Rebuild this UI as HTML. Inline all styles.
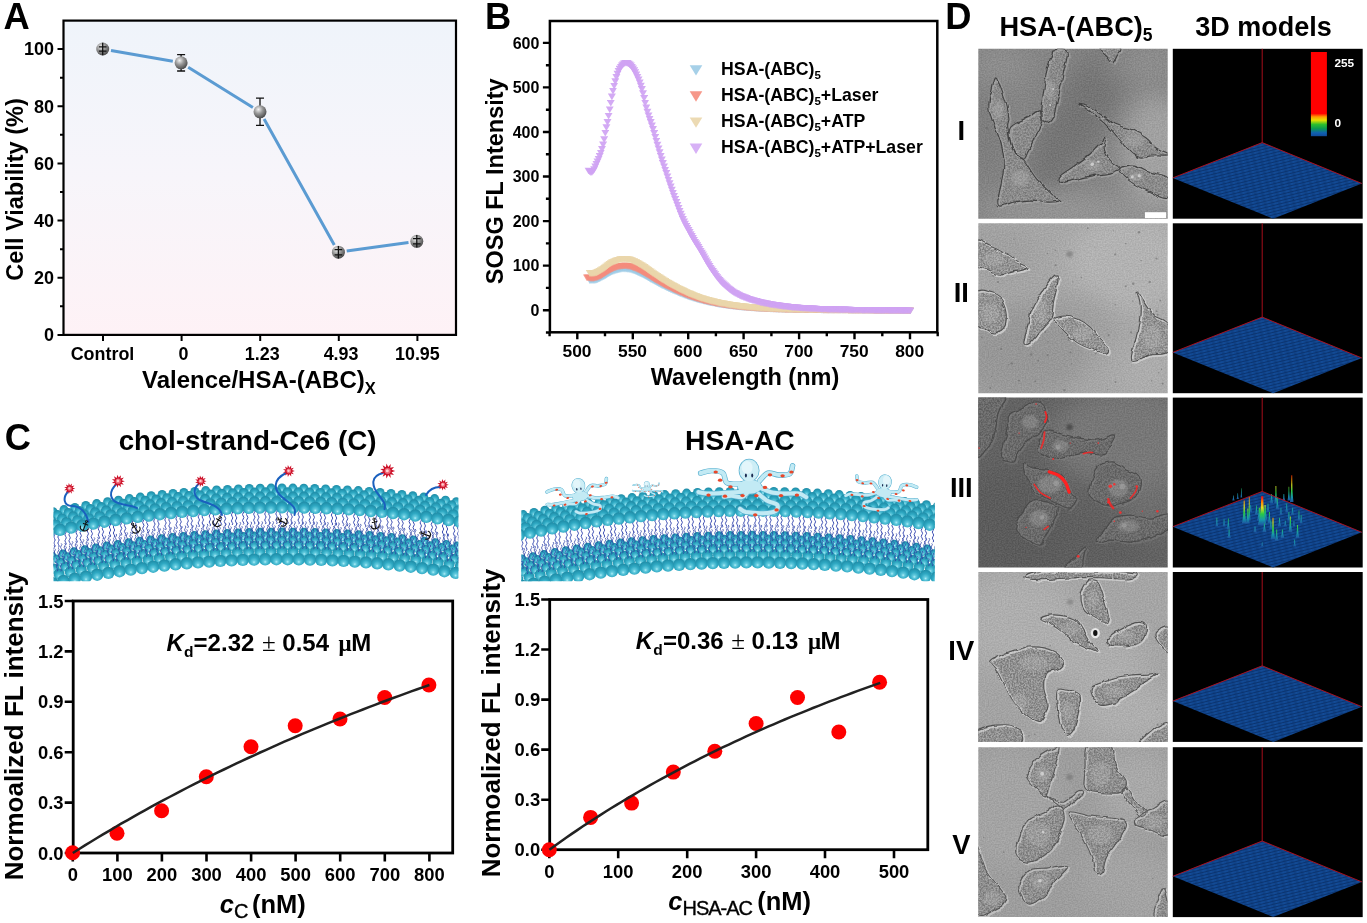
<!DOCTYPE html>
<html lang="en"><head><meta charset="utf-8"><title>Figure</title>
<style>
html,body{margin:0;padding:0;background:#fff;}
body{width:1367px;height:923px;overflow:hidden;}
svg{display:block}
text{font-family:"Liberation Sans",Arial,Helvetica,sans-serif;font-weight:bold;fill:#000}
.it{font-style:italic}
.rg{font-weight:normal}
</style></head><body>
<svg width="1367" height="923" viewBox="0 0 1367 923">
<!-- p_defs -->
<defs>
<linearGradient id="gA" x1="0" y1="0" x2="0" y2="1">
<stop offset="0" stop-color="#eff4fa"/><stop offset="0.5" stop-color="#f7f5fa"/><stop offset="1" stop-color="#fef2f6"/>
</linearGradient>
<radialGradient id="gSph" cx="0.38" cy="0.32" r="0.7">
<stop offset="0" stop-color="#f2f2f2"/><stop offset="0.45" stop-color="#9a9a9a"/><stop offset="1" stop-color="#4a4a4a"/>
</radialGradient>
</defs>
<rect x="0" y="0" width="1367" height="923" fill="#ffffff"/>
<!-- p_a -->
<rect x="63.5" y="20.6" width="392.5" height="314.29999999999995" fill="url(#gA)"/>
<path d="M111.0 50.5L172.8 61.3M188.2 67.2L252.9 107.4M264.1 119.1L334.3 244.9M346.7 251.0L408.5 242.5" fill="none" stroke="#5b9bd2" stroke-width="3"/>
<path d="M181.1 54.599999999999994V71.0M177.1 54.599999999999994h8M177.1 71.0h8" stroke="#111" stroke-width="1.3" fill="none"/>
<path d="M260.0 98.2V125.39999999999999M256.0 98.2h8M256.0 125.39999999999999h8" stroke="#111" stroke-width="1.3" fill="none"/>
<circle cx="102.7" cy="49.0" r="6.5" fill="url(#gSph)"/>
<circle cx="181.1" cy="62.8" r="6.5" fill="url(#gSph)"/>
<circle cx="260.0" cy="111.8" r="6.5" fill="url(#gSph)"/>
<circle cx="338.4" cy="252.2" r="6.5" fill="url(#gSph)"/>
<circle cx="416.8" cy="241.3" r="6.5" fill="url(#gSph)"/>
<path d="M102.7 42.7V55.3M98.9 46.8h7.6M98.9 51.2h7.6" stroke="#111" stroke-width="1.3" fill="none"/>
<path d="M338.4 245.89999999999998V258.5M334.59999999999997 249.6h7.6M334.59999999999997 254.79999999999998h7.6" stroke="#111" stroke-width="1.3" fill="none"/>
<path d="M416.8 235.0V247.60000000000002M413.0 238.70000000000002h7.6M413.0 243.9h7.6" stroke="#111" stroke-width="1.3" fill="none"/>
<rect x="63.5" y="20.6" width="392.5" height="314.29999999999995" fill="none" stroke="#000" stroke-width="2.2"/>
<path d="M63.5 334.9h-6M63.5 277.7h-6M63.5 220.6h-6M63.5 163.4h-6M63.5 106.3h-6M63.5 49.1h-6M63.5 306.3h-3.5M63.5 249.2h-3.5M63.5 192.0h-3.5M63.5 134.8h-3.5M63.5 77.7h-3.5M103 334.9v6M181.6 334.9v6M260.2 334.9v6M338.8 334.9v6M417.4 334.9v6" stroke="#000" stroke-width="2" fill="none"/>
<text x="54" y="341.2" font-size="18" text-anchor="end">0</text>
<text x="54" y="284.0" font-size="18" text-anchor="end">20</text>
<text x="54" y="226.9" font-size="18" text-anchor="end">40</text>
<text x="54" y="169.7" font-size="18" text-anchor="end">60</text>
<text x="54" y="112.6" font-size="18" text-anchor="end">80</text>
<text x="54" y="55.4" font-size="18" text-anchor="end">100</text>
<text x="102.5" y="360.3" font-size="17.9" text-anchor="middle">Control</text>
<text x="183.6" y="360.3" font-size="17.9" text-anchor="middle">0</text>
<text x="262.2" y="360.3" font-size="17.9" text-anchor="middle">1.23</text>
<text x="341.1" y="360.3" font-size="17.9" text-anchor="middle">4.93</text>
<text x="417.4" y="360.3" font-size="17.9" text-anchor="middle">10.95</text>
<text x="142" y="387.6" font-size="24">Valence/HSA-(ABC)<tspan font-size="16.5" dy="6.6">X</tspan></text>
<text transform="translate(22.5,189.5) rotate(-90)" font-size="23.5" text-anchor="middle">Cell Viability (%)</text>
<text x="3.6" y="29" font-size="36.3">A</text>
<!-- p_b -->
<defs>
<marker id="mB1" viewBox="-6 -5 12 10" markerWidth="8.4" markerHeight="7" markerUnits="userSpaceOnUse" refX="0" refY="0" orient="0"><path d="M-5.7 -4.6H5.7L0 5Z" fill="#9ccbe6" fill-opacity="0.8"/></marker>
<marker id="mB2" viewBox="-6 -5 12 10" markerWidth="8.4" markerHeight="7" markerUnits="userSpaceOnUse" refX="0" refY="0" orient="0"><path d="M-5.7 -4.6H5.7L0 5Z" fill="#f58c7c" fill-opacity="0.85"/></marker>
<marker id="mB3" viewBox="-6 -5 12 10" markerWidth="8.4" markerHeight="7" markerUnits="userSpaceOnUse" refX="0" refY="0" orient="0"><path d="M-5.7 -4.6H5.7L0 5Z" fill="#ead6ab" fill-opacity="0.9"/></marker>
<marker id="mB4" viewBox="-6 -5 12 10" markerWidth="8.4" markerHeight="7" markerUnits="userSpaceOnUse" refX="0" refY="0" orient="0"><path d="M-5.7 -4.6H5.7L0 5Z" fill="#cfa3f3" fill-opacity="0.92"/></marker>
</defs>
<polyline points="589.8,280.4 590.9,280.5 592.0,280.5 593.1,280.5 594.2,280.4 595.3,280.2 596.4,280.0 597.5,279.6 598.6,279.1 599.7,278.7 600.8,278.1 602.0,277.5 603.1,276.9 604.2,276.3 605.3,275.7 606.4,275.0 607.5,274.3 608.6,273.6 609.7,273.0 610.8,272.4 611.9,271.9 613.0,271.4 614.2,271.0 615.3,270.6 616.4,270.3 617.5,270.0 618.6,269.7 619.7,269.4 620.8,269.3 621.9,269.1 623.0,269.1 624.1,269.0 625.2,269.0 626.4,269.1 627.5,269.2 628.6,269.3 629.7,269.5 630.8,269.7 631.9,270.1 633.0,270.5 634.1,270.9 635.2,271.3 636.3,271.7 637.4,272.2 638.5,272.7 639.7,273.2 640.8,273.8 641.9,274.3 643.0,274.9 644.1,275.5 645.2,276.0 646.3,276.6 647.4,277.3 648.5,277.9 649.6,278.5 650.7,279.2 651.9,279.8 653.0,280.4 654.1,281.1 655.2,281.7 656.3,282.2 657.4,282.8 658.5,283.4 659.6,284.0 660.7,284.6 661.8,285.2 662.9,285.8 664.1,286.3 665.2,286.9 666.3,287.4 667.4,287.9 668.5,288.4 669.6,288.9 670.7,289.4 671.8,289.9 672.9,290.4 674.0,290.9 675.1,291.4 676.3,291.8 677.4,292.3 678.5,292.8 679.6,293.2 680.7,293.7 681.8,294.1 682.9,294.5 684.0,295.0 685.1,295.4 686.2,295.8 687.3,296.2 688.5,296.6 689.6,297.0 690.7,297.3 691.8,297.7 692.9,298.1 694.0,298.4 695.1,298.8 696.2,299.1 697.3,299.4 698.4,299.7 699.5,300.0 700.7,300.3 701.8,300.6 702.9,300.9 704.0,301.2 705.1,301.5 706.2,301.7 707.3,302.0 708.4,302.2 709.5,302.5 710.6,302.7 711.7,302.9 712.9,303.1 714.0,303.3 715.1,303.6 716.2,303.8 717.3,304.0 718.4,304.2 719.5,304.4 720.6,304.5 721.7,304.7 722.8,304.9 723.9,305.1 725.1,305.2 726.2,305.4 727.3,305.5 728.4,305.7 729.5,305.8 730.6,306.0 731.7,306.1 732.8,306.2 733.9,306.4 735.0,306.5 736.1,306.6 737.3,306.7 738.4,306.9 739.5,307.0 740.6,307.1 741.7,307.2 742.8,307.3 743.9,307.4 745.0,307.5 746.1,307.5 747.2,307.6 748.3,307.7 749.4,307.8 750.6,307.9 751.7,308.0 752.8,308.0 753.9,308.1 755.0,308.2 756.1,308.3 757.2,308.3 758.3,308.4 759.4,308.5 760.5,308.5 761.6,308.6 762.8,308.6 763.9,308.7 765.0,308.7 766.1,308.8 767.2,308.8 768.3,308.9 769.4,308.9 770.5,309.0 771.6,309.0 772.7,309.0 773.8,309.1 775.0,309.1 776.1,309.2 777.2,309.2 778.3,309.2 779.4,309.3 780.5,309.3 781.6,309.3 782.7,309.4 783.8,309.4 784.9,309.4 786.0,309.4 787.2,309.5 788.3,309.5 789.4,309.5 790.5,309.6 791.6,309.6 792.7,309.6 793.8,309.6 794.9,309.6 796.0,309.7 797.1,309.7 798.2,309.7 799.4,309.7 800.5,309.7 801.6,309.7 802.7,309.8 803.8,309.8 804.9,309.8 806.0,309.8 807.1,309.8 808.2,309.8 809.3,309.8 810.4,309.8 811.6,309.9 812.7,309.9 813.8,309.9 814.9,309.9 816.0,309.9 817.1,309.9 818.2,309.9 819.3,309.9 820.4,309.9 821.5,310.0 822.6,310.0 823.8,310.0 824.9,310.0 826.0,310.0 827.1,310.0 828.2,310.0 829.3,310.0 830.4,310.0 831.5,310.0 832.6,310.0 833.7,310.0 834.8,310.1 836.0,310.1 837.1,310.1 838.2,310.1 839.3,310.1 840.4,310.1 841.5,310.1 842.6,310.1 843.7,310.1 844.8,310.1 845.9,310.1 847.0,310.1 848.2,310.2 849.3,310.2 850.4,310.2 851.5,310.2 852.6,310.2 853.7,310.2 854.8,310.2 855.9,310.2 857.0,310.2 858.1,310.2 859.2,310.2 860.3,310.2 861.5,310.3 862.6,310.3 863.7,310.3 864.8,310.3 865.9,310.3 867.0,310.3 868.1,310.3 869.2,310.3 870.3,310.3 871.4,310.3 872.5,310.3 873.7,310.3 874.8,310.4 875.9,310.4 877.0,310.4 878.1,310.4 879.2,310.4 880.3,310.4 881.4,310.4 882.5,310.4 883.6,310.4 884.7,310.4 885.9,310.4 887.0,310.4 888.1,310.5 889.2,310.5 890.3,310.5 891.4,310.5 892.5,310.5 893.6,310.5 894.7,310.5 895.8,310.5 896.9,310.5 898.1,310.5 899.2,310.5 900.3,310.5 901.4,310.5 902.5,310.6 903.6,310.6 904.7,310.6 905.8,310.6 906.9,310.6 908.0,310.6 909.1,310.6 910.3,310.6" fill="none" stroke="none" marker-start="url(#mB1)" marker-mid="url(#mB1)" marker-end="url(#mB1)"/>
<polyline points="587.0,277.8 588.1,277.8 589.2,278.0 590.3,278.2 591.4,278.3 592.5,278.3 593.6,278.2 594.7,278.1 595.9,277.8 597.0,277.5 598.1,277.0 599.2,276.5 600.3,276.0 601.4,275.4 602.5,274.8 603.6,274.1 604.7,273.4 605.8,272.7 606.9,272.0 608.1,271.2 609.2,270.5 610.3,269.9 611.4,269.3 612.5,268.8 613.6,268.3 614.7,267.8 615.8,267.4 616.9,267.1 618.0,266.8 619.1,266.5 620.3,266.2 621.4,266.1 622.5,266.0 623.6,265.9 624.7,265.9 625.8,265.9 626.9,266.0 628.0,266.2 629.1,266.3 630.2,266.5 631.3,266.9 632.5,267.2 633.6,267.7 634.7,268.1 635.8,268.5 636.9,269.0 638.0,269.6 639.1,270.1 640.2,270.7 641.3,271.3 642.4,271.9 643.5,272.5 644.6,273.1 645.8,273.8 646.9,274.4 648.0,275.1 649.1,275.8 650.2,276.5 651.3,277.2 652.4,277.9 653.5,278.5 654.6,279.2 655.7,279.8 656.8,280.5 658.0,281.1 659.1,281.7 660.2,282.4 661.3,283.0 662.4,283.6 663.5,284.2 664.6,284.8 665.7,285.4 666.8,285.9 667.9,286.5 669.0,287.1 670.2,287.6 671.3,288.1 672.4,288.7 673.5,289.2 674.6,289.7 675.7,290.2 676.8,290.7 677.9,291.2 679.0,291.7 680.1,292.2 681.2,292.6 682.4,293.1 683.5,293.6 684.6,294.0 685.7,294.5 686.8,294.9 687.9,295.4 689.0,295.8 690.1,296.2 691.2,296.6 692.3,297.0 693.4,297.3 694.6,297.7 695.7,298.1 696.8,298.4 697.9,298.8 699.0,299.1 700.1,299.4 701.2,299.8 702.3,300.1 703.4,300.4 704.5,300.7 705.6,300.9 706.8,301.2 707.9,301.5 709.0,301.8 710.1,302.0 711.2,302.2 712.3,302.5 713.4,302.7 714.5,302.9 715.6,303.2 716.7,303.4 717.8,303.6 719.0,303.8 720.1,304.0 721.2,304.2 722.3,304.4 723.4,304.6 724.5,304.8 725.6,304.9 726.7,305.1 727.8,305.3 728.9,305.4 730.0,305.6 731.2,305.7 732.3,305.9 733.4,306.0 734.5,306.1 735.6,306.3 736.7,306.4 737.8,306.5 738.9,306.7 740.0,306.8 741.1,306.9 742.2,307.0 743.4,307.1 744.5,307.2 745.6,307.3 746.7,307.4 747.8,307.5 748.9,307.6 750.0,307.7 751.1,307.8 752.2,307.8 753.3,307.9 754.4,308.0 755.5,308.1 756.7,308.2 757.8,308.2 758.9,308.3 760.0,308.4 761.1,308.4 762.2,308.5 763.3,308.5 764.4,308.6 765.5,308.6 766.6,308.7 767.7,308.7 768.9,308.8 770.0,308.8 771.1,308.9 772.2,308.9 773.3,309.0 774.4,309.0 775.5,309.1 776.6,309.1 777.7,309.1 778.8,309.2 779.9,309.2 781.1,309.2 782.2,309.3 783.3,309.3 784.4,309.3 785.5,309.4 786.6,309.4 787.7,309.4 788.8,309.5 789.9,309.5 791.0,309.5 792.1,309.5 793.3,309.6 794.4,309.6 795.5,309.6 796.6,309.6 797.7,309.7 798.8,309.7 799.9,309.7 801.0,309.7 802.1,309.7 803.2,309.7 804.3,309.7 805.5,309.8 806.6,309.8 807.7,309.8 808.8,309.8 809.9,309.8 811.0,309.8 812.1,309.8 813.2,309.9 814.3,309.9 815.4,309.9 816.5,309.9 817.7,309.9 818.8,309.9 819.9,309.9 821.0,309.9 822.1,309.9 823.2,310.0 824.3,310.0 825.4,310.0 826.5,310.0 827.6,310.0 828.7,310.0 829.9,310.0 831.0,310.0 832.1,310.0 833.2,310.0 834.3,310.0 835.4,310.1 836.5,310.1 837.6,310.1 838.7,310.1 839.8,310.1 840.9,310.1 842.1,310.1 843.2,310.1 844.3,310.1 845.4,310.1 846.5,310.1 847.6,310.1 848.7,310.2 849.8,310.2 850.9,310.2 852.0,310.2 853.1,310.2 854.2,310.2 855.4,310.2 856.5,310.2 857.6,310.2 858.7,310.2 859.8,310.2 860.9,310.3 862.0,310.3 863.1,310.3 864.2,310.3 865.3,310.3 866.4,310.3 867.6,310.3 868.7,310.3 869.8,310.3 870.9,310.3 872.0,310.3 873.1,310.4 874.2,310.4 875.3,310.4 876.4,310.4 877.5,310.4 878.6,310.4 879.8,310.4 880.9,310.4 882.0,310.4 883.1,310.4 884.2,310.4 885.3,310.4 886.4,310.5 887.5,310.5 888.6,310.5 889.7,310.5 890.8,310.5 892.0,310.5 893.1,310.5 894.2,310.5 895.3,310.5 896.4,310.5 897.5,310.5 898.6,310.5 899.7,310.6 900.8,310.6 901.9,310.6 903.0,310.6 904.2,310.6 905.3,310.6 906.4,310.6 907.5,310.6 908.6,310.6 909.7,310.6" fill="none" stroke="none" marker-start="url(#mB2)" marker-mid="url(#mB2)" marker-end="url(#mB2)"/>
<polyline points="589.8,273.3 590.9,273.4 592.0,273.5 593.1,273.4 594.2,273.3 595.3,273.1 596.4,272.8 597.5,272.3 598.6,271.7 599.7,271.1 600.8,270.5 602.0,269.8 603.1,269.0 604.2,268.2 605.3,267.5 606.4,266.6 607.5,265.8 608.6,264.9 609.7,264.1 610.8,263.5 611.9,262.8 613.0,262.2 614.2,261.7 615.3,261.2 616.4,260.8 617.5,260.4 618.6,260.0 619.7,259.7 620.8,259.5 621.9,259.4 623.0,259.3 624.1,259.2 625.2,259.2 626.4,259.3 627.5,259.4 628.6,259.6 629.7,259.8 630.8,260.1 631.9,260.5 633.0,261.0 634.1,261.5 635.2,262.0 636.3,262.5 637.4,263.1 638.5,263.8 639.7,264.4 640.8,265.1 641.9,265.8 643.0,266.5 644.1,267.2 645.2,267.9 646.3,268.7 647.4,269.4 648.5,270.2 649.6,271.0 650.7,271.8 651.9,272.6 653.0,273.4 654.1,274.1 655.2,274.9 656.3,275.6 657.4,276.3 658.5,277.1 659.6,277.8 660.7,278.5 661.8,279.2 662.9,279.9 664.1,280.6 665.2,281.3 666.3,282.0 667.4,282.6 668.5,283.3 669.6,283.9 670.7,284.5 671.8,285.1 672.9,285.7 674.0,286.3 675.1,286.9 676.3,287.5 677.4,288.0 678.5,288.6 679.6,289.2 680.7,289.7 681.8,290.3 682.9,290.8 684.0,291.3 685.1,291.9 686.2,292.4 687.3,292.9 688.5,293.4 689.6,293.8 690.7,294.3 691.8,294.7 692.9,295.2 694.0,295.6 695.1,296.1 696.2,296.5 697.3,296.9 698.4,297.3 699.5,297.6 700.7,298.0 701.8,298.4 702.9,298.7 704.0,299.1 705.1,299.4 706.2,299.7 707.3,300.0 708.4,300.3 709.5,300.6 710.6,300.9 711.7,301.2 712.9,301.4 714.0,301.7 715.1,302.0 716.2,302.2 717.3,302.5 718.4,302.7 719.5,303.0 720.6,303.2 721.7,303.4 722.8,303.6 723.9,303.8 725.1,304.0 726.2,304.2 727.3,304.4 728.4,304.6 729.5,304.8 730.6,305.0 731.7,305.1 732.8,305.3 733.9,305.5 735.0,305.6 736.1,305.8 737.3,305.9 738.4,306.1 739.5,306.2 740.6,306.3 741.7,306.5 742.8,306.6 743.9,306.7 745.0,306.8 746.1,306.9 747.2,307.0 748.3,307.1 749.4,307.2 750.6,307.3 751.7,307.4 752.8,307.5 753.9,307.6 755.0,307.7 756.1,307.8 757.2,307.9 758.3,308.0 759.4,308.0 760.5,308.1 761.6,308.2 762.8,308.3 763.9,308.3 765.0,308.4 766.1,308.4 767.2,308.5 768.3,308.6 769.4,308.6 770.5,308.7 771.6,308.7 772.7,308.8 773.8,308.8 775.0,308.9 776.1,308.9 777.2,308.9 778.3,309.0 779.4,309.0 780.5,309.1 781.6,309.1 782.7,309.2 783.8,309.2 784.9,309.2 786.0,309.3 787.2,309.3 788.3,309.3 789.4,309.4 790.5,309.4 791.6,309.4 792.7,309.5 793.8,309.5 794.9,309.5 796.0,309.5 797.1,309.6 798.2,309.6 799.4,309.6 800.5,309.6 801.6,309.6 802.7,309.7 803.8,309.7 804.9,309.7 806.0,309.7 807.1,309.7 808.2,309.7 809.3,309.8 810.4,309.8 811.6,309.8 812.7,309.8 813.8,309.8 814.9,309.8 816.0,309.8 817.1,309.8 818.2,309.9 819.3,309.9 820.4,309.9 821.5,309.9 822.6,309.9 823.8,309.9 824.9,309.9 826.0,309.9 827.1,310.0 828.2,310.0 829.3,310.0 830.4,310.0 831.5,310.0 832.6,310.0 833.7,310.0 834.8,310.0 836.0,310.0 837.1,310.0 838.2,310.1 839.3,310.1 840.4,310.1 841.5,310.1 842.6,310.1 843.7,310.1 844.8,310.1 845.9,310.1 847.0,310.1 848.2,310.1 849.3,310.2 850.4,310.2 851.5,310.2 852.6,310.2 853.7,310.2 854.8,310.2 855.9,310.2 857.0,310.2 858.1,310.2 859.2,310.2 860.3,310.3 861.5,310.3 862.6,310.3 863.7,310.3 864.8,310.3 865.9,310.3 867.0,310.3 868.1,310.3 869.2,310.3 870.3,310.4 871.4,310.4 872.5,310.4 873.7,310.4 874.8,310.4 875.9,310.4 877.0,310.4 878.1,310.4 879.2,310.4 880.3,310.4 881.4,310.5 882.5,310.5 883.6,310.5 884.7,310.5 885.9,310.5 887.0,310.5 888.1,310.5 889.2,310.5 890.3,310.5 891.4,310.5 892.5,310.5 893.6,310.6 894.7,310.6 895.8,310.6 896.9,310.6 898.1,310.6 899.2,310.6 900.3,310.6 901.4,310.6 902.5,310.6 903.6,310.6 904.7,310.7 905.8,310.7 906.9,310.7 908.0,310.7 909.1,310.7 910.3,310.7" fill="none" stroke="none" marker-start="url(#mB3)" marker-mid="url(#mB3)" marker-end="url(#mB3)"/>
<polyline points="588.6,170.9 589.8,171.8 590.9,172.5 592.0,172.2 593.1,171.0 594.2,169.4 595.3,166.8 596.4,164.1 597.5,161.6 598.6,159.1 599.7,156.3 600.8,153.0 602.0,149.2 603.1,144.8 604.2,139.4 605.3,133.0 606.4,127.4 607.5,122.2 608.6,116.1 609.7,109.6 610.8,103.1 611.9,96.8 613.0,91.0 614.2,86.0 615.3,81.4 616.4,77.3 617.5,73.9 618.6,71.2 619.7,68.9 620.8,67.0 621.9,65.6 623.0,64.6 624.1,63.7 625.2,63.1 626.4,63.0 627.5,63.3 628.6,63.9 629.7,64.8 630.8,65.8 631.9,67.1 633.0,68.7 634.1,70.5 635.2,72.5 636.3,74.7 637.4,77.1 638.5,79.8 639.7,82.7 640.8,85.9 641.9,89.3 643.0,93.5 644.1,98.2 645.2,103.0 646.3,107.7 647.4,111.9 648.5,115.6 649.6,119.0 650.7,122.3 651.9,125.7 653.0,129.3 654.1,133.2 655.2,137.1 656.3,141.0 657.4,144.9 658.5,148.7 659.6,152.4 660.7,156.1 661.8,159.7 662.9,163.2 664.1,166.6 665.2,170.0 666.3,173.3 667.4,176.7 668.5,180.0 669.6,183.4 670.7,186.7 671.8,189.9 672.9,193.1 674.0,196.2 675.1,199.2 676.3,202.2 677.4,205.2 678.5,208.2 679.6,211.1 680.7,213.9 681.8,216.6 682.9,219.2 684.0,221.6 685.1,223.9 686.2,226.1 687.3,228.2 688.5,230.3 689.6,232.3 690.7,234.4 691.8,236.3 692.9,238.3 694.0,240.1 695.1,242.0 696.2,243.7 697.3,245.5 698.4,247.3 699.5,249.1 700.7,251.0 701.8,252.9 702.9,254.8 704.0,256.7 705.1,258.7 706.2,260.6 707.3,262.5 708.4,264.4 709.5,266.2 710.6,268.0 711.7,269.7 712.9,271.3 714.0,272.9 715.1,274.5 716.2,276.0 717.3,277.5 718.4,278.9 719.5,280.2 720.6,281.4 721.7,282.6 722.8,283.7 723.9,284.7 725.1,285.8 726.2,286.8 727.3,287.7 728.4,288.6 729.5,289.5 730.6,290.3 731.7,291.1 732.8,291.9 733.9,292.6 735.0,293.2 736.1,293.8 737.3,294.4 738.4,294.9 739.5,295.5 740.6,296.0 741.7,296.5 742.8,296.9 743.9,297.4 745.0,297.8 746.1,298.2 747.2,298.6 748.3,299.0 749.4,299.4 750.6,299.7 751.7,300.1 752.8,300.4 753.9,300.7 755.0,301.0 756.1,301.3 757.2,301.6 758.3,301.9 759.4,302.1 760.5,302.4 761.6,302.7 762.8,302.9 763.9,303.2 765.0,303.4 766.1,303.6 767.2,303.8 768.3,304.0 769.4,304.3 770.5,304.4 771.6,304.6 772.7,304.8 773.8,305.0 775.0,305.2 776.1,305.3 777.2,305.5 778.3,305.6 779.4,305.8 780.5,305.9 781.6,306.1 782.7,306.2 783.8,306.4 784.9,306.5 786.0,306.7 787.2,306.8 788.3,306.9 789.4,307.0 790.5,307.1 791.6,307.3 792.7,307.4 793.8,307.5 794.9,307.6 796.0,307.7 797.1,307.8 798.2,307.9 799.4,307.9 800.5,308.0 801.6,308.1 802.7,308.2 803.8,308.2 804.9,308.3 806.0,308.4 807.1,308.4 808.2,308.5 809.3,308.6 810.4,308.6 811.6,308.7 812.7,308.7 813.8,308.8 814.9,308.9 816.0,308.9 817.1,309.0 818.2,309.0 819.3,309.1 820.4,309.1 821.5,309.2 822.6,309.2 823.8,309.3 824.9,309.3 826.0,309.3 827.1,309.4 828.2,309.4 829.3,309.4 830.4,309.5 831.5,309.5 832.6,309.5 833.7,309.6 834.8,309.6 836.0,309.6 837.1,309.7 838.2,309.7 839.3,309.7 840.4,309.7 841.5,309.8 842.6,309.8 843.7,309.8 844.8,309.8 845.9,309.9 847.0,309.9 848.2,309.9 849.3,309.9 850.4,309.9 851.5,310.0 852.6,310.0 853.7,310.0 854.8,310.0 855.9,310.0 857.0,310.1 858.1,310.1 859.2,310.1 860.3,310.1 861.5,310.1 862.6,310.2 863.7,310.2 864.8,310.2 865.9,310.2 867.0,310.2 868.1,310.2 869.2,310.3 870.3,310.3 871.4,310.3 872.5,310.3 873.7,310.3 874.8,310.4 875.9,310.4 877.0,310.4 878.1,310.4 879.2,310.4 880.3,310.4 881.4,310.5 882.5,310.5 883.6,310.5 884.7,310.5 885.9,310.5 887.0,310.5 888.1,310.5 889.2,310.6 890.3,310.6 891.4,310.6 892.5,310.6 893.6,310.6 894.7,310.6 895.8,310.7 896.9,310.7 898.1,310.7 899.2,310.7 900.3,310.7 901.4,310.7 902.5,310.7 903.6,310.8 904.7,310.8 905.8,310.8 906.9,310.8 908.0,310.8 909.1,310.8 910.3,310.9" fill="none" stroke="none" marker-start="url(#mB4)" marker-mid="url(#mB4)" marker-end="url(#mB4)"/>
<rect x="549.9" y="21.0" width="387.4" height="311.3" fill="none" stroke="#000" stroke-width="2.5"/>
<path d="M549.9 310.2h-7M549.9 265.6h-7M549.9 221.1h-7M549.9 176.5h-7M549.9 132.0h-7M549.9 87.4h-7M549.9 42.9h-7M549.9 332.5h-4M549.9 287.9h-4M549.9 243.4h-4M549.9 198.8h-4M549.9 154.3h-4M549.9 109.7h-4M549.9 65.2h-4M577.3 332.3v7M632.8 332.3v7M688.2 332.3v7M743.6 332.3v7M799.1 332.3v7M854.5 332.3v7M910.0 332.3v7M549.6 332.3v4M605.0 332.3v4M660.5 332.3v4M715.9 332.3v4M771.4 332.3v4M826.8 332.3v4M882.3 332.3v4M937.7 332.3v4" stroke="#000" stroke-width="2.4" fill="none"/>
<text x="539.4" y="316.0" font-size="16" text-anchor="end">0</text>
<text x="539.4" y="271.4" font-size="16" text-anchor="end">100</text>
<text x="539.4" y="226.9" font-size="16" text-anchor="end">200</text>
<text x="539.4" y="182.3" font-size="16" text-anchor="end">300</text>
<text x="539.4" y="137.8" font-size="16" text-anchor="end">400</text>
<text x="539.4" y="93.2" font-size="16" text-anchor="end">500</text>
<text x="539.4" y="48.7" font-size="16" text-anchor="end">600</text>
<text x="577.0" y="356.8" font-size="17.4" text-anchor="middle">500</text>
<text x="632.5" y="356.8" font-size="17.4" text-anchor="middle">550</text>
<text x="687.9" y="356.8" font-size="17.4" text-anchor="middle">600</text>
<text x="743.4" y="356.8" font-size="17.4" text-anchor="middle">650</text>
<text x="798.8" y="356.8" font-size="17.4" text-anchor="middle">700</text>
<text x="854.2" y="356.8" font-size="17.4" text-anchor="middle">750</text>
<text x="909.7" y="356.8" font-size="17.4" text-anchor="middle">800</text>
<text x="745" y="384.8" font-size="23.5" text-anchor="middle">Wavelength (nm)</text>
<text transform="translate(503.3,181.3) rotate(-90)" font-size="23.5" text-anchor="middle">SOSG FL Intensity</text>
<text x="485.1" y="29" font-size="36.3">B</text>
<path d="M689.7 65.2h12.6l-6.3 10.4z" fill="#9ccbe6" fill-opacity="0.9"/>
<text x="721.1" y="74.7" font-size="17.7">HSA-(ABC)<tspan font-size="11.5" dy="4">5</tspan><tspan dy="-4"></tspan></text>
<path d="M689.7 91.3h12.6l-6.3 10.4z" fill="#f58c7c" fill-opacity="0.9"/>
<text x="721.1" y="100.8" font-size="17.7">HSA-(ABC)<tspan font-size="11.5" dy="4">5</tspan><tspan dy="-4">+Laser</tspan></text>
<path d="M689.7 117.4h12.6l-6.3 10.4z" fill="#ead6ab" fill-opacity="0.9"/>
<text x="721.1" y="126.9" font-size="17.7">HSA-(ABC)<tspan font-size="11.5" dy="4">5</tspan><tspan dy="-4">+ATP</tspan></text>
<path d="M689.7 143.5h12.6l-6.3 10.4z" fill="#d3a9f5" fill-opacity="0.9"/>
<text x="721.1" y="153.0" font-size="17.7">HSA-(ABC)<tspan font-size="11.5" dy="4">5</tspan><tspan dy="-4">+ATP+Laser</tspan></text>
<!-- p_c -->
<rect x="73.2" y="601.0" width="379.5" height="252.0" fill="none" stroke="#000" stroke-width="2.8"/>
<path d="M73.2 853.0h-8.5M73.2 802.6h-8.5M73.2 752.2h-8.5M73.2 701.8h-8.5M73.2 651.4h-8.5M73.2 601.0h-8.5M72.8 853.0v8.5M117.4 853.0v8.5M161.9 853.0v8.5M206.5 853.0v8.5M251.1 853.0v8.5M295.6 853.0v8.5M340.2 853.0v8.5M384.8 853.0v8.5M429.4 853.0v8.5" stroke="#000" stroke-width="2.6" fill="none"/>
<circle cx="72.6" cy="852.7" r="7.5" fill="#fe0000"/>
<circle cx="117" cy="833.2" r="7.5" fill="#fe0000"/>
<circle cx="161.6" cy="810.8" r="7.5" fill="#fe0000"/>
<circle cx="206.3" cy="776.7" r="7.5" fill="#fe0000"/>
<circle cx="251" cy="746.7" r="7.5" fill="#fe0000"/>
<circle cx="295.2" cy="725.8" r="7.5" fill="#fe0000"/>
<circle cx="340" cy="719" r="7.5" fill="#fe0000"/>
<circle cx="384.7" cy="697.5" r="7.5" fill="#fe0000"/>
<circle cx="428.9" cy="685" r="7.5" fill="#fe0000"/>
<path d="M72.8 853.0 L78.8 849.2 L84.9 845.4 L90.9 841.7 L97.0 838.0 L103.0 834.4 L109.1 830.8 L115.1 827.2 L121.1 823.7 L127.2 820.3 L133.2 816.8 L139.3 813.4 L145.3 810.1 L151.4 806.7 L157.4 803.4 L163.5 800.2 L169.5 797.0 L175.5 793.8 L181.6 790.6 L187.6 787.5 L193.7 784.4 L199.7 781.4 L205.8 778.4 L211.8 775.4 L217.8 772.4 L223.9 769.5 L229.9 766.6 L236.0 763.7 L242.0 760.9 L248.1 758.0 L254.1 755.3 L260.1 752.5 L266.2 749.8 L272.2 747.1 L278.3 744.4 L284.3 741.7 L290.4 739.1 L296.4 736.5 L302.4 733.9 L308.5 731.4 L314.5 728.9 L320.6 726.3 L326.6 723.9 L332.7 721.4 L338.7 719.0 L344.8 716.6 L350.8 714.2 L356.8 711.8 L362.9 709.5 L368.9 707.1 L375.0 704.8 L381.0 702.5 L387.1 700.3 L393.1 698.0 L399.1 695.8 L405.2 693.6 L411.2 691.4 L417.3 689.3 L423.3 687.1 L429.4 685.0" stroke="#222" stroke-width="2.5" fill="none"/>
<text x="63.5" y="859.6" font-size="18.4" text-anchor="end">0.0</text>
<text x="63.5" y="809.2" font-size="18.4" text-anchor="end">0.3</text>
<text x="63.5" y="758.8" font-size="18.4" text-anchor="end">0.6</text>
<text x="63.5" y="708.4" font-size="18.4" text-anchor="end">0.9</text>
<text x="63.5" y="658.0" font-size="18.4" text-anchor="end">1.2</text>
<text x="63.5" y="607.6" font-size="18.4" text-anchor="end">1.5</text>
<text x="72.8" y="880.6" font-size="18.4" text-anchor="middle">0</text>
<text x="117.4" y="880.6" font-size="18.4" text-anchor="middle">100</text>
<text x="161.9" y="880.6" font-size="18.4" text-anchor="middle">200</text>
<text x="206.5" y="880.6" font-size="18.4" text-anchor="middle">300</text>
<text x="251.1" y="880.6" font-size="18.4" text-anchor="middle">400</text>
<text x="295.6" y="880.6" font-size="18.4" text-anchor="middle">500</text>
<text x="340.2" y="880.6" font-size="18.4" text-anchor="middle">600</text>
<text x="384.8" y="880.6" font-size="18.4" text-anchor="middle">700</text>
<text x="429.4" y="880.6" font-size="18.4" text-anchor="middle">800</text>
<text y="650.7" font-size="24"><tspan x="166.4" class="it">K</tspan><tspan x="183.9" y="656.5" font-size="15.5">d</tspan><tspan x="193.6" y="650.7">=2.32</tspan><tspan x="261.9" font-family="Liberation Serif,serif" class="rg" font-size="25">±</tspan><tspan x="282.3">0.54</tspan><tspan x="338.6" font-family="Liberation Serif,serif" font-size="23">μ</tspan><tspan x="351.2">M</tspan></text>
<text transform="translate(23.4,726) rotate(-90)" font-size="26" text-anchor="middle">Normoalized FL intensity</text>
<text x="219.8" y="912.7" font-size="25.5"><tspan class="it">c</tspan><tspan class="rg" font-size="20" dy="5.7" stroke="#000" stroke-width="0.35">C</tspan><tspan x="252" dy="-5.7">(nM)</tspan></text>
<text x="247.6" y="449.6" font-size="27.8" text-anchor="middle">chol-strand-Ce6 (C)</text>
<text x="4.8" y="449.7" font-size="36.3">C</text>
<rect x="549.7" y="599.5" width="378.0999999999999" height="250.20000000000005" fill="none" stroke="#000" stroke-width="2.8"/>
<path d="M549.7 849.7h-8.5M549.7 799.7h-8.5M549.7 749.6h-8.5M549.7 699.6h-8.5M549.7 649.5h-8.5M549.7 599.5h-8.5M549.3 849.7v8.5M618.2 849.7v8.5M687.2 849.7v8.5M756.1 849.7v8.5M825.0 849.7v8.5M894.0 849.7v8.5" stroke="#000" stroke-width="2.6" fill="none"/>
<circle cx="549.3" cy="849.7" r="7.5" fill="#fe0000"/>
<circle cx="590.6" cy="817.4" r="7.5" fill="#fe0000"/>
<circle cx="631.6" cy="803.1" r="7.5" fill="#fe0000"/>
<circle cx="673.3" cy="772.1" r="7.5" fill="#fe0000"/>
<circle cx="714.8" cy="751.3" r="7.5" fill="#fe0000"/>
<circle cx="756.1" cy="723.5" r="7.5" fill="#fe0000"/>
<circle cx="797.5" cy="697.5" r="7.5" fill="#fe0000"/>
<circle cx="838.8" cy="732" r="7.5" fill="#fe0000"/>
<circle cx="879.6" cy="682.2" r="7.5" fill="#fe0000"/>
<path d="M549.3 849.7 L554.9 845.7 L560.5 841.7 L566.1 837.8 L571.7 833.9 L577.3 830.1 L582.9 826.3 L588.6 822.6 L594.2 819.0 L599.8 815.4 L605.4 811.8 L611.0 808.3 L616.6 804.9 L622.2 801.5 L627.8 798.1 L633.4 794.8 L639.0 791.5 L644.6 788.3 L650.2 785.1 L655.8 782.0 L661.5 778.9 L667.1 775.8 L672.7 772.8 L678.3 769.8 L683.9 766.9 L689.5 763.9 L695.1 761.1 L700.7 758.2 L706.3 755.4 L711.9 752.7 L717.5 749.9 L723.1 747.2 L728.8 744.6 L734.4 741.9 L740.0 739.3 L745.6 736.7 L751.2 734.2 L756.8 731.7 L762.4 729.2 L768.0 726.7 L773.6 724.3 L779.2 721.9 L784.8 719.5 L790.4 717.2 L796.0 714.8 L801.7 712.6 L807.3 710.3 L812.9 708.0 L818.5 705.8 L824.1 703.6 L829.7 701.4 L835.3 699.3 L840.9 697.2 L846.5 695.1 L852.1 693.0 L857.7 690.9 L863.3 688.9 L868.9 686.9 L874.6 684.9 L880.2 682.9" stroke="#222" stroke-width="2.5" fill="none"/>
<text x="540.2" y="856.3" font-size="18.4" text-anchor="end">0.0</text>
<text x="540.2" y="806.3" font-size="18.4" text-anchor="end">0.3</text>
<text x="540.2" y="756.2" font-size="18.4" text-anchor="end">0.6</text>
<text x="540.2" y="706.2" font-size="18.4" text-anchor="end">0.9</text>
<text x="540.2" y="656.1" font-size="18.4" text-anchor="end">1.2</text>
<text x="540.2" y="606.1" font-size="18.4" text-anchor="end">1.5</text>
<text x="549.3" y="878.4" font-size="18.4" text-anchor="middle">0</text>
<text x="618.2" y="878.4" font-size="18.4" text-anchor="middle">100</text>
<text x="687.2" y="878.4" font-size="18.4" text-anchor="middle">200</text>
<text x="756.1" y="878.4" font-size="18.4" text-anchor="middle">300</text>
<text x="825.0" y="878.4" font-size="18.4" text-anchor="middle">400</text>
<text x="894.0" y="878.4" font-size="18.4" text-anchor="middle">500</text>
<text y="648.9" font-size="24"><tspan x="635.7" class="it">K</tspan><tspan x="653.2" y="654.7" font-size="15.5">d</tspan><tspan x="662.9" y="648.9">=0.36</tspan><tspan x="731.2" font-family="Liberation Serif,serif" class="rg" font-size="25">±</tspan><tspan x="751.6">0.13</tspan><tspan x="807.9" font-family="Liberation Serif,serif" font-size="23">μ</tspan><tspan x="820.5">M</tspan></text>
<text transform="translate(499.6,723) rotate(-90)" font-size="26" text-anchor="middle">Normoalized FL intensity</text>
<text x="668.3" y="909.6" font-size="25.5"><tspan class="it">c</tspan><tspan class="rg" font-size="20" dy="5.7" letter-spacing="-1" stroke="#000" stroke-width="0.35">HSA-AC</tspan><tspan x="757.3" dy="-5.7">(nM)</tspan></text>
<text x="739.9" y="449.6" font-size="28.2" text-anchor="middle">HSA-AC</text>
<!-- p_mem -->
<defs>
<radialGradient id="gTeal" cx="0.5" cy="0.62" r="0.62" fx="0.5" fy="0.72">
<stop offset="0" stop-color="#b0eef7"/><stop offset="0.2" stop-color="#62cade"/><stop offset="0.55" stop-color="#2fa9c3"/><stop offset="1" stop-color="#1d8aa5"/>
</radialGradient>
<path id="tl1" d="M-2 0q1.4 1.5 0 3t0 3t0 3t0 3t0 2.6M2 0q1.4 1.5 0 3t0 3t0 3t0 3t0 3" fill="none" stroke="#3b4db2" stroke-width="1"/>
<path id="tl2" d="M-1.8 0q1.4 -1.4 0 -2.8t0 -2.8t0 -2.4M1.8 0q1.4 -1.4 0 -2.8t0 -2.8t0 -2.8" fill="none" stroke="#2f45a8" stroke-width="0.95"/>
</defs>
<clipPath id="clL"><rect x="53.5" y="453.8" width="404.9" height="127.49999999999994"/></clipPath>
<g clip-path="url(#clL)">
<g fill="url(#gTeal)"><circle cx="52.1" cy="555.6" r="4.0"/><circle cx="63.0" cy="553.4" r="4.0"/><circle cx="74.0" cy="551.3" r="4.0"/><circle cx="84.9" cy="549.3" r="4.0"/><circle cx="95.9" cy="547.4" r="4.0"/><circle cx="106.8" cy="545.6" r="4.0"/><circle cx="117.8" cy="543.9" r="4.0"/><circle cx="128.7" cy="542.3" r="4.0"/><circle cx="139.7" cy="540.8" r="4.0"/><circle cx="150.6" cy="539.4" r="4.0"/><circle cx="161.6" cy="538.2" r="4.0"/><circle cx="172.5" cy="537.1" r="4.0"/><circle cx="183.4" cy="536.0" r="4.0"/><circle cx="194.4" cy="535.1" r="4.0"/><circle cx="205.4" cy="534.3" r="4.0"/><circle cx="216.3" cy="533.6" r="4.0"/><circle cx="227.2" cy="533.0" r="4.0"/><circle cx="238.2" cy="532.5" r="4.0"/><circle cx="249.2" cy="532.1" r="4.0"/><circle cx="260.1" cy="531.8" r="4.0"/><circle cx="271.1" cy="531.7" r="4.0"/><circle cx="282.0" cy="531.6" r="4.0"/><circle cx="292.9" cy="531.7" r="4.0"/><circle cx="303.9" cy="531.8" r="4.0"/><circle cx="314.9" cy="532.1" r="4.0"/><circle cx="325.8" cy="532.5" r="4.0"/><circle cx="336.8" cy="533.0" r="4.0"/><circle cx="347.7" cy="533.6" r="4.0"/><circle cx="358.6" cy="534.3" r="4.0"/><circle cx="369.6" cy="535.1" r="4.0"/><circle cx="380.6" cy="536.0" r="4.0"/><circle cx="391.5" cy="537.1" r="4.0"/><circle cx="402.4" cy="538.2" r="4.0"/><circle cx="413.4" cy="539.4" r="4.0"/><circle cx="424.4" cy="540.8" r="4.0"/><circle cx="435.3" cy="542.3" r="4.0"/><circle cx="446.2" cy="543.9" r="4.0"/><circle cx="457.2" cy="545.6" r="4.0"/></g>
<g opacity="0.85"><use href="#tl2" x="52.1" y="553.6"/><use href="#tl2" x="63.0" y="551.4"/><use href="#tl2" x="74.0" y="549.3"/><use href="#tl2" x="84.9" y="547.3"/><use href="#tl2" x="95.9" y="545.4"/><use href="#tl2" x="106.8" y="543.6"/><use href="#tl2" x="117.8" y="541.9"/><use href="#tl2" x="128.7" y="540.3"/><use href="#tl2" x="139.7" y="538.8"/><use href="#tl2" x="150.6" y="537.4"/><use href="#tl2" x="161.6" y="536.2"/><use href="#tl2" x="172.5" y="535.1"/><use href="#tl2" x="183.4" y="534.0"/><use href="#tl2" x="194.4" y="533.1"/><use href="#tl2" x="205.4" y="532.3"/><use href="#tl2" x="216.3" y="531.6"/><use href="#tl2" x="227.2" y="531.0"/><use href="#tl2" x="238.2" y="530.5"/><use href="#tl2" x="249.2" y="530.1"/><use href="#tl2" x="260.1" y="529.8"/><use href="#tl2" x="271.1" y="529.7"/><use href="#tl2" x="282.0" y="529.6"/><use href="#tl2" x="292.9" y="529.7"/><use href="#tl2" x="303.9" y="529.8"/><use href="#tl2" x="314.9" y="530.1"/><use href="#tl2" x="325.8" y="530.5"/><use href="#tl2" x="336.8" y="531.0"/><use href="#tl2" x="347.7" y="531.6"/><use href="#tl2" x="358.6" y="532.3"/><use href="#tl2" x="369.6" y="533.1"/><use href="#tl2" x="380.6" y="534.0"/><use href="#tl2" x="391.5" y="535.1"/><use href="#tl2" x="402.4" y="536.2"/><use href="#tl2" x="413.4" y="537.4"/><use href="#tl2" x="424.4" y="538.8"/><use href="#tl2" x="435.3" y="540.3"/><use href="#tl2" x="446.2" y="541.9"/><use href="#tl2" x="457.2" y="543.6"/></g>
<g fill="url(#gTeal)"><circle cx="45.5" cy="561.0" r="4.3"/><circle cx="56.5" cy="558.7" r="4.3"/><circle cx="67.5" cy="556.5" r="4.3"/><circle cx="78.5" cy="554.4" r="4.3"/><circle cx="89.5" cy="552.4" r="4.3"/><circle cx="100.5" cy="550.6" r="4.3"/><circle cx="111.5" cy="548.8" r="4.3"/><circle cx="122.5" cy="547.2" r="4.3"/><circle cx="133.5" cy="545.6" r="4.3"/><circle cx="144.5" cy="544.2" r="4.3"/><circle cx="155.5" cy="542.9" r="4.3"/><circle cx="166.5" cy="541.7" r="4.3"/><circle cx="177.5" cy="540.6" r="4.3"/><circle cx="188.5" cy="539.6" r="4.3"/><circle cx="199.5" cy="538.7" r="4.3"/><circle cx="210.5" cy="537.9" r="4.3"/><circle cx="221.5" cy="537.3" r="4.3"/><circle cx="232.5" cy="536.7" r="4.3"/><circle cx="243.5" cy="536.3" r="4.3"/><circle cx="254.5" cy="535.9" r="4.3"/><circle cx="265.5" cy="535.7" r="4.3"/><circle cx="276.5" cy="535.6" r="4.3"/><circle cx="287.5" cy="535.6" r="4.3"/><circle cx="298.5" cy="535.7" r="4.3"/><circle cx="309.5" cy="535.9" r="4.3"/><circle cx="320.5" cy="536.3" r="4.3"/><circle cx="331.5" cy="536.7" r="4.3"/><circle cx="342.5" cy="537.3" r="4.3"/><circle cx="353.5" cy="537.9" r="4.3"/><circle cx="364.5" cy="538.7" r="4.3"/><circle cx="375.5" cy="539.6" r="4.3"/><circle cx="386.5" cy="540.6" r="4.3"/><circle cx="397.5" cy="541.7" r="4.3"/><circle cx="408.5" cy="542.9" r="4.3"/><circle cx="419.5" cy="544.2" r="4.3"/><circle cx="430.5" cy="545.6" r="4.3"/><circle cx="441.5" cy="547.2" r="4.3"/><circle cx="452.5" cy="548.8" r="4.3"/><circle cx="463.5" cy="550.6" r="4.3"/></g>
<g opacity="0.85"><use href="#tl2" x="45.5" y="558.9"/><use href="#tl2" x="56.5" y="556.6"/><use href="#tl2" x="67.5" y="554.4"/><use href="#tl2" x="78.5" y="552.3"/><use href="#tl2" x="89.5" y="550.3"/><use href="#tl2" x="100.5" y="548.4"/><use href="#tl2" x="111.5" y="546.7"/><use href="#tl2" x="122.5" y="545.0"/><use href="#tl2" x="133.5" y="543.5"/><use href="#tl2" x="144.5" y="542.0"/><use href="#tl2" x="155.5" y="540.7"/><use href="#tl2" x="166.5" y="539.5"/><use href="#tl2" x="177.5" y="538.4"/><use href="#tl2" x="188.5" y="537.4"/><use href="#tl2" x="199.5" y="536.5"/><use href="#tl2" x="210.5" y="535.8"/><use href="#tl2" x="221.5" y="535.1"/><use href="#tl2" x="232.5" y="534.6"/><use href="#tl2" x="243.5" y="534.1"/><use href="#tl2" x="254.5" y="533.8"/><use href="#tl2" x="265.5" y="533.6"/><use href="#tl2" x="276.5" y="533.5"/><use href="#tl2" x="287.5" y="533.5"/><use href="#tl2" x="298.5" y="533.6"/><use href="#tl2" x="309.5" y="533.8"/><use href="#tl2" x="320.5" y="534.1"/><use href="#tl2" x="331.5" y="534.6"/><use href="#tl2" x="342.5" y="535.1"/><use href="#tl2" x="353.5" y="535.8"/><use href="#tl2" x="364.5" y="536.5"/><use href="#tl2" x="375.5" y="537.4"/><use href="#tl2" x="386.5" y="538.4"/><use href="#tl2" x="397.5" y="539.5"/><use href="#tl2" x="408.5" y="540.7"/><use href="#tl2" x="419.5" y="542.0"/><use href="#tl2" x="430.5" y="543.5"/><use href="#tl2" x="441.5" y="545.0"/><use href="#tl2" x="452.5" y="546.7"/><use href="#tl2" x="463.5" y="548.4"/></g>
<g fill="url(#gTeal)"><circle cx="49.9" cy="564.5" r="4.6"/><circle cx="61.0" cy="562.2" r="4.6"/><circle cx="72.0" cy="560.0" r="4.6"/><circle cx="83.1" cy="558.0" r="4.6"/><circle cx="94.1" cy="556.0" r="4.6"/><circle cx="105.2" cy="554.2" r="4.6"/><circle cx="116.2" cy="552.5" r="4.6"/><circle cx="127.3" cy="550.9" r="4.6"/><circle cx="138.3" cy="549.4" r="4.6"/><circle cx="149.4" cy="548.0" r="4.6"/><circle cx="160.4" cy="546.7" r="4.6"/><circle cx="171.5" cy="545.6" r="4.6"/><circle cx="182.6" cy="544.5" r="4.6"/><circle cx="193.6" cy="543.6" r="4.6"/><circle cx="204.6" cy="542.7" r="4.6"/><circle cx="215.7" cy="542.0" r="4.6"/><circle cx="226.8" cy="541.4" r="4.6"/><circle cx="237.8" cy="540.9" r="4.6"/><circle cx="248.8" cy="540.5" r="4.6"/><circle cx="259.9" cy="540.2" r="4.6"/><circle cx="270.9" cy="540.1" r="4.6"/><circle cx="282.0" cy="540.0" r="4.6"/><circle cx="293.1" cy="540.1" r="4.6"/><circle cx="304.1" cy="540.2" r="4.6"/><circle cx="315.1" cy="540.5" r="4.6"/><circle cx="326.2" cy="540.9" r="4.6"/><circle cx="337.2" cy="541.4" r="4.6"/><circle cx="348.3" cy="542.0" r="4.6"/><circle cx="359.4" cy="542.7" r="4.6"/><circle cx="370.4" cy="543.6" r="4.6"/><circle cx="381.4" cy="544.5" r="4.6"/><circle cx="392.5" cy="545.6" r="4.6"/><circle cx="403.6" cy="546.7" r="4.6"/><circle cx="414.6" cy="548.0" r="4.6"/><circle cx="425.6" cy="549.4" r="4.6"/><circle cx="436.7" cy="550.9" r="4.6"/><circle cx="447.8" cy="552.5" r="4.6"/><circle cx="458.8" cy="554.2" r="4.6"/></g>
<g opacity="0.85"><use href="#tl2" x="49.9" y="562.2"/><use href="#tl2" x="61.0" y="559.9"/><use href="#tl2" x="72.0" y="557.7"/><use href="#tl2" x="83.1" y="555.7"/><use href="#tl2" x="94.1" y="553.7"/><use href="#tl2" x="105.2" y="551.9"/><use href="#tl2" x="116.2" y="550.2"/><use href="#tl2" x="127.3" y="548.6"/><use href="#tl2" x="138.3" y="547.1"/><use href="#tl2" x="149.4" y="545.7"/><use href="#tl2" x="160.4" y="544.4"/><use href="#tl2" x="171.5" y="543.3"/><use href="#tl2" x="182.6" y="542.2"/><use href="#tl2" x="193.6" y="541.3"/><use href="#tl2" x="204.6" y="540.4"/><use href="#tl2" x="215.7" y="539.7"/><use href="#tl2" x="226.8" y="539.1"/><use href="#tl2" x="237.8" y="538.6"/><use href="#tl2" x="248.8" y="538.2"/><use href="#tl2" x="259.9" y="537.9"/><use href="#tl2" x="270.9" y="537.8"/><use href="#tl2" x="282.0" y="537.7"/><use href="#tl2" x="293.1" y="537.8"/><use href="#tl2" x="304.1" y="537.9"/><use href="#tl2" x="315.1" y="538.2"/><use href="#tl2" x="326.2" y="538.6"/><use href="#tl2" x="337.2" y="539.1"/><use href="#tl2" x="348.3" y="539.7"/><use href="#tl2" x="359.4" y="540.4"/><use href="#tl2" x="370.4" y="541.3"/><use href="#tl2" x="381.4" y="542.2"/><use href="#tl2" x="392.5" y="543.3"/><use href="#tl2" x="403.6" y="544.4"/><use href="#tl2" x="414.6" y="545.7"/><use href="#tl2" x="425.6" y="547.1"/><use href="#tl2" x="436.7" y="548.6"/><use href="#tl2" x="447.8" y="550.2"/><use href="#tl2" x="458.8" y="551.9"/></g>
<g fill="url(#gTeal)"><circle cx="54.5" cy="568.7" r="5.0"/><circle cx="65.6" cy="566.5" r="5.0"/><circle cx="76.7" cy="564.4" r="5.0"/><circle cx="87.8" cy="562.4" r="5.0"/><circle cx="98.9" cy="560.4" r="5.0"/><circle cx="110.0" cy="558.7" r="5.0"/><circle cx="121.1" cy="557.0" r="5.0"/><circle cx="132.2" cy="555.4" r="5.0"/><circle cx="143.3" cy="554.0" r="5.0"/><circle cx="154.4" cy="552.6" r="5.0"/><circle cx="165.5" cy="551.4" r="5.0"/><circle cx="176.6" cy="550.3" r="5.0"/><circle cx="187.7" cy="549.2" r="5.0"/><circle cx="198.8" cy="548.4" r="5.0"/><circle cx="209.9" cy="547.6" r="5.0"/><circle cx="221.0" cy="546.9" r="5.0"/><circle cx="232.1" cy="546.3" r="5.0"/><circle cx="243.2" cy="545.9" r="5.0"/><circle cx="254.2" cy="545.6" r="5.0"/><circle cx="265.4" cy="545.3" r="5.0"/><circle cx="276.4" cy="545.2" r="5.0"/><circle cx="287.6" cy="545.2" r="5.0"/><circle cx="298.7" cy="545.3" r="5.0"/><circle cx="309.8" cy="545.6" r="5.0"/><circle cx="320.9" cy="545.9" r="5.0"/><circle cx="331.9" cy="546.3" r="5.0"/><circle cx="343.1" cy="546.9" r="5.0"/><circle cx="354.1" cy="547.6" r="5.0"/><circle cx="365.2" cy="548.4" r="5.0"/><circle cx="376.4" cy="549.2" r="5.0"/><circle cx="387.4" cy="550.3" r="5.0"/><circle cx="398.6" cy="551.4" r="5.0"/><circle cx="409.6" cy="552.6" r="5.0"/><circle cx="420.8" cy="554.0" r="5.0"/><circle cx="431.9" cy="555.4" r="5.0"/><circle cx="443.0" cy="557.0" r="5.0"/><circle cx="454.1" cy="558.7" r="5.0"/><circle cx="465.1" cy="560.4" r="5.0"/></g>
<g opacity="0.85"><use href="#tl2" x="54.5" y="566.2"/><use href="#tl2" x="65.6" y="564.0"/><use href="#tl2" x="76.7" y="561.9"/><use href="#tl2" x="87.8" y="559.9"/><use href="#tl2" x="98.9" y="557.9"/><use href="#tl2" x="110.0" y="556.2"/><use href="#tl2" x="121.1" y="554.5"/><use href="#tl2" x="132.2" y="552.9"/><use href="#tl2" x="143.3" y="551.5"/><use href="#tl2" x="154.4" y="550.1"/><use href="#tl2" x="165.5" y="548.9"/><use href="#tl2" x="176.6" y="547.8"/><use href="#tl2" x="187.7" y="546.7"/><use href="#tl2" x="198.8" y="545.9"/><use href="#tl2" x="209.9" y="545.1"/><use href="#tl2" x="221.0" y="544.4"/><use href="#tl2" x="232.1" y="543.8"/><use href="#tl2" x="243.2" y="543.4"/><use href="#tl2" x="254.2" y="543.1"/><use href="#tl2" x="265.4" y="542.8"/><use href="#tl2" x="276.4" y="542.7"/><use href="#tl2" x="287.6" y="542.7"/><use href="#tl2" x="298.7" y="542.8"/><use href="#tl2" x="309.8" y="543.1"/><use href="#tl2" x="320.9" y="543.4"/><use href="#tl2" x="331.9" y="543.8"/><use href="#tl2" x="343.1" y="544.4"/><use href="#tl2" x="354.1" y="545.1"/><use href="#tl2" x="365.2" y="545.9"/><use href="#tl2" x="376.4" y="546.7"/><use href="#tl2" x="387.4" y="547.8"/><use href="#tl2" x="398.6" y="548.9"/><use href="#tl2" x="409.6" y="550.1"/><use href="#tl2" x="420.8" y="551.5"/><use href="#tl2" x="431.9" y="552.9"/><use href="#tl2" x="443.0" y="554.5"/><use href="#tl2" x="454.1" y="556.2"/><use href="#tl2" x="465.1" y="557.9"/></g>
<g fill="url(#gTeal)"><circle cx="47.8" cy="576.3" r="5.5"/><circle cx="59.0" cy="574.0" r="5.5"/><circle cx="70.2" cy="571.8" r="5.5"/><circle cx="81.3" cy="569.7" r="5.5"/><circle cx="92.4" cy="567.7" r="5.5"/><circle cx="103.6" cy="565.9" r="5.5"/><circle cx="114.8" cy="564.1" r="5.5"/><circle cx="125.9" cy="562.5" r="5.5"/><circle cx="137.0" cy="561.0" r="5.5"/><circle cx="148.2" cy="559.5" r="5.5"/><circle cx="159.3" cy="558.2" r="5.5"/><circle cx="170.5" cy="557.1" r="5.5"/><circle cx="181.6" cy="556.0" r="5.5"/><circle cx="192.8" cy="555.0" r="5.5"/><circle cx="203.9" cy="554.2" r="5.5"/><circle cx="215.1" cy="553.4" r="5.5"/><circle cx="226.2" cy="552.8" r="5.5"/><circle cx="237.4" cy="552.3" r="5.5"/><circle cx="248.6" cy="551.9" r="5.5"/><circle cx="259.7" cy="551.6" r="5.5"/><circle cx="270.9" cy="551.5" r="5.5"/><circle cx="282.0" cy="551.4" r="5.5"/><circle cx="293.1" cy="551.5" r="5.5"/><circle cx="304.3" cy="551.6" r="5.5"/><circle cx="315.4" cy="551.9" r="5.5"/><circle cx="326.6" cy="552.3" r="5.5"/><circle cx="337.8" cy="552.8" r="5.5"/><circle cx="348.9" cy="553.4" r="5.5"/><circle cx="360.1" cy="554.2" r="5.5"/><circle cx="371.2" cy="555.0" r="5.5"/><circle cx="382.4" cy="556.0" r="5.5"/><circle cx="393.5" cy="557.1" r="5.5"/><circle cx="404.6" cy="558.2" r="5.5"/><circle cx="415.8" cy="559.5" r="5.5"/><circle cx="427.0" cy="561.0" r="5.5"/><circle cx="438.1" cy="562.5" r="5.5"/><circle cx="449.2" cy="564.1" r="5.5"/><circle cx="460.4" cy="565.9" r="5.5"/></g>
<g opacity="0.85"><use href="#tl2" x="47.8" y="573.6"/><use href="#tl2" x="59.0" y="571.3"/><use href="#tl2" x="70.2" y="569.1"/><use href="#tl2" x="81.3" y="567.0"/><use href="#tl2" x="92.4" y="565.0"/><use href="#tl2" x="103.6" y="563.1"/><use href="#tl2" x="114.8" y="561.4"/><use href="#tl2" x="125.9" y="559.7"/><use href="#tl2" x="137.0" y="558.2"/><use href="#tl2" x="148.2" y="556.8"/><use href="#tl2" x="159.3" y="555.5"/><use href="#tl2" x="170.5" y="554.3"/><use href="#tl2" x="181.6" y="553.2"/><use href="#tl2" x="192.8" y="552.3"/><use href="#tl2" x="203.9" y="551.4"/><use href="#tl2" x="215.1" y="550.7"/><use href="#tl2" x="226.2" y="550.1"/><use href="#tl2" x="237.4" y="549.6"/><use href="#tl2" x="248.6" y="549.2"/><use href="#tl2" x="259.7" y="548.9"/><use href="#tl2" x="270.9" y="548.7"/><use href="#tl2" x="282.0" y="548.6"/><use href="#tl2" x="293.1" y="548.7"/><use href="#tl2" x="304.3" y="548.9"/><use href="#tl2" x="315.4" y="549.2"/><use href="#tl2" x="326.6" y="549.6"/><use href="#tl2" x="337.8" y="550.1"/><use href="#tl2" x="348.9" y="550.7"/><use href="#tl2" x="360.1" y="551.4"/><use href="#tl2" x="371.2" y="552.3"/><use href="#tl2" x="382.4" y="553.2"/><use href="#tl2" x="393.5" y="554.3"/><use href="#tl2" x="404.6" y="555.5"/><use href="#tl2" x="415.8" y="556.8"/><use href="#tl2" x="427.0" y="558.2"/><use href="#tl2" x="438.1" y="559.7"/><use href="#tl2" x="449.2" y="561.4"/><use href="#tl2" x="460.4" y="563.1"/></g>
<g fill="url(#gTeal)"><circle cx="52.4" cy="583.2" r="6.2"/><circle cx="63.6" cy="580.9" r="6.2"/><circle cx="74.8" cy="578.7" r="6.2"/><circle cx="86.0" cy="576.7" r="6.2"/><circle cx="97.2" cy="574.7" r="6.2"/><circle cx="108.4" cy="572.9" r="6.2"/><circle cx="119.6" cy="571.2" r="6.2"/><circle cx="130.8" cy="569.6" r="6.2"/><circle cx="142.0" cy="568.1" r="6.2"/><circle cx="153.2" cy="566.7" r="6.2"/><circle cx="164.4" cy="565.5" r="6.2"/><circle cx="175.6" cy="564.3" r="6.2"/><circle cx="186.8" cy="563.3" r="6.2"/><circle cx="198.0" cy="562.4" r="6.2"/><circle cx="209.2" cy="561.6" r="6.2"/><circle cx="220.4" cy="560.9" r="6.2"/><circle cx="231.6" cy="560.4" r="6.2"/><circle cx="242.8" cy="559.9" r="6.2"/><circle cx="254.0" cy="559.6" r="6.2"/><circle cx="265.2" cy="559.3" r="6.2"/><circle cx="276.4" cy="559.2" r="6.2"/><circle cx="287.6" cy="559.2" r="6.2"/><circle cx="298.8" cy="559.3" r="6.2"/><circle cx="310.0" cy="559.6" r="6.2"/><circle cx="321.2" cy="559.9" r="6.2"/><circle cx="332.4" cy="560.4" r="6.2"/><circle cx="343.6" cy="560.9" r="6.2"/><circle cx="354.8" cy="561.6" r="6.2"/><circle cx="366.0" cy="562.4" r="6.2"/><circle cx="377.2" cy="563.3" r="6.2"/><circle cx="388.4" cy="564.3" r="6.2"/><circle cx="399.6" cy="565.5" r="6.2"/><circle cx="410.8" cy="566.7" r="6.2"/><circle cx="422.0" cy="568.1" r="6.2"/><circle cx="433.2" cy="569.6" r="6.2"/><circle cx="444.4" cy="571.2" r="6.2"/><circle cx="455.6" cy="572.9" r="6.2"/></g>
<g><use href="#tl1" x="45.4" y="534.8"/><use href="#tl1" x="56.5" y="532.5"/><use href="#tl1" x="67.6" y="530.3"/><use href="#tl1" x="78.7" y="528.2"/><use href="#tl1" x="89.8" y="526.2"/><use href="#tl1" x="100.9" y="524.3"/><use href="#tl1" x="112.0" y="522.5"/><use href="#tl1" x="123.1" y="520.9"/><use href="#tl1" x="134.2" y="519.3"/><use href="#tl1" x="145.3" y="517.9"/><use href="#tl1" x="156.4" y="516.6"/><use href="#tl1" x="167.5" y="515.4"/><use href="#tl1" x="178.6" y="514.3"/><use href="#tl1" x="189.7" y="513.3"/><use href="#tl1" x="200.8" y="512.4"/><use href="#tl1" x="211.9" y="511.6"/><use href="#tl1" x="223.0" y="511.0"/><use href="#tl1" x="234.1" y="510.4"/><use href="#tl1" x="245.2" y="510.0"/><use href="#tl1" x="256.3" y="509.7"/><use href="#tl1" x="267.4" y="509.5"/><use href="#tl1" x="278.5" y="509.4"/><use href="#tl1" x="289.6" y="509.4"/><use href="#tl1" x="300.7" y="509.6"/><use href="#tl1" x="311.8" y="509.8"/><use href="#tl1" x="322.9" y="510.2"/><use href="#tl1" x="334.0" y="510.6"/><use href="#tl1" x="345.1" y="511.2"/><use href="#tl1" x="356.2" y="511.9"/><use href="#tl1" x="367.3" y="512.7"/><use href="#tl1" x="378.4" y="513.6"/><use href="#tl1" x="389.5" y="514.7"/><use href="#tl1" x="400.6" y="515.8"/><use href="#tl1" x="411.7" y="517.0"/><use href="#tl1" x="422.8" y="518.4"/><use href="#tl1" x="433.9" y="519.9"/><use href="#tl1" x="445.0" y="521.5"/><use href="#tl1" x="456.1" y="523.2"/><use href="#tl1" x="467.2" y="525.0"/><use href="#tl1" x="478.3" y="526.9"/></g>
<g fill="url(#gTeal)"><circle cx="53.1" cy="511.8" r="4.5"/><circle cx="64.0" cy="509.6" r="4.5"/><circle cx="74.9" cy="507.5" r="4.5"/><circle cx="85.8" cy="505.5" r="4.5"/><circle cx="96.7" cy="503.6" r="4.5"/><circle cx="107.6" cy="501.8" r="4.5"/><circle cx="118.5" cy="500.2" r="4.5"/><circle cx="129.4" cy="498.6" r="4.5"/><circle cx="140.3" cy="497.1" r="4.5"/><circle cx="151.2" cy="495.8" r="4.5"/><circle cx="162.1" cy="494.5" r="4.5"/><circle cx="173.0" cy="493.4" r="4.5"/><circle cx="183.9" cy="492.4" r="4.5"/><circle cx="194.8" cy="491.5" r="4.5"/><circle cx="205.7" cy="490.6" r="4.5"/><circle cx="216.6" cy="489.9" r="4.5"/><circle cx="227.5" cy="489.4" r="4.5"/><circle cx="238.4" cy="488.9" r="4.5"/><circle cx="249.3" cy="488.5" r="4.5"/><circle cx="260.2" cy="488.2" r="4.5"/><circle cx="271.1" cy="488.1" r="4.5"/><circle cx="282.0" cy="488.0" r="4.5"/><circle cx="292.9" cy="488.1" r="4.5"/><circle cx="303.8" cy="488.2" r="4.5"/><circle cx="314.7" cy="488.5" r="4.5"/><circle cx="325.6" cy="488.9" r="4.5"/><circle cx="336.5" cy="489.4" r="4.5"/><circle cx="347.4" cy="489.9" r="4.5"/><circle cx="358.3" cy="490.6" r="4.5"/><circle cx="369.2" cy="491.5" r="4.5"/><circle cx="380.1" cy="492.4" r="4.5"/><circle cx="391.0" cy="493.4" r="4.5"/><circle cx="401.9" cy="494.5" r="4.5"/><circle cx="412.8" cy="495.8" r="4.5"/><circle cx="423.7" cy="497.1" r="4.5"/><circle cx="434.6" cy="498.6" r="4.5"/><circle cx="445.5" cy="500.2" r="4.5"/><circle cx="456.4" cy="501.8" r="4.5"/></g>
<g fill="url(#gTeal)"><circle cx="46.6" cy="517.2" r="4.8"/><circle cx="57.5" cy="514.9" r="4.8"/><circle cx="68.5" cy="512.7" r="4.8"/><circle cx="79.4" cy="510.7" r="4.8"/><circle cx="90.4" cy="508.7" r="4.8"/><circle cx="101.3" cy="506.8" r="4.8"/><circle cx="112.3" cy="505.1" r="4.8"/><circle cx="123.2" cy="503.5" r="4.8"/><circle cx="134.2" cy="501.9" r="4.8"/><circle cx="145.1" cy="500.5" r="4.8"/><circle cx="156.1" cy="499.2" r="4.8"/><circle cx="167.0" cy="498.0" r="4.8"/><circle cx="178.0" cy="496.9" r="4.8"/><circle cx="188.9" cy="495.9" r="4.8"/><circle cx="199.9" cy="495.1" r="4.8"/><circle cx="210.8" cy="494.3" r="4.8"/><circle cx="221.8" cy="493.6" r="4.8"/><circle cx="232.7" cy="493.1" r="4.8"/><circle cx="243.7" cy="492.7" r="4.8"/><circle cx="254.6" cy="492.3" r="4.8"/><circle cx="265.6" cy="492.1" r="4.8"/><circle cx="276.5" cy="492.0" r="4.8"/><circle cx="287.5" cy="492.0" r="4.8"/><circle cx="298.4" cy="492.1" r="4.8"/><circle cx="309.4" cy="492.3" r="4.8"/><circle cx="320.3" cy="492.7" r="4.8"/><circle cx="331.3" cy="493.1" r="4.8"/><circle cx="342.2" cy="493.6" r="4.8"/><circle cx="353.2" cy="494.3" r="4.8"/><circle cx="364.1" cy="495.1" r="4.8"/><circle cx="375.1" cy="495.9" r="4.8"/><circle cx="386.0" cy="496.9" r="4.8"/><circle cx="397.0" cy="498.0" r="4.8"/><circle cx="407.9" cy="499.2" r="4.8"/><circle cx="418.9" cy="500.5" r="4.8"/><circle cx="429.8" cy="501.9" r="4.8"/><circle cx="440.8" cy="503.5" r="4.8"/><circle cx="451.7" cy="505.1" r="4.8"/><circle cx="462.7" cy="506.8" r="4.8"/></g>
<g fill="url(#gTeal)"><circle cx="51.0" cy="520.8" r="5.1"/><circle cx="62.0" cy="518.5" r="5.1"/><circle cx="73.0" cy="516.4" r="5.1"/><circle cx="84.0" cy="514.3" r="5.1"/><circle cx="95.0" cy="512.4" r="5.1"/><circle cx="106.0" cy="510.6" r="5.1"/><circle cx="117.0" cy="508.9" r="5.1"/><circle cx="128.0" cy="507.3" r="5.1"/><circle cx="139.0" cy="505.8" r="5.1"/><circle cx="150.0" cy="504.4" r="5.1"/><circle cx="161.0" cy="503.2" r="5.1"/><circle cx="172.0" cy="502.0" r="5.1"/><circle cx="183.0" cy="501.0" r="5.1"/><circle cx="194.0" cy="500.0" r="5.1"/><circle cx="205.0" cy="499.2" r="5.1"/><circle cx="216.0" cy="498.5" r="5.1"/><circle cx="227.0" cy="497.9" r="5.1"/><circle cx="238.0" cy="497.4" r="5.1"/><circle cx="249.0" cy="497.0" r="5.1"/><circle cx="260.0" cy="496.7" r="5.1"/><circle cx="271.0" cy="496.6" r="5.1"/><circle cx="282.0" cy="496.5" r="5.1"/><circle cx="293.0" cy="496.6" r="5.1"/><circle cx="304.0" cy="496.7" r="5.1"/><circle cx="315.0" cy="497.0" r="5.1"/><circle cx="326.0" cy="497.4" r="5.1"/><circle cx="337.0" cy="497.9" r="5.1"/><circle cx="348.0" cy="498.5" r="5.1"/><circle cx="359.0" cy="499.2" r="5.1"/><circle cx="370.0" cy="500.0" r="5.1"/><circle cx="381.0" cy="501.0" r="5.1"/><circle cx="392.0" cy="502.0" r="5.1"/><circle cx="403.0" cy="503.2" r="5.1"/><circle cx="414.0" cy="504.4" r="5.1"/><circle cx="425.0" cy="505.8" r="5.1"/><circle cx="436.0" cy="507.3" r="5.1"/><circle cx="447.0" cy="508.9" r="5.1"/><circle cx="458.0" cy="510.6" r="5.1"/></g>
<g fill="url(#gTeal)"><circle cx="55.5" cy="524.7" r="5.5"/><circle cx="66.5" cy="522.5" r="5.5"/><circle cx="77.6" cy="520.4" r="5.5"/><circle cx="88.6" cy="518.4" r="5.5"/><circle cx="99.7" cy="516.5" r="5.5"/><circle cx="110.7" cy="514.7" r="5.5"/><circle cx="121.8" cy="513.1" r="5.5"/><circle cx="132.8" cy="511.5" r="5.5"/><circle cx="143.9" cy="510.1" r="5.5"/><circle cx="154.9" cy="508.7" r="5.5"/><circle cx="166.0" cy="507.5" r="5.5"/><circle cx="177.0" cy="506.4" r="5.5"/><circle cx="188.1" cy="505.4" r="5.5"/><circle cx="199.1" cy="504.5" r="5.5"/><circle cx="210.2" cy="503.7" r="5.5"/><circle cx="221.2" cy="503.1" r="5.5"/><circle cx="232.3" cy="502.5" r="5.5"/><circle cx="243.3" cy="502.1" r="5.5"/><circle cx="254.4" cy="501.7" r="5.5"/><circle cx="265.4" cy="501.5" r="5.5"/><circle cx="276.5" cy="501.4" r="5.5"/><circle cx="287.5" cy="501.4" r="5.5"/><circle cx="298.6" cy="501.5" r="5.5"/><circle cx="309.6" cy="501.7" r="5.5"/><circle cx="320.7" cy="502.1" r="5.5"/><circle cx="331.7" cy="502.5" r="5.5"/><circle cx="342.8" cy="503.1" r="5.5"/><circle cx="353.8" cy="503.7" r="5.5"/><circle cx="364.9" cy="504.5" r="5.5"/><circle cx="375.9" cy="505.4" r="5.5"/><circle cx="387.0" cy="506.4" r="5.5"/><circle cx="398.0" cy="507.5" r="5.5"/><circle cx="409.1" cy="508.7" r="5.5"/><circle cx="420.1" cy="510.1" r="5.5"/><circle cx="431.2" cy="511.5" r="5.5"/><circle cx="442.2" cy="513.1" r="5.5"/><circle cx="453.3" cy="514.7" r="5.5"/><circle cx="464.3" cy="516.5" r="5.5"/></g>
<g fill="url(#gTeal)"><circle cx="48.9" cy="532.1" r="6.2"/><circle cx="60.0" cy="529.8" r="6.2"/><circle cx="71.1" cy="527.6" r="6.2"/><circle cx="82.2" cy="525.5" r="6.2"/><circle cx="93.3" cy="523.6" r="6.2"/><circle cx="104.4" cy="521.7" r="6.2"/><circle cx="115.5" cy="520.0" r="6.2"/><circle cx="126.6" cy="518.4" r="6.2"/><circle cx="137.7" cy="516.9" r="6.2"/><circle cx="148.8" cy="515.5" r="6.2"/><circle cx="159.9" cy="514.2" r="6.2"/><circle cx="171.0" cy="513.0" r="6.2"/><circle cx="182.1" cy="511.9" r="6.2"/><circle cx="193.2" cy="511.0" r="6.2"/><circle cx="204.3" cy="510.1" r="6.2"/><circle cx="215.4" cy="509.4" r="6.2"/><circle cx="226.5" cy="508.8" r="6.2"/><circle cx="237.6" cy="508.3" r="6.2"/><circle cx="248.7" cy="507.9" r="6.2"/><circle cx="259.8" cy="507.6" r="6.2"/><circle cx="270.9" cy="507.5" r="6.2"/><circle cx="282.0" cy="507.4" r="6.2"/><circle cx="293.1" cy="507.5" r="6.2"/><circle cx="304.2" cy="507.6" r="6.2"/><circle cx="315.3" cy="507.9" r="6.2"/><circle cx="326.4" cy="508.3" r="6.2"/><circle cx="337.5" cy="508.8" r="6.2"/><circle cx="348.6" cy="509.4" r="6.2"/><circle cx="359.7" cy="510.1" r="6.2"/><circle cx="370.8" cy="511.0" r="6.2"/><circle cx="381.9" cy="511.9" r="6.2"/><circle cx="393.0" cy="513.0" r="6.2"/><circle cx="404.1" cy="514.2" r="6.2"/><circle cx="415.2" cy="515.5" r="6.2"/><circle cx="426.3" cy="516.9" r="6.2"/><circle cx="437.4" cy="518.4" r="6.2"/><circle cx="448.5" cy="520.0" r="6.2"/><circle cx="459.6" cy="521.7" r="6.2"/></g>
</g>
<clipPath id="clR"><rect x="521.3" y="457.0" width="413.5" height="124.29999999999995"/></clipPath>
<g clip-path="url(#clR)">
<g fill="url(#gTeal)"><circle cx="522.0" cy="558.4" r="4.0"/><circle cx="533.0" cy="556.2" r="4.0"/><circle cx="544.0" cy="554.1" r="4.0"/><circle cx="554.9" cy="552.1" r="4.0"/><circle cx="565.9" cy="550.3" r="4.0"/><circle cx="576.8" cy="548.5" r="4.0"/><circle cx="587.8" cy="546.8" r="4.0"/><circle cx="598.7" cy="545.3" r="4.0"/><circle cx="609.6" cy="543.8" r="4.0"/><circle cx="620.6" cy="542.5" r="4.0"/><circle cx="631.5" cy="541.3" r="4.0"/><circle cx="642.5" cy="540.2" r="4.0"/><circle cx="653.5" cy="539.1" r="4.0"/><circle cx="664.4" cy="538.2" r="4.0"/><circle cx="675.4" cy="537.4" r="4.0"/><circle cx="686.3" cy="536.7" r="4.0"/><circle cx="697.2" cy="536.1" r="4.0"/><circle cx="708.2" cy="535.7" r="4.0"/><circle cx="719.1" cy="535.3" r="4.0"/><circle cx="730.1" cy="535.0" r="4.0"/><circle cx="741.0" cy="534.9" r="4.0"/><circle cx="752.0" cy="534.8" r="4.0"/><circle cx="763.0" cy="534.9" r="4.0"/><circle cx="773.9" cy="535.0" r="4.0"/><circle cx="784.9" cy="535.3" r="4.0"/><circle cx="795.8" cy="535.7" r="4.0"/><circle cx="806.8" cy="536.1" r="4.0"/><circle cx="817.7" cy="536.7" r="4.0"/><circle cx="828.6" cy="537.4" r="4.0"/><circle cx="839.6" cy="538.2" r="4.0"/><circle cx="850.5" cy="539.1" r="4.0"/><circle cx="861.5" cy="540.2" r="4.0"/><circle cx="872.5" cy="541.3" r="4.0"/><circle cx="883.4" cy="542.5" r="4.0"/><circle cx="894.4" cy="543.8" r="4.0"/><circle cx="905.3" cy="545.3" r="4.0"/><circle cx="916.2" cy="546.8" r="4.0"/><circle cx="927.2" cy="548.5" r="4.0"/><circle cx="938.1" cy="550.3" r="4.0"/></g>
<g opacity="0.85"><use href="#tl2" x="522.0" y="556.4"/><use href="#tl2" x="533.0" y="554.2"/><use href="#tl2" x="544.0" y="552.1"/><use href="#tl2" x="554.9" y="550.1"/><use href="#tl2" x="565.9" y="548.3"/><use href="#tl2" x="576.8" y="546.5"/><use href="#tl2" x="587.8" y="544.8"/><use href="#tl2" x="598.7" y="543.3"/><use href="#tl2" x="609.6" y="541.8"/><use href="#tl2" x="620.6" y="540.5"/><use href="#tl2" x="631.5" y="539.3"/><use href="#tl2" x="642.5" y="538.2"/><use href="#tl2" x="653.5" y="537.1"/><use href="#tl2" x="664.4" y="536.2"/><use href="#tl2" x="675.4" y="535.4"/><use href="#tl2" x="686.3" y="534.7"/><use href="#tl2" x="697.2" y="534.1"/><use href="#tl2" x="708.2" y="533.7"/><use href="#tl2" x="719.1" y="533.3"/><use href="#tl2" x="730.1" y="533.0"/><use href="#tl2" x="741.0" y="532.9"/><use href="#tl2" x="752.0" y="532.8"/><use href="#tl2" x="763.0" y="532.9"/><use href="#tl2" x="773.9" y="533.0"/><use href="#tl2" x="784.9" y="533.3"/><use href="#tl2" x="795.8" y="533.7"/><use href="#tl2" x="806.8" y="534.1"/><use href="#tl2" x="817.7" y="534.7"/><use href="#tl2" x="828.6" y="535.4"/><use href="#tl2" x="839.6" y="536.2"/><use href="#tl2" x="850.5" y="537.1"/><use href="#tl2" x="861.5" y="538.2"/><use href="#tl2" x="872.5" y="539.3"/><use href="#tl2" x="883.4" y="540.5"/><use href="#tl2" x="894.4" y="541.8"/><use href="#tl2" x="905.3" y="543.3"/><use href="#tl2" x="916.2" y="544.8"/><use href="#tl2" x="927.2" y="546.5"/><use href="#tl2" x="938.1" y="548.3"/></g>
<g fill="url(#gTeal)"><circle cx="515.5" cy="563.8" r="4.3"/><circle cx="526.5" cy="561.5" r="4.3"/><circle cx="537.5" cy="559.3" r="4.3"/><circle cx="548.5" cy="557.3" r="4.3"/><circle cx="559.5" cy="555.3" r="4.3"/><circle cx="570.5" cy="553.5" r="4.3"/><circle cx="581.5" cy="551.8" r="4.3"/><circle cx="592.5" cy="550.2" r="4.3"/><circle cx="603.5" cy="548.6" r="4.3"/><circle cx="614.5" cy="547.2" r="4.3"/><circle cx="625.5" cy="545.9" r="4.3"/><circle cx="636.5" cy="544.8" r="4.3"/><circle cx="647.5" cy="543.7" r="4.3"/><circle cx="658.5" cy="542.7" r="4.3"/><circle cx="669.5" cy="541.8" r="4.3"/><circle cx="680.5" cy="541.1" r="4.3"/><circle cx="691.5" cy="540.4" r="4.3"/><circle cx="702.5" cy="539.9" r="4.3"/><circle cx="713.5" cy="539.5" r="4.3"/><circle cx="724.5" cy="539.1" r="4.3"/><circle cx="735.5" cy="538.9" r="4.3"/><circle cx="746.5" cy="538.8" r="4.3"/><circle cx="757.5" cy="538.8" r="4.3"/><circle cx="768.5" cy="538.9" r="4.3"/><circle cx="779.5" cy="539.1" r="4.3"/><circle cx="790.5" cy="539.5" r="4.3"/><circle cx="801.5" cy="539.9" r="4.3"/><circle cx="812.5" cy="540.4" r="4.3"/><circle cx="823.5" cy="541.1" r="4.3"/><circle cx="834.5" cy="541.8" r="4.3"/><circle cx="845.5" cy="542.7" r="4.3"/><circle cx="856.5" cy="543.7" r="4.3"/><circle cx="867.5" cy="544.8" r="4.3"/><circle cx="878.5" cy="545.9" r="4.3"/><circle cx="889.5" cy="547.2" r="4.3"/><circle cx="900.5" cy="548.6" r="4.3"/><circle cx="911.5" cy="550.2" r="4.3"/><circle cx="922.5" cy="551.8" r="4.3"/><circle cx="933.5" cy="553.5" r="4.3"/></g>
<g opacity="0.85"><use href="#tl2" x="515.5" y="561.6"/><use href="#tl2" x="526.5" y="559.4"/><use href="#tl2" x="537.5" y="557.2"/><use href="#tl2" x="548.5" y="555.1"/><use href="#tl2" x="559.5" y="553.2"/><use href="#tl2" x="570.5" y="551.4"/><use href="#tl2" x="581.5" y="549.6"/><use href="#tl2" x="592.5" y="548.0"/><use href="#tl2" x="603.5" y="546.5"/><use href="#tl2" x="614.5" y="545.1"/><use href="#tl2" x="625.5" y="543.8"/><use href="#tl2" x="636.5" y="542.6"/><use href="#tl2" x="647.5" y="541.5"/><use href="#tl2" x="658.5" y="540.6"/><use href="#tl2" x="669.5" y="539.7"/><use href="#tl2" x="680.5" y="538.9"/><use href="#tl2" x="691.5" y="538.3"/><use href="#tl2" x="702.5" y="537.7"/><use href="#tl2" x="713.5" y="537.3"/><use href="#tl2" x="724.5" y="537.0"/><use href="#tl2" x="735.5" y="536.8"/><use href="#tl2" x="746.5" y="536.7"/><use href="#tl2" x="757.5" y="536.7"/><use href="#tl2" x="768.5" y="536.8"/><use href="#tl2" x="779.5" y="537.0"/><use href="#tl2" x="790.5" y="537.3"/><use href="#tl2" x="801.5" y="537.7"/><use href="#tl2" x="812.5" y="538.3"/><use href="#tl2" x="823.5" y="538.9"/><use href="#tl2" x="834.5" y="539.7"/><use href="#tl2" x="845.5" y="540.6"/><use href="#tl2" x="856.5" y="541.5"/><use href="#tl2" x="867.5" y="542.6"/><use href="#tl2" x="878.5" y="543.8"/><use href="#tl2" x="889.5" y="545.1"/><use href="#tl2" x="900.5" y="546.5"/><use href="#tl2" x="911.5" y="548.0"/><use href="#tl2" x="922.5" y="549.6"/><use href="#tl2" x="933.5" y="551.4"/></g>
<g fill="url(#gTeal)"><circle cx="520.0" cy="567.2" r="4.6"/><circle cx="531.0" cy="565.0" r="4.6"/><circle cx="542.0" cy="562.9" r="4.6"/><circle cx="553.1" cy="560.9" r="4.6"/><circle cx="564.1" cy="559.0" r="4.6"/><circle cx="575.2" cy="557.2" r="4.6"/><circle cx="586.2" cy="555.5" r="4.6"/><circle cx="597.3" cy="553.9" r="4.6"/><circle cx="608.4" cy="552.4" r="4.6"/><circle cx="619.4" cy="551.0" r="4.6"/><circle cx="630.5" cy="549.8" r="4.6"/><circle cx="641.5" cy="548.7" r="4.6"/><circle cx="652.5" cy="547.6" r="4.6"/><circle cx="663.6" cy="546.7" r="4.6"/><circle cx="674.6" cy="545.9" r="4.6"/><circle cx="685.7" cy="545.2" r="4.6"/><circle cx="696.8" cy="544.6" r="4.6"/><circle cx="707.8" cy="544.1" r="4.6"/><circle cx="718.9" cy="543.7" r="4.6"/><circle cx="729.9" cy="543.4" r="4.6"/><circle cx="741.0" cy="543.3" r="4.6"/><circle cx="752.0" cy="543.2" r="4.6"/><circle cx="763.0" cy="543.3" r="4.6"/><circle cx="774.1" cy="543.4" r="4.6"/><circle cx="785.1" cy="543.7" r="4.6"/><circle cx="796.2" cy="544.1" r="4.6"/><circle cx="807.2" cy="544.6" r="4.6"/><circle cx="818.3" cy="545.2" r="4.6"/><circle cx="829.4" cy="545.9" r="4.6"/><circle cx="840.4" cy="546.7" r="4.6"/><circle cx="851.5" cy="547.6" r="4.6"/><circle cx="862.5" cy="548.7" r="4.6"/><circle cx="873.5" cy="549.8" r="4.6"/><circle cx="884.6" cy="551.0" r="4.6"/><circle cx="895.6" cy="552.4" r="4.6"/><circle cx="906.7" cy="553.9" r="4.6"/><circle cx="917.8" cy="555.5" r="4.6"/><circle cx="928.8" cy="557.2" r="4.6"/><circle cx="939.9" cy="559.0" r="4.6"/></g>
<g opacity="0.85"><use href="#tl2" x="520.0" y="564.9"/><use href="#tl2" x="531.0" y="562.7"/><use href="#tl2" x="542.0" y="560.6"/><use href="#tl2" x="553.1" y="558.6"/><use href="#tl2" x="564.1" y="556.7"/><use href="#tl2" x="575.2" y="554.9"/><use href="#tl2" x="586.2" y="553.2"/><use href="#tl2" x="597.3" y="551.6"/><use href="#tl2" x="608.4" y="550.1"/><use href="#tl2" x="619.4" y="548.7"/><use href="#tl2" x="630.5" y="547.5"/><use href="#tl2" x="641.5" y="546.4"/><use href="#tl2" x="652.5" y="545.3"/><use href="#tl2" x="663.6" y="544.4"/><use href="#tl2" x="674.6" y="543.6"/><use href="#tl2" x="685.7" y="542.9"/><use href="#tl2" x="696.8" y="542.3"/><use href="#tl2" x="707.8" y="541.8"/><use href="#tl2" x="718.9" y="541.4"/><use href="#tl2" x="729.9" y="541.1"/><use href="#tl2" x="741.0" y="541.0"/><use href="#tl2" x="752.0" y="540.9"/><use href="#tl2" x="763.0" y="541.0"/><use href="#tl2" x="774.1" y="541.1"/><use href="#tl2" x="785.1" y="541.4"/><use href="#tl2" x="796.2" y="541.8"/><use href="#tl2" x="807.2" y="542.3"/><use href="#tl2" x="818.3" y="542.9"/><use href="#tl2" x="829.4" y="543.6"/><use href="#tl2" x="840.4" y="544.4"/><use href="#tl2" x="851.5" y="545.3"/><use href="#tl2" x="862.5" y="546.4"/><use href="#tl2" x="873.5" y="547.5"/><use href="#tl2" x="884.6" y="548.7"/><use href="#tl2" x="895.6" y="550.1"/><use href="#tl2" x="906.7" y="551.6"/><use href="#tl2" x="917.8" y="553.2"/><use href="#tl2" x="928.8" y="554.9"/><use href="#tl2" x="939.9" y="556.7"/></g>
<g fill="url(#gTeal)"><circle cx="513.3" cy="573.8" r="5.0"/><circle cx="524.4" cy="571.5" r="5.0"/><circle cx="535.5" cy="569.3" r="5.0"/><circle cx="546.6" cy="567.2" r="5.0"/><circle cx="557.8" cy="565.2" r="5.0"/><circle cx="568.8" cy="563.4" r="5.0"/><circle cx="579.9" cy="561.6" r="5.0"/><circle cx="591.0" cy="560.0" r="5.0"/><circle cx="602.1" cy="558.4" r="5.0"/><circle cx="613.2" cy="557.0" r="5.0"/><circle cx="624.3" cy="555.7" r="5.0"/><circle cx="635.4" cy="554.5" r="5.0"/><circle cx="646.5" cy="553.4" r="5.0"/><circle cx="657.6" cy="552.4" r="5.0"/><circle cx="668.8" cy="551.5" r="5.0"/><circle cx="679.8" cy="550.7" r="5.0"/><circle cx="690.9" cy="550.1" r="5.0"/><circle cx="702.0" cy="549.5" r="5.0"/><circle cx="713.1" cy="549.1" r="5.0"/><circle cx="724.2" cy="548.7" r="5.0"/><circle cx="735.3" cy="548.5" r="5.0"/><circle cx="746.4" cy="548.4" r="5.0"/><circle cx="757.5" cy="548.4" r="5.0"/><circle cx="768.6" cy="548.5" r="5.0"/><circle cx="779.8" cy="548.7" r="5.0"/><circle cx="790.8" cy="549.1" r="5.0"/><circle cx="801.9" cy="549.5" r="5.0"/><circle cx="813.0" cy="550.1" r="5.0"/><circle cx="824.1" cy="550.7" r="5.0"/><circle cx="835.2" cy="551.5" r="5.0"/><circle cx="846.3" cy="552.4" r="5.0"/><circle cx="857.4" cy="553.4" r="5.0"/><circle cx="868.5" cy="554.5" r="5.0"/><circle cx="879.6" cy="555.7" r="5.0"/><circle cx="890.8" cy="557.0" r="5.0"/><circle cx="901.8" cy="558.4" r="5.0"/><circle cx="912.9" cy="560.0" r="5.0"/><circle cx="924.0" cy="561.6" r="5.0"/><circle cx="935.1" cy="563.4" r="5.0"/></g>
<g opacity="0.85"><use href="#tl2" x="513.3" y="571.3"/><use href="#tl2" x="524.4" y="569.0"/><use href="#tl2" x="535.5" y="566.8"/><use href="#tl2" x="546.6" y="564.7"/><use href="#tl2" x="557.8" y="562.7"/><use href="#tl2" x="568.8" y="560.9"/><use href="#tl2" x="579.9" y="559.1"/><use href="#tl2" x="591.0" y="557.5"/><use href="#tl2" x="602.1" y="555.9"/><use href="#tl2" x="613.2" y="554.5"/><use href="#tl2" x="624.3" y="553.2"/><use href="#tl2" x="635.4" y="552.0"/><use href="#tl2" x="646.5" y="550.9"/><use href="#tl2" x="657.6" y="549.9"/><use href="#tl2" x="668.8" y="549.0"/><use href="#tl2" x="679.8" y="548.2"/><use href="#tl2" x="690.9" y="547.6"/><use href="#tl2" x="702.0" y="547.0"/><use href="#tl2" x="713.1" y="546.6"/><use href="#tl2" x="724.2" y="546.2"/><use href="#tl2" x="735.3" y="546.0"/><use href="#tl2" x="746.4" y="545.9"/><use href="#tl2" x="757.5" y="545.9"/><use href="#tl2" x="768.6" y="546.0"/><use href="#tl2" x="779.8" y="546.2"/><use href="#tl2" x="790.8" y="546.6"/><use href="#tl2" x="801.9" y="547.0"/><use href="#tl2" x="813.0" y="547.6"/><use href="#tl2" x="824.1" y="548.2"/><use href="#tl2" x="835.2" y="549.0"/><use href="#tl2" x="846.3" y="549.9"/><use href="#tl2" x="857.4" y="550.9"/><use href="#tl2" x="868.5" y="552.0"/><use href="#tl2" x="879.6" y="553.2"/><use href="#tl2" x="890.8" y="554.5"/><use href="#tl2" x="901.8" y="555.9"/><use href="#tl2" x="912.9" y="557.5"/><use href="#tl2" x="924.0" y="559.1"/><use href="#tl2" x="935.1" y="560.9"/></g>
<g fill="url(#gTeal)"><circle cx="517.9" cy="579.1" r="5.5"/><circle cx="529.0" cy="576.8" r="5.5"/><circle cx="540.1" cy="574.6" r="5.5"/><circle cx="551.3" cy="572.6" r="5.5"/><circle cx="562.5" cy="570.6" r="5.5"/><circle cx="573.6" cy="568.8" r="5.5"/><circle cx="584.8" cy="567.1" r="5.5"/><circle cx="595.9" cy="565.5" r="5.5"/><circle cx="607.0" cy="564.0" r="5.5"/><circle cx="618.2" cy="562.6" r="5.5"/><circle cx="629.4" cy="561.3" r="5.5"/><circle cx="640.5" cy="560.2" r="5.5"/><circle cx="651.6" cy="559.1" r="5.5"/><circle cx="662.8" cy="558.2" r="5.5"/><circle cx="674.0" cy="557.3" r="5.5"/><circle cx="685.1" cy="556.6" r="5.5"/><circle cx="696.2" cy="556.0" r="5.5"/><circle cx="707.4" cy="555.5" r="5.5"/><circle cx="718.5" cy="555.1" r="5.5"/><circle cx="729.7" cy="554.8" r="5.5"/><circle cx="740.9" cy="554.7" r="5.5"/><circle cx="752.0" cy="554.6" r="5.5"/><circle cx="763.1" cy="554.7" r="5.5"/><circle cx="774.3" cy="554.8" r="5.5"/><circle cx="785.5" cy="555.1" r="5.5"/><circle cx="796.6" cy="555.5" r="5.5"/><circle cx="807.8" cy="556.0" r="5.5"/><circle cx="818.9" cy="556.6" r="5.5"/><circle cx="830.0" cy="557.3" r="5.5"/><circle cx="841.2" cy="558.2" r="5.5"/><circle cx="852.4" cy="559.1" r="5.5"/><circle cx="863.5" cy="560.2" r="5.5"/><circle cx="874.6" cy="561.3" r="5.5"/><circle cx="885.8" cy="562.6" r="5.5"/><circle cx="897.0" cy="564.0" r="5.5"/><circle cx="908.1" cy="565.5" r="5.5"/><circle cx="919.2" cy="567.1" r="5.5"/><circle cx="930.4" cy="568.8" r="5.5"/><circle cx="941.5" cy="570.6" r="5.5"/></g>
<g opacity="0.85"><use href="#tl2" x="517.9" y="576.3"/><use href="#tl2" x="529.0" y="574.1"/><use href="#tl2" x="540.1" y="571.9"/><use href="#tl2" x="551.3" y="569.8"/><use href="#tl2" x="562.5" y="567.9"/><use href="#tl2" x="573.6" y="566.1"/><use href="#tl2" x="584.8" y="564.3"/><use href="#tl2" x="595.9" y="562.7"/><use href="#tl2" x="607.0" y="561.2"/><use href="#tl2" x="618.2" y="559.8"/><use href="#tl2" x="629.4" y="558.6"/><use href="#tl2" x="640.5" y="557.4"/><use href="#tl2" x="651.6" y="556.3"/><use href="#tl2" x="662.8" y="555.4"/><use href="#tl2" x="674.0" y="554.6"/><use href="#tl2" x="685.1" y="553.8"/><use href="#tl2" x="696.2" y="553.2"/><use href="#tl2" x="707.4" y="552.7"/><use href="#tl2" x="718.5" y="552.3"/><use href="#tl2" x="729.7" y="552.1"/><use href="#tl2" x="740.9" y="551.9"/><use href="#tl2" x="752.0" y="551.9"/><use href="#tl2" x="763.1" y="551.9"/><use href="#tl2" x="774.3" y="552.1"/><use href="#tl2" x="785.5" y="552.3"/><use href="#tl2" x="796.6" y="552.7"/><use href="#tl2" x="807.8" y="553.2"/><use href="#tl2" x="818.9" y="553.8"/><use href="#tl2" x="830.0" y="554.6"/><use href="#tl2" x="841.2" y="555.4"/><use href="#tl2" x="852.4" y="556.3"/><use href="#tl2" x="863.5" y="557.4"/><use href="#tl2" x="874.6" y="558.6"/><use href="#tl2" x="885.8" y="559.8"/><use href="#tl2" x="897.0" y="561.2"/><use href="#tl2" x="908.1" y="562.7"/><use href="#tl2" x="919.2" y="564.3"/><use href="#tl2" x="930.4" y="566.1"/><use href="#tl2" x="941.5" y="567.9"/></g>
<g fill="url(#gTeal)"><circle cx="522.4" cy="585.9" r="6.2"/><circle cx="533.6" cy="583.7" r="6.2"/><circle cx="544.8" cy="581.6" r="6.2"/><circle cx="556.0" cy="579.5" r="6.2"/><circle cx="567.2" cy="577.6" r="6.2"/><circle cx="578.4" cy="575.9" r="6.2"/><circle cx="589.6" cy="574.2" r="6.2"/><circle cx="600.8" cy="572.6" r="6.2"/><circle cx="612.0" cy="571.1" r="6.2"/><circle cx="623.2" cy="569.8" r="6.2"/><circle cx="634.4" cy="568.6" r="6.2"/><circle cx="645.6" cy="567.5" r="6.2"/><circle cx="656.8" cy="566.4" r="6.2"/><circle cx="668.0" cy="565.5" r="6.2"/><circle cx="679.2" cy="564.8" r="6.2"/><circle cx="690.4" cy="564.1" r="6.2"/><circle cx="701.6" cy="563.5" r="6.2"/><circle cx="712.8" cy="563.1" r="6.2"/><circle cx="724.0" cy="562.8" r="6.2"/><circle cx="735.2" cy="562.5" r="6.2"/><circle cx="746.4" cy="562.4" r="6.2"/><circle cx="757.6" cy="562.4" r="6.2"/><circle cx="768.8" cy="562.5" r="6.2"/><circle cx="780.0" cy="562.8" r="6.2"/><circle cx="791.2" cy="563.1" r="6.2"/><circle cx="802.4" cy="563.5" r="6.2"/><circle cx="813.6" cy="564.1" r="6.2"/><circle cx="824.8" cy="564.8" r="6.2"/><circle cx="836.0" cy="565.5" r="6.2"/><circle cx="847.2" cy="566.4" r="6.2"/><circle cx="858.4" cy="567.5" r="6.2"/><circle cx="869.6" cy="568.6" r="6.2"/><circle cx="880.8" cy="569.8" r="6.2"/><circle cx="892.0" cy="571.1" r="6.2"/><circle cx="903.2" cy="572.6" r="6.2"/><circle cx="914.4" cy="574.2" r="6.2"/><circle cx="925.6" cy="575.9" r="6.2"/><circle cx="936.8" cy="577.6" r="6.2"/></g>
<g><use href="#tl1" x="513.2" y="538.1"/><use href="#tl1" x="524.3" y="535.7"/><use href="#tl1" x="535.4" y="533.5"/><use href="#tl1" x="546.5" y="531.5"/><use href="#tl1" x="557.6" y="529.5"/><use href="#tl1" x="568.7" y="527.6"/><use href="#tl1" x="579.8" y="525.8"/><use href="#tl1" x="590.9" y="524.2"/><use href="#tl1" x="602.0" y="522.6"/><use href="#tl1" x="613.1" y="521.2"/><use href="#tl1" x="624.2" y="519.9"/><use href="#tl1" x="635.3" y="518.7"/><use href="#tl1" x="646.4" y="517.6"/><use href="#tl1" x="657.5" y="516.6"/><use href="#tl1" x="668.6" y="515.7"/><use href="#tl1" x="679.7" y="514.9"/><use href="#tl1" x="690.8" y="514.3"/><use href="#tl1" x="701.9" y="513.7"/><use href="#tl1" x="713.0" y="513.3"/><use href="#tl1" x="724.1" y="512.9"/><use href="#tl1" x="735.2" y="512.7"/><use href="#tl1" x="746.3" y="512.6"/><use href="#tl1" x="757.4" y="512.6"/><use href="#tl1" x="768.5" y="512.7"/><use href="#tl1" x="779.6" y="512.9"/><use href="#tl1" x="790.7" y="513.3"/><use href="#tl1" x="801.8" y="513.7"/><use href="#tl1" x="812.9" y="514.3"/><use href="#tl1" x="824.0" y="514.9"/><use href="#tl1" x="835.1" y="515.7"/><use href="#tl1" x="846.2" y="516.6"/><use href="#tl1" x="857.3" y="517.6"/><use href="#tl1" x="868.4" y="518.6"/><use href="#tl1" x="879.5" y="519.9"/><use href="#tl1" x="890.6" y="521.2"/><use href="#tl1" x="901.7" y="522.6"/><use href="#tl1" x="912.8" y="524.1"/><use href="#tl1" x="923.9" y="525.8"/><use href="#tl1" x="935.0" y="527.6"/><use href="#tl1" x="946.1" y="529.4"/><use href="#tl1" x="957.2" y="531.4"/></g>
<g fill="url(#gTeal)"><circle cx="523.1" cy="514.6" r="4.5"/><circle cx="534.0" cy="512.4" r="4.5"/><circle cx="544.9" cy="510.3" r="4.5"/><circle cx="555.8" cy="508.4" r="4.5"/><circle cx="566.7" cy="506.5" r="4.5"/><circle cx="577.6" cy="504.8" r="4.5"/><circle cx="588.5" cy="503.1" r="4.5"/><circle cx="599.4" cy="501.6" r="4.5"/><circle cx="610.3" cy="500.2" r="4.5"/><circle cx="621.2" cy="498.8" r="4.5"/><circle cx="632.1" cy="497.6" r="4.5"/><circle cx="643.0" cy="496.5" r="4.5"/><circle cx="653.9" cy="495.5" r="4.5"/><circle cx="664.8" cy="494.6" r="4.5"/><circle cx="675.7" cy="493.8" r="4.5"/><circle cx="686.6" cy="493.1" r="4.5"/><circle cx="697.5" cy="492.5" r="4.5"/><circle cx="708.4" cy="492.0" r="4.5"/><circle cx="719.3" cy="491.7" r="4.5"/><circle cx="730.2" cy="491.4" r="4.5"/><circle cx="741.1" cy="491.3" r="4.5"/><circle cx="752.0" cy="491.2" r="4.5"/><circle cx="762.9" cy="491.3" r="4.5"/><circle cx="773.8" cy="491.4" r="4.5"/><circle cx="784.7" cy="491.7" r="4.5"/><circle cx="795.6" cy="492.0" r="4.5"/><circle cx="806.5" cy="492.5" r="4.5"/><circle cx="817.4" cy="493.1" r="4.5"/><circle cx="828.3" cy="493.8" r="4.5"/><circle cx="839.2" cy="494.6" r="4.5"/><circle cx="850.1" cy="495.5" r="4.5"/><circle cx="861.0" cy="496.5" r="4.5"/><circle cx="871.9" cy="497.6" r="4.5"/><circle cx="882.8" cy="498.8" r="4.5"/><circle cx="893.7" cy="500.2" r="4.5"/><circle cx="904.6" cy="501.6" r="4.5"/><circle cx="915.5" cy="503.1" r="4.5"/><circle cx="926.4" cy="504.8" r="4.5"/><circle cx="937.3" cy="506.5" r="4.5"/></g>
<g fill="url(#gTeal)"><circle cx="516.6" cy="519.9" r="4.8"/><circle cx="527.5" cy="517.7" r="4.8"/><circle cx="538.5" cy="515.6" r="4.8"/><circle cx="549.4" cy="513.5" r="4.8"/><circle cx="560.4" cy="511.6" r="4.8"/><circle cx="571.3" cy="509.8" r="4.8"/><circle cx="582.3" cy="508.1" r="4.8"/><circle cx="593.2" cy="506.5" r="4.8"/><circle cx="604.2" cy="505.0" r="4.8"/><circle cx="615.1" cy="503.6" r="4.8"/><circle cx="626.1" cy="502.3" r="4.8"/><circle cx="637.0" cy="501.1" r="4.8"/><circle cx="648.0" cy="500.0" r="4.8"/><circle cx="658.9" cy="499.1" r="4.8"/><circle cx="669.9" cy="498.2" r="4.8"/><circle cx="680.8" cy="497.5" r="4.8"/><circle cx="691.8" cy="496.8" r="4.8"/><circle cx="702.7" cy="496.3" r="4.8"/><circle cx="713.7" cy="495.9" r="4.8"/><circle cx="724.6" cy="495.5" r="4.8"/><circle cx="735.6" cy="495.3" r="4.8"/><circle cx="746.5" cy="495.2" r="4.8"/><circle cx="757.5" cy="495.2" r="4.8"/><circle cx="768.4" cy="495.3" r="4.8"/><circle cx="779.4" cy="495.5" r="4.8"/><circle cx="790.3" cy="495.9" r="4.8"/><circle cx="801.3" cy="496.3" r="4.8"/><circle cx="812.2" cy="496.8" r="4.8"/><circle cx="823.2" cy="497.5" r="4.8"/><circle cx="834.1" cy="498.2" r="4.8"/><circle cx="845.1" cy="499.1" r="4.8"/><circle cx="856.0" cy="500.0" r="4.8"/><circle cx="867.0" cy="501.1" r="4.8"/><circle cx="877.9" cy="502.3" r="4.8"/><circle cx="888.9" cy="503.6" r="4.8"/><circle cx="899.8" cy="505.0" r="4.8"/><circle cx="910.8" cy="506.5" r="4.8"/><circle cx="921.7" cy="508.1" r="4.8"/><circle cx="932.7" cy="509.8" r="4.8"/></g>
<g fill="url(#gTeal)"><circle cx="521.0" cy="523.5" r="5.1"/><circle cx="532.0" cy="521.3" r="5.1"/><circle cx="543.0" cy="519.2" r="5.1"/><circle cx="554.0" cy="517.2" r="5.1"/><circle cx="565.0" cy="515.3" r="5.1"/><circle cx="576.0" cy="513.5" r="5.1"/><circle cx="587.0" cy="511.9" r="5.1"/><circle cx="598.0" cy="510.3" r="5.1"/><circle cx="609.0" cy="508.8" r="5.1"/><circle cx="620.0" cy="507.5" r="5.1"/><circle cx="631.0" cy="506.2" r="5.1"/><circle cx="642.0" cy="505.1" r="5.1"/><circle cx="653.0" cy="504.1" r="5.1"/><circle cx="664.0" cy="503.2" r="5.1"/><circle cx="675.0" cy="502.3" r="5.1"/><circle cx="686.0" cy="501.6" r="5.1"/><circle cx="697.0" cy="501.1" r="5.1"/><circle cx="708.0" cy="500.6" r="5.1"/><circle cx="719.0" cy="500.2" r="5.1"/><circle cx="730.0" cy="499.9" r="5.1"/><circle cx="741.0" cy="499.8" r="5.1"/><circle cx="752.0" cy="499.7" r="5.1"/><circle cx="763.0" cy="499.8" r="5.1"/><circle cx="774.0" cy="499.9" r="5.1"/><circle cx="785.0" cy="500.2" r="5.1"/><circle cx="796.0" cy="500.6" r="5.1"/><circle cx="807.0" cy="501.1" r="5.1"/><circle cx="818.0" cy="501.6" r="5.1"/><circle cx="829.0" cy="502.3" r="5.1"/><circle cx="840.0" cy="503.2" r="5.1"/><circle cx="851.0" cy="504.1" r="5.1"/><circle cx="862.0" cy="505.1" r="5.1"/><circle cx="873.0" cy="506.2" r="5.1"/><circle cx="884.0" cy="507.5" r="5.1"/><circle cx="895.0" cy="508.8" r="5.1"/><circle cx="906.0" cy="510.3" r="5.1"/><circle cx="917.0" cy="511.9" r="5.1"/><circle cx="928.0" cy="513.5" r="5.1"/><circle cx="939.0" cy="515.3" r="5.1"/></g>
<g fill="url(#gTeal)"><circle cx="514.4" cy="529.8" r="5.5"/><circle cx="525.5" cy="527.5" r="5.5"/><circle cx="536.5" cy="525.3" r="5.5"/><circle cx="547.6" cy="523.3" r="5.5"/><circle cx="558.6" cy="521.3" r="5.5"/><circle cx="569.7" cy="519.4" r="5.5"/><circle cx="580.7" cy="517.7" r="5.5"/><circle cx="591.8" cy="516.1" r="5.5"/><circle cx="602.8" cy="514.5" r="5.5"/><circle cx="613.9" cy="513.1" r="5.5"/><circle cx="624.9" cy="511.8" r="5.5"/><circle cx="636.0" cy="510.6" r="5.5"/><circle cx="647.0" cy="509.5" r="5.5"/><circle cx="658.1" cy="508.5" r="5.5"/><circle cx="669.1" cy="507.7" r="5.5"/><circle cx="680.2" cy="506.9" r="5.5"/><circle cx="691.2" cy="506.2" r="5.5"/><circle cx="702.3" cy="505.7" r="5.5"/><circle cx="713.3" cy="505.3" r="5.5"/><circle cx="724.4" cy="504.9" r="5.5"/><circle cx="735.4" cy="504.7" r="5.5"/><circle cx="746.5" cy="504.6" r="5.5"/><circle cx="757.5" cy="504.6" r="5.5"/><circle cx="768.6" cy="504.7" r="5.5"/><circle cx="779.6" cy="504.9" r="5.5"/><circle cx="790.7" cy="505.3" r="5.5"/><circle cx="801.7" cy="505.7" r="5.5"/><circle cx="812.8" cy="506.2" r="5.5"/><circle cx="823.8" cy="506.9" r="5.5"/><circle cx="834.9" cy="507.7" r="5.5"/><circle cx="845.9" cy="508.5" r="5.5"/><circle cx="857.0" cy="509.5" r="5.5"/><circle cx="868.0" cy="510.6" r="5.5"/><circle cx="879.1" cy="511.8" r="5.5"/><circle cx="890.1" cy="513.1" r="5.5"/><circle cx="901.2" cy="514.5" r="5.5"/><circle cx="912.2" cy="516.1" r="5.5"/><circle cx="923.3" cy="517.7" r="5.5"/><circle cx="934.3" cy="519.4" r="5.5"/></g>
<g fill="url(#gTeal)"><circle cx="518.9" cy="534.9" r="6.2"/><circle cx="530.0" cy="532.6" r="6.2"/><circle cx="541.1" cy="530.5" r="6.2"/><circle cx="552.2" cy="528.4" r="6.2"/><circle cx="563.3" cy="526.5" r="6.2"/><circle cx="574.4" cy="524.7" r="6.2"/><circle cx="585.5" cy="523.0" r="6.2"/><circle cx="596.6" cy="521.4" r="6.2"/><circle cx="607.7" cy="519.9" r="6.2"/><circle cx="618.8" cy="518.5" r="6.2"/><circle cx="629.9" cy="517.3" r="6.2"/><circle cx="641.0" cy="516.1" r="6.2"/><circle cx="652.1" cy="515.1" r="6.2"/><circle cx="663.2" cy="514.1" r="6.2"/><circle cx="674.3" cy="513.3" r="6.2"/><circle cx="685.4" cy="512.6" r="6.2"/><circle cx="696.5" cy="512.0" r="6.2"/><circle cx="707.6" cy="511.5" r="6.2"/><circle cx="718.7" cy="511.1" r="6.2"/><circle cx="729.8" cy="510.8" r="6.2"/><circle cx="740.9" cy="510.7" r="6.2"/><circle cx="752.0" cy="510.6" r="6.2"/><circle cx="763.1" cy="510.7" r="6.2"/><circle cx="774.2" cy="510.8" r="6.2"/><circle cx="785.3" cy="511.1" r="6.2"/><circle cx="796.4" cy="511.5" r="6.2"/><circle cx="807.5" cy="512.0" r="6.2"/><circle cx="818.6" cy="512.6" r="6.2"/><circle cx="829.7" cy="513.3" r="6.2"/><circle cx="840.8" cy="514.1" r="6.2"/><circle cx="851.9" cy="515.1" r="6.2"/><circle cx="863.0" cy="516.1" r="6.2"/><circle cx="874.1" cy="517.3" r="6.2"/><circle cx="885.2" cy="518.5" r="6.2"/><circle cx="896.3" cy="519.9" r="6.2"/><circle cx="907.4" cy="521.4" r="6.2"/><circle cx="918.5" cy="523.0" r="6.2"/><circle cx="929.6" cy="524.7" r="6.2"/><circle cx="940.7" cy="526.5" r="6.2"/></g>
</g>
<path d="M68.5 491C62 498 64 506 72 506S86 512 88.5 522" fill="none" stroke="#1a60be" stroke-width="2" stroke-linecap="round"/>
<polygon points="75.2,488.6 72.6,489.5 74.3,491.6 71.6,490.9 71.9,493.7 70.0,491.6 68.8,494.1 68.3,491.4 65.9,492.8 67.0,490.3 64.2,490.2 66.5,488.6 64.2,487.0 67.0,486.9 65.9,484.4 68.3,485.8 68.8,483.1 70.0,485.6 71.9,483.5 71.6,486.3 74.3,485.6 72.6,487.7" fill="#cc1028"/><circle cx="69.6" cy="488.6" r="2.2" fill="#ee6878"/><circle cx="69.3" cy="488.3" r="1.1" fill="#ffd0d0"/>
<g transform="translate(84.5,527) rotate(20) scale(1.0)" fill="none" stroke="#111" stroke-width="1.1" stroke-linecap="round"><path d="M0 -5V4M-2.3 -3h4.6M-4.2 0.5C-3.5 5 3.5 5 4.2 0.5"/><circle cx="0" cy="-6" r="1.1" stroke-width="0.8"/></g>
<path d="M116.5 484C108 492 110 500 118 503S132 505 137 508" fill="none" stroke="#1a60be" stroke-width="2" stroke-linecap="round"/>
<polygon points="124.8,481.2 121.7,482.2 123.8,484.8 120.6,483.9 120.9,487.2 118.7,484.8 117.3,487.7 116.7,484.5 113.9,486.2 115.1,483.2 111.9,483.1 114.6,481.2 111.9,479.3 115.1,479.2 113.9,476.2 116.7,477.9 117.3,474.7 118.7,477.6 120.9,475.2 120.6,478.5 123.8,477.6 121.7,480.2" fill="#cc1028"/><circle cx="118.2" cy="481.2" r="2.6" fill="#ee6878"/><circle cx="117.9" cy="480.9" r="1.3" fill="#ffd0d0"/>
<g transform="translate(135.9,529) rotate(-35) scale(1.0)" fill="none" stroke="#111" stroke-width="1.1" stroke-linecap="round"><path d="M0 -5V4M-2.3 -3h4.6M-4.2 0.5C-3.5 5 3.5 5 4.2 0.5"/><circle cx="0" cy="-6" r="1.1" stroke-width="0.8"/></g>
<path d="M198.5 484C192 490 194 498 202 501S220 506 222 515" fill="none" stroke="#1a60be" stroke-width="2" stroke-linecap="round"/>
<polygon points="206.6,481.2 203.9,482.1 205.7,484.3 202.9,483.6 203.2,486.5 201.3,484.4 200.0,486.9 199.5,484.1 197.0,485.6 198.1,482.9 195.2,482.8 197.6,481.2 195.2,479.6 198.1,479.5 197.0,476.8 199.5,478.3 200.0,475.5 201.3,478.0 203.2,475.9 202.9,478.8 205.7,478.1 203.9,480.3" fill="#cc1028"/><circle cx="200.8" cy="481.2" r="2.3" fill="#ee6878"/><circle cx="200.5" cy="480.9" r="1.2" fill="#ffd0d0"/>
<g transform="translate(217,522.5) rotate(30) scale(1.0)" fill="none" stroke="#111" stroke-width="1.1" stroke-linecap="round"><path d="M0 -5V4M-2.3 -3h4.6M-4.2 0.5C-3.5 5 3.5 5 4.2 0.5"/><circle cx="0" cy="-6" r="1.1" stroke-width="0.8"/></g>
<path d="M286 473C272 480 274 490 282 497S297 506 294.5 515" fill="none" stroke="#1a60be" stroke-width="2" stroke-linecap="round"/>
<polygon points="294.8,471.0 292.0,471.9 293.8,474.2 291.0,473.5 291.3,476.5 289.3,474.3 287.9,476.9 287.4,474.0 284.9,475.5 286.0,472.8 283.0,472.7 285.5,471.0 283.0,469.3 286.0,469.2 284.9,466.5 287.4,468.0 287.9,465.1 289.3,467.7 291.3,465.5 291.0,468.5 293.8,467.8 292.0,470.1" fill="#cc1028"/><circle cx="288.8" cy="471.0" r="2.4" fill="#ee6878"/><circle cx="288.5" cy="470.7" r="1.2" fill="#ffd0d0"/>
<g transform="translate(283,522) rotate(-60) scale(1.0)" fill="none" stroke="#111" stroke-width="1.1" stroke-linecap="round"><path d="M0 -5V4M-2.3 -3h4.6M-4.2 0.5C-3.5 5 3.5 5 4.2 0.5"/><circle cx="0" cy="-6" r="1.1" stroke-width="0.8"/></g>
<path d="M383 473C370 476 372 486 378 494S386 504 384.5 509" fill="none" stroke="#1a60be" stroke-width="2" stroke-linecap="round"/>
<polygon points="395.2,471.0 391.6,472.2 394.0,475.1 390.3,474.2 390.8,477.9 388.2,475.1 386.5,478.5 385.9,474.8 382.6,476.7 384.1,473.3 380.3,473.1 383.4,471.0 380.3,468.9 384.1,468.7 382.6,465.3 385.9,467.2 386.5,463.5 388.2,466.9 390.8,464.1 390.3,467.8 394.0,466.9 391.6,469.8" fill="#cc1028"/><circle cx="387.6" cy="471.0" r="3.0" fill="#ee6878"/><circle cx="387.3" cy="470.7" r="1.5" fill="#ffd0d0"/>
<g transform="translate(375,525) rotate(-10) scale(1.0)" fill="none" stroke="#111" stroke-width="1.1" stroke-linecap="round"><path d="M0 -5V4M-2.3 -3h4.6M-4.2 0.5C-3.5 5 3.5 5 4.2 0.5"/><circle cx="0" cy="-6" r="1.1" stroke-width="0.8"/></g>
<path d="M440 487C434 487 429 490 426 495" fill="none" stroke="#1a60be" stroke-width="2" stroke-linecap="round"/>
<polygon points="448.8,484.8 446.1,485.7 447.9,487.9 445.1,487.2 445.4,490.1 443.5,488.0 442.2,490.5 441.7,487.7 439.2,489.2 440.3,486.5 437.4,486.4 439.8,484.8 437.4,483.2 440.3,483.1 439.2,480.4 441.7,481.9 442.2,479.1 443.5,481.6 445.4,479.5 445.1,482.4 447.9,481.7 446.1,483.9" fill="#cc1028"/><circle cx="443.0" cy="484.8" r="2.3" fill="#ee6878"/><circle cx="442.7" cy="484.5" r="1.2" fill="#ffd0d0"/>
<g transform="translate(426.5,535) rotate(-70) scale(1.0)" fill="none" stroke="#111" stroke-width="1.1" stroke-linecap="round"><path d="M0 -5V4M-2.3 -3h4.6M-4.2 0.5C-3.5 5 3.5 5 4.2 0.5"/><circle cx="0" cy="-6" r="1.1" stroke-width="0.8"/></g>
<defs><g id="octo"><path d="M-6.0 13.7C-8.7 13.5 -18.6 14.4 -21.9 12.6C-25.3 10.8 -23.5 4.8 -26.1 2.7C-28.6 0.6 -33.5 0.2 -37.3 0.2C-41.0 0.2 -46.6 2.3 -48.5 2.7" fill="none" stroke="#58b0d0" stroke-width="5.4" stroke-linecap="round"/><path d="M-6.6 21.4C-9.7 21.5 -19.4 22.1 -25.2 22.5C-31.1 22.8 -37.4 23.4 -41.7 23.2C-45.9 23.1 -49.2 21.9 -50.7 21.7" fill="none" stroke="#58b0d0" stroke-width="5.4" stroke-linecap="round"/><path d="M10.5 10.4C11.8 9.1 15.5 3.7 18.7 2.7C21.9 1.7 26.0 4.5 29.7 4.6C33.3 4.7 38.3 4.8 40.6 3.3C42.9 1.7 43.0 -3.3 43.5 -4.6" fill="none" stroke="#58b0d0" stroke-width="5.4" stroke-linecap="round"/><path d="M11.6 17.5C13.3 18.3 18.0 21.0 22.0 21.9C25.9 22.9 30.6 23.0 35.1 23.2C39.7 23.4 45.8 22.6 49.4 23.2C53.1 23.8 55.8 26.2 57.1 26.8" fill="none" stroke="#58b0d0" stroke-width="5.4" stroke-linecap="round"/><path d="M9.4 23.6C10.9 24.7 15.6 28.9 18.7 30.7C21.8 32.5 26.7 32.6 28.0 34.2C29.3 35.8 28.9 39.1 26.6 40.6C24.3 42.0 19.3 42.6 14.3 42.8C9.3 42.9 0.6 42.4 -3.3 41.7C-7.1 40.9 -8.0 38.9 -9.0 38.4" fill="none" stroke="#58b0d0" stroke-width="5.4" stroke-linecap="round"/><path d="M-2.2 23.0C-3.1 23.6 -5.1 26.4 -7.6 26.8C-10.2 27.2 -14.6 25.5 -17.5 25.4C-20.5 25.3 -23.9 26.2 -25.2 26.3" fill="none" stroke="#58b0d0" stroke-width="5.4" stroke-linecap="round"/><ellipse cx="0.6" cy="16.5" rx="12.5" ry="7.6" fill="#58b0d0"/><ellipse cx="0" cy="0" rx="10.4" ry="11.6" fill="#58b0d0"/><path d="M-6.0 13.7C-8.7 13.5 -18.6 14.4 -21.9 12.6C-25.3 10.8 -23.5 4.8 -26.1 2.7C-28.6 0.6 -33.5 0.2 -37.3 0.2C-41.0 0.2 -46.6 2.3 -48.5 2.7" fill="none" stroke="#c2eaf4" stroke-width="4.1" stroke-linecap="round"/><path d="M-6.6 21.4C-9.7 21.5 -19.4 22.1 -25.2 22.5C-31.1 22.8 -37.4 23.4 -41.7 23.2C-45.9 23.1 -49.2 21.9 -50.7 21.7" fill="none" stroke="#c2eaf4" stroke-width="4.1" stroke-linecap="round"/><path d="M10.5 10.4C11.8 9.1 15.5 3.7 18.7 2.7C21.9 1.7 26.0 4.5 29.7 4.6C33.3 4.7 38.3 4.8 40.6 3.3C42.9 1.7 43.0 -3.3 43.5 -4.6" fill="none" stroke="#c2eaf4" stroke-width="4.1" stroke-linecap="round"/><path d="M11.6 17.5C13.3 18.3 18.0 21.0 22.0 21.9C25.9 22.9 30.6 23.0 35.1 23.2C39.7 23.4 45.8 22.6 49.4 23.2C53.1 23.8 55.8 26.2 57.1 26.8" fill="none" stroke="#c2eaf4" stroke-width="4.1" stroke-linecap="round"/><path d="M9.4 23.6C10.9 24.7 15.6 28.9 18.7 30.7C21.8 32.5 26.7 32.6 28.0 34.2C29.3 35.8 28.9 39.1 26.6 40.6C24.3 42.0 19.3 42.6 14.3 42.8C9.3 42.9 0.6 42.4 -3.3 41.7C-7.1 40.9 -8.0 38.9 -9.0 38.4" fill="none" stroke="#c2eaf4" stroke-width="4.1" stroke-linecap="round"/><path d="M-2.2 23.0C-3.1 23.6 -5.1 26.4 -7.6 26.8C-10.2 27.2 -14.6 25.5 -17.5 25.4C-20.5 25.3 -23.9 26.2 -25.2 26.3" fill="none" stroke="#c2eaf4" stroke-width="4.1" stroke-linecap="round"/><ellipse cx="0.6" cy="16.3" rx="11.8" ry="7" fill="#c2eaf4"/><ellipse cx="0" cy="0" rx="9.7" ry="10.9" fill="#cdeef6"/><ellipse cx="-2" cy="-3" rx="5.5" ry="6.5" fill="#e6f7fb" opacity="0.85"/><ellipse cx="-3.2" cy="5.2" rx="1" ry="2" fill="#1a2a50"/><ellipse cx="3.1" cy="5.2" rx="1" ry="2" fill="#1a2a50"/><ellipse cx="-33.4" cy="1.6" rx="2.2" ry="1.6" fill="#e8472a"/><ellipse cx="-29.0" cy="9.8" rx="2.2" ry="1.6" fill="#e8472a"/><ellipse cx="-18.6" cy="16.4" rx="2.2" ry="1.6" fill="#e8472a"/><ellipse cx="-40.6" cy="24.7" rx="2.2" ry="1.6" fill="#e8472a"/><ellipse cx="-24.1" cy="25.8" rx="2.2" ry="1.6" fill="#e8472a"/><ellipse cx="-6.6" cy="25.2" rx="2.2" ry="1.6" fill="#e8472a"/><ellipse cx="7.2" cy="25.2" rx="2.2" ry="1.6" fill="#e8472a"/><ellipse cx="15.9" cy="17.0" rx="2.2" ry="1.6" fill="#e8472a"/><ellipse cx="20.9" cy="4.4" rx="2.2" ry="1.6" fill="#e8472a"/><ellipse cx="33.5" cy="5.4" rx="2.2" ry="1.6" fill="#e8472a"/><ellipse cx="42.3" cy="1.6" rx="2.2" ry="1.6" fill="#e8472a"/><ellipse cx="31.9" cy="25.2" rx="2.2" ry="1.6" fill="#e8472a"/><ellipse cx="47.8" cy="24.7" rx="2.2" ry="1.6" fill="#e8472a"/><ellipse cx="27.5" cy="39.5" rx="2.2" ry="1.6" fill="#e8472a"/><ellipse cx="6.1" cy="44.4" rx="2.2" ry="1.6" fill="#e8472a"/></g></defs>
<use href="#octo" transform="translate(749.1,470.4)"/>
<use href="#octo" transform="translate(578.4,485.6) rotate(-8) scale(0.66)"/>
<use href="#octo" transform="translate(885,482) rotate(6) scale(-0.66,0.66)"/>
<use href="#octo" transform="translate(646.8,484.5) scale(0.28)"/>
<!-- p_d -->
<defs>
<filter id="fTex0" x="0" y="0" width="1" height="1" color-interpolation-filters="sRGB">
<feTurbulence type="fractalNoise" baseFrequency="0.62" numOctaves="3" seed="7" result="n"/>
<feColorMatrix in="n" type="matrix" values="2.4 0 0 0 -0.7  2.4 0 0 0 -0.7  2.4 0 0 0 -0.7  0 0 0 0 1" result="g"/>
<feTurbulence type="fractalNoise" baseFrequency="0.09" numOctaves="2" seed="4" result="dn"/>
<feDisplacementMap in="SourceGraphic" in2="dn" scale="5" xChannelSelector="R" yChannelSelector="G" result="sg"/>
<feComposite in="g" in2="sg" operator="in" result="gc"/>
<feComposite in="sg" in2="gc" operator="arithmetic" k1="0" k2="1" k3="0.15" k4="-0.075"/>
</filter>
<filter id="fTex1" x="0" y="0" width="1" height="1" color-interpolation-filters="sRGB">
<feTurbulence type="fractalNoise" baseFrequency="0.62" numOctaves="3" seed="8" result="n"/>
<feColorMatrix in="n" type="matrix" values="2.4 0 0 0 -0.7  2.4 0 0 0 -0.7  2.4 0 0 0 -0.7  0 0 0 0 1" result="g"/>
<feTurbulence type="fractalNoise" baseFrequency="0.09" numOctaves="2" seed="4" result="dn"/>
<feDisplacementMap in="SourceGraphic" in2="dn" scale="5" xChannelSelector="R" yChannelSelector="G" result="sg"/>
<feComposite in="g" in2="sg" operator="in" result="gc"/>
<feComposite in="sg" in2="gc" operator="arithmetic" k1="0" k2="1" k3="0.2" k4="-0.1"/>
</filter>
<filter id="fTex2" x="0" y="0" width="1" height="1" color-interpolation-filters="sRGB">
<feTurbulence type="fractalNoise" baseFrequency="0.62" numOctaves="3" seed="9" result="n"/>
<feColorMatrix in="n" type="matrix" values="2.4 0 0 0 -0.7  2.4 0 0 0 -0.7  2.4 0 0 0 -0.7  0 0 0 0 1" result="g"/>
<feTurbulence type="fractalNoise" baseFrequency="0.09" numOctaves="2" seed="4" result="dn"/>
<feDisplacementMap in="SourceGraphic" in2="dn" scale="5" xChannelSelector="R" yChannelSelector="G" result="sg"/>
<feComposite in="g" in2="sg" operator="in" result="gc"/>
<feComposite in="sg" in2="gc" operator="arithmetic" k1="0" k2="1" k3="0.12" k4="-0.06"/>
</filter>
<filter id="fTex3" x="0" y="0" width="1" height="1" color-interpolation-filters="sRGB">
<feTurbulence type="fractalNoise" baseFrequency="0.62" numOctaves="3" seed="10" result="n"/>
<feColorMatrix in="n" type="matrix" values="2.4 0 0 0 -0.7  2.4 0 0 0 -0.7  2.4 0 0 0 -0.7  0 0 0 0 1" result="g"/>
<feTurbulence type="fractalNoise" baseFrequency="0.09" numOctaves="2" seed="4" result="dn"/>
<feDisplacementMap in="SourceGraphic" in2="dn" scale="5" xChannelSelector="R" yChannelSelector="G" result="sg"/>
<feComposite in="g" in2="sg" operator="in" result="gc"/>
<feComposite in="sg" in2="gc" operator="arithmetic" k1="0" k2="1" k3="0.2" k4="-0.1"/>
</filter>
<filter id="fTex4" x="0" y="0" width="1" height="1" color-interpolation-filters="sRGB">
<feTurbulence type="fractalNoise" baseFrequency="0.62" numOctaves="3" seed="11" result="n"/>
<feColorMatrix in="n" type="matrix" values="2.4 0 0 0 -0.7  2.4 0 0 0 -0.7  2.4 0 0 0 -0.7  0 0 0 0 1" result="g"/>
<feTurbulence type="fractalNoise" baseFrequency="0.09" numOctaves="2" seed="4" result="dn"/>
<feDisplacementMap in="SourceGraphic" in2="dn" scale="5" xChannelSelector="R" yChannelSelector="G" result="sg"/>
<feComposite in="g" in2="sg" operator="in" result="gc"/>
<feComposite in="sg" in2="gc" operator="arithmetic" k1="0" k2="1" k3="0.19" k4="-0.095"/>
</filter>
<filter id="fRough" x="-0.02" y="-0.02" width="1.04" height="1.04" color-interpolation-filters="sRGB">
<feTurbulence type="fractalNoise" baseFrequency="0.09" numOctaves="2" seed="4" result="dn"/>
<feDisplacementMap in="SourceGraphic" in2="dn" scale="5" xChannelSelector="R" yChannelSelector="G" result="sg"/>
<feGaussianBlur in="sg" stdDeviation="0.4"/>
</filter>
<filter id="fGrain" x="0" y="0" width="1" height="1" color-interpolation-filters="sRGB">
<feTurbulence type="fractalNoise" baseFrequency="0.7" numOctaves="1" seed="11" result="n"/>
<feColorMatrix in="n" type="matrix" values="2 0 0 0 -0.5  2 0 0 0 -0.5  2 0 0 0 -0.5  0 0 0 0 1" result="g"/>
<feComposite in="SourceGraphic" in2="g" operator="arithmetic" k1="0" k2="1" k3="0.08" k4="-0.04"/>
</filter>
<filter id="fBl" x="-0.3" y="-0.3" width="1.6" height="1.6"><feGaussianBlur stdDeviation="1.1"/></filter>
<filter id="fBl2" x="-0.5" y="-0.5" width="2" height="2"><feGaussianBlur stdDeviation="0.6"/></filter>
<filter id="fBl3" x="-0.1" y="-0.1" width="1.2" height="1.2"><feGaussianBlur stdDeviation="0.35"/></filter>
<filter id="fBlob" x="-0.5" y="-0.5" width="2" height="2"><feGaussianBlur stdDeviation="12"/></filter>
<linearGradient id="gBar" x1="0" y1="0" x2="0" y2="1">
<stop offset="0" stop-color="#ff0000"/><stop offset="0.73" stop-color="#ff0000"/><stop offset="0.77" stop-color="#ff9a00"/><stop offset="0.81" stop-color="#e8e000"/><stop offset="0.86" stop-color="#2cc02c"/><stop offset="0.91" stop-color="#0a9a50"/><stop offset="0.96" stop-color="#1060b0"/><stop offset="1" stop-color="#104a9a"/>
</linearGradient>
<pattern id="pBlue" width="7" height="3" patternUnits="userSpaceOnUse" patternTransform="rotate(-14)">
<rect width="7" height="3" fill="#114892"/><rect y="0" width="7" height="1" fill="#0b3470"/><rect x="1" y="1.7" width="2.5" height="0.9" fill="#0d3a7a"/><rect x="4.5" y="1.5" width="1.5" height="0.8" fill="#1752a0"/>
</pattern>
</defs>
<svg x="978.3" y="48.8" width="189.4" height="169.9" viewBox="0 0 189.4 169.9">
<g filter="url(#fGrain)"><rect x="-5" y="-5" width="199.4" height="179.9" fill="#858585"/>
<ellipse cx="100" cy="68" rx="30" ry="85" fill="#686868" opacity="0.55" transform="rotate(30 100 68)" filter="url(#fBlob)"/>
<ellipse cx="8" cy="85" rx="18" ry="50" fill="#787878" opacity="0.6" transform="rotate(0 8 85)" filter="url(#fBlob)"/>
<ellipse cx="178" cy="105" rx="35" ry="60" fill="#a8a8a8" opacity="0.8" transform="rotate(0 178 105)" filter="url(#fBlob)"/>
<ellipse cx="160" cy="15" rx="40" ry="18" fill="#989898" opacity="0.5" transform="rotate(0 160 15)" filter="url(#fBlob)"/>
<ellipse cx="90" cy="163" rx="90" ry="16" fill="#9e9e9e" opacity="0.7" transform="rotate(0 90 163)" filter="url(#fBlob)"/>
<ellipse cx="22" cy="18" rx="30" ry="20" fill="#949494" opacity="0.6" transform="rotate(0 22 18)" filter="url(#fBlob)"/>
</g>
<circle cx="117.2" cy="124.6" r="1.1" fill="#666" opacity="0.55" filter="url(#fBl2)"/>
<circle cx="175.8" cy="124.3" r="1.2" fill="#666" opacity="0.55" filter="url(#fBl2)"/>
<circle cx="8.3" cy="79.3" r="1.3" fill="#666" opacity="0.55" filter="url(#fBl2)"/>
<circle cx="122.0" cy="150.7" r="0.6" fill="#666" opacity="0.55" filter="url(#fBl2)"/>
<circle cx="89.0" cy="43.4" r="0.9" fill="#666" opacity="0.55" filter="url(#fBl2)"/>
<circle cx="108.3" cy="5.1" r="0.7" fill="#666" opacity="0.55" filter="url(#fBl2)"/>
<circle cx="54.3" cy="153.2" r="1.1" fill="#666" opacity="0.55" filter="url(#fBl2)"/>
<circle cx="32.3" cy="133.7" r="0.6" fill="#666" opacity="0.55" filter="url(#fBl2)"/>
<defs><g id="cg0"><path d="M17.4 28.3C18.7 27.6 19.9 32.4 21.8 37.3C23.7 42.1 27.3 51.7 28.8 57.3C30.3 63.0 30.6 67.7 30.8 71.4C30.9 75.0 28.9 74.0 29.8 79.4C30.6 84.7 33.1 98.1 35.8 103.4C38.5 108.8 42.1 107.1 45.8 111.4C49.5 115.8 52.8 123.5 57.8 129.5C62.8 135.5 71.9 143.8 75.9 147.5C79.9 151.2 82.5 150.5 81.9 151.5C81.2 152.5 76.9 153.5 71.9 153.5C66.9 153.5 58.5 151.4 51.8 151.5C45.1 151.7 36.8 153.5 31.8 154.5C26.8 155.5 23.8 158.0 21.8 157.5C19.8 157.0 19.4 155.9 19.8 151.5C20.1 147.2 22.8 138.2 23.8 131.5C24.8 124.8 26.1 118.1 25.8 111.4C25.4 104.8 23.8 98.1 21.8 91.4C19.8 84.7 15.6 77.0 13.7 71.4C11.9 65.7 10.7 62.3 10.7 57.3C10.7 52.3 12.6 46.1 13.7 41.3C14.8 36.5 16.0 28.9 17.4 28.3Z"/><path d="M32.8 78.4C36.1 74.4 47.0 70.2 51.8 67.4C56.7 64.5 59.8 60.7 61.8 61.3C63.8 62.0 64.5 67.0 63.8 71.4C63.2 75.7 60.2 82.0 57.8 87.4C55.5 92.7 51.8 99.6 49.8 103.4C47.8 107.3 47.8 110.1 45.8 110.4C43.8 110.8 40.1 108.6 37.8 105.4C35.5 102.3 32.6 95.9 31.8 91.4C30.9 86.9 29.4 82.4 32.8 78.4Z"/><path d="M75.9 1.2C78.4 0.9 87.2 -0.1 88.9 3.2C90.6 6.6 87.1 14.9 85.9 21.3C84.7 27.6 83.2 35.3 81.9 41.3C80.5 47.3 78.9 53.0 77.9 57.3C76.9 61.7 77.2 64.7 75.9 67.4C74.5 70.0 71.9 73.0 69.9 73.4C67.9 73.7 65.0 71.7 63.8 69.4C62.7 67.0 62.5 64.0 62.8 59.3C63.2 54.7 64.8 47.6 65.8 41.3C66.9 35.0 67.5 27.3 68.9 21.3C70.2 15.2 72.7 8.6 73.9 5.2C75.0 1.9 73.4 1.6 75.9 1.2Z"/><path d="M100.9 55.7C101.6 55.4 110.1 58.1 115.9 61.3C121.8 64.6 130.0 72.2 136.0 75.4C142.0 78.5 146.7 78.0 152.0 80.4C157.4 82.7 163.7 86.2 168.1 89.4C172.4 92.6 174.4 96.7 178.1 99.4C181.7 102.1 188.1 104.1 190.1 105.4C192.1 106.8 193.1 107.1 190.1 107.4C187.1 107.8 176.7 107.1 172.1 107.4C167.4 107.8 165.4 110.1 162.0 109.4C158.7 108.8 155.7 106.8 152.0 103.4C148.3 100.1 144.0 94.1 140.0 89.4C136.0 84.7 132.6 79.7 128.0 75.4C123.3 71.0 116.4 66.6 111.9 63.3C107.4 60.1 100.3 56.1 100.9 55.7Z"/><path d="M128.0 88.4C128.6 89.1 125.3 95.6 126.0 99.4C126.6 103.3 129.3 108.1 132.0 111.4C134.7 114.8 142.0 117.3 142.0 119.5C142.0 121.6 137.0 123.1 132.0 124.5C127.0 125.8 118.6 126.1 111.9 127.5C105.3 128.8 97.1 131.5 91.9 132.5C86.7 133.5 82.5 134.3 80.9 133.5C79.2 132.6 79.4 130.1 81.9 127.5C84.4 124.8 90.9 121.1 95.9 117.5C100.9 113.8 107.6 109.1 111.9 105.4C116.3 101.8 119.3 98.2 122.0 95.4C124.6 92.6 127.3 87.7 128.0 88.4Z"/><path d="M142.0 119.5C143.7 117.6 151.0 115.8 156.0 116.5C161.0 117.1 166.4 121.3 172.1 123.5C177.7 125.6 187.1 125.1 190.1 129.5C193.1 133.8 193.1 147.2 190.1 149.5C187.1 151.9 177.7 145.8 172.1 143.5C166.4 141.2 160.4 138.2 156.0 135.5C151.7 132.8 148.3 130.1 146.0 127.5C143.7 124.8 140.3 121.3 142.0 119.5Z"/><path d="M122.0 -0.8C124.0 -2.5 139.2 -2.1 142.0 -0.8C144.8 0.6 140.3 4.7 139.0 7.2C137.7 9.7 135.9 13.9 134.4 14.2C132.9 14.6 132.0 11.7 130.0 9.2C127.9 6.7 120.0 0.9 122.0 -0.8Z"/></g></defs>
<use href="#cg0" fill="#8a8a8a" stroke="none" filter="url(#fTex0)"/>
<use href="#cg0" fill="none" stroke="#bcbcbc" stroke-width="2.2" opacity="0.4" transform="translate(1.1,1.0)" filter="url(#fRough)"/>
<use href="#cg0" fill="none" stroke="#3a3a3a" stroke-width="1.1" opacity="0.9" transform="translate(-0.2,-0.2)" filter="url(#fRough)"/>
<ellipse cx="19.8" cy="61.3" rx="5.6" ry="9.0" fill="#c0c0c0" opacity="0.28" filter="url(#fBl)"/>
<ellipse cx="41.8" cy="129.5" rx="9.0" ry="8.0" fill="#c0c0c0" opacity="0.28" filter="url(#fBl)"/>
<ellipse cx="71.9" cy="41.3" rx="4.0" ry="10.0" fill="#c0c0c0" opacity="0.28" filter="url(#fBl)"/>
<ellipse cx="156.0" cy="91.4" rx="10.0" ry="7.0" fill="#c0c0c0" opacity="0.28" filter="url(#fBl)"/>
<ellipse cx="113.9" cy="116.5" rx="8.0" ry="5.0" fill="#c0c0c0" opacity="0.28" filter="url(#fBl)"/>
<ellipse cx="158.0" cy="127.5" rx="7.0" ry="4.4" fill="#c0c0c0" opacity="0.28" filter="url(#fBl)"/>
<circle cx="113.9" cy="115.4" r="1.8" fill="#d8d8d8" opacity="0.8" filter="url(#fBl2)"/>
<circle cx="120.0" cy="112.8" r="1.2" fill="#d8d8d8" opacity="0.8" filter="url(#fBl2)"/>
<circle cx="154.0" cy="128.1" r="1.6" fill="#d8d8d8" opacity="0.8" filter="url(#fBl2)"/>
<circle cx="161.0" cy="126.9" r="1.6" fill="#d8d8d8" opacity="0.8" filter="url(#fBl2)"/>
<circle cx="74.9" cy="40.3" r="1.0" fill="#d8d8d8" opacity="0.8" filter="url(#fBl2)"/>
<circle cx="71.9" cy="56.3" r="1.0" fill="#d8d8d8" opacity="0.8" filter="url(#fBl2)"/>
<rect x="166.6" y="163.4" width="21.3" height="5.9" fill="#fff"/>
</svg>
<rect x="1172.8" y="48.8" width="189.9" height="169.9" fill="#000"/>
<path d="M1262.2 142.6L1361.9 183.5L1273.2 218.7L1172.8 177.89999999999998Z" fill="url(#pBlue)"/>
<path d="M1262.2 48.8V142.6M1172.8 177.89999999999998L1262.2 142.6L1361.9 183.5" fill="none" stroke="#b8101e" stroke-width="0.9"/>
<svg x="978.3" y="223.3" width="189.4" height="169.9" viewBox="0 0 189.4 169.9">
<g filter="url(#fGrain)"><rect x="-5" y="-5" width="199.4" height="179.9" fill="#a7a7a7"/>
<ellipse cx="40" cy="130" rx="70" ry="50" fill="#8e8e8e" opacity="0.6" transform="rotate(0 40 130)" filter="url(#fBlob)"/>
<ellipse cx="150" cy="40" rx="60" ry="50" fill="#b8b8b8" opacity="0.7" transform="rotate(0 150 40)" filter="url(#fBlob)"/>
<ellipse cx="100" cy="100" rx="40" ry="30" fill="#989898" opacity="0.5" transform="rotate(0 100 100)" filter="url(#fBlob)"/>
<ellipse cx="170" cy="150" rx="30" ry="30" fill="#b2b2b2" opacity="0.5" transform="rotate(0 170 150)" filter="url(#fBlob)"/>
<ellipse cx="20" cy="30" rx="40" ry="30" fill="#9a9a9a" opacity="0.5" transform="rotate(0 20 30)" filter="url(#fBlob)"/>
</g>
<circle cx="116.2" cy="23.8" r="0.5" fill="#666" opacity="0.55" filter="url(#fBl2)"/>
<circle cx="162.8" cy="37.3" r="0.7" fill="#666" opacity="0.55" filter="url(#fBl2)"/>
<circle cx="183.2" cy="146.0" r="0.7" fill="#666" opacity="0.55" filter="url(#fBl2)"/>
<circle cx="179.3" cy="91.4" r="1.0" fill="#666" opacity="0.55" filter="url(#fBl2)"/>
<circle cx="40.6" cy="157.2" r="1.1" fill="#666" opacity="0.55" filter="url(#fBl2)"/>
<circle cx="180.3" cy="149.5" r="0.7" fill="#666" opacity="0.55" filter="url(#fBl2)"/>
<circle cx="69.2" cy="30.2" r="0.6" fill="#666" opacity="0.55" filter="url(#fBl2)"/>
<circle cx="14.9" cy="52.4" r="1.0" fill="#666" opacity="0.55" filter="url(#fBl2)"/>
<circle cx="3.6" cy="114.1" r="0.8" fill="#666" opacity="0.55" filter="url(#fBl2)"/>
<circle cx="59.8" cy="137.2" r="0.9" fill="#666" opacity="0.55" filter="url(#fBl2)"/>
<circle cx="60.9" cy="81.9" r="1.1" fill="#666" opacity="0.55" filter="url(#fBl2)"/>
<circle cx="13.5" cy="162.8" r="0.5" fill="#666" opacity="0.55" filter="url(#fBl2)"/>
<circle cx="140.5" cy="141.5" r="0.5" fill="#666" opacity="0.55" filter="url(#fBl2)"/>
<circle cx="147.5" cy="63.0" r="1.0" fill="#666" opacity="0.55" filter="url(#fBl2)"/>
<circle cx="4.7" cy="10.7" r="0.6" fill="#666" opacity="0.55" filter="url(#fBl2)"/>
<circle cx="178.2" cy="35.2" r="1.1" fill="#666" opacity="0.55" filter="url(#fBl2)"/>
<circle cx="173.5" cy="157.4" r="0.8" fill="#666" opacity="0.55" filter="url(#fBl2)"/>
<circle cx="68.1" cy="89.0" r="1.1" fill="#666" opacity="0.55" filter="url(#fBl2)"/>
<circle cx="22.8" cy="125.7" r="1.1" fill="#666" opacity="0.55" filter="url(#fBl2)"/>
<circle cx="160.7" cy="9.0" r="1.3" fill="#666" opacity="0.55" filter="url(#fBl2)"/>
<circle cx="19.7" cy="58.8" r="1.0" fill="#666" opacity="0.55" filter="url(#fBl2)"/>
<circle cx="171.4" cy="58.7" r="1.2" fill="#666" opacity="0.55" filter="url(#fBl2)"/>
<circle cx="103.0" cy="54.2" r="0.8" fill="#666" opacity="0.55" filter="url(#fBl2)"/>
<circle cx="35.5" cy="15.8" r="0.6" fill="#666" opacity="0.55" filter="url(#fBl2)"/>
<circle cx="129.4" cy="166.4" r="0.6" fill="#666" opacity="0.55" filter="url(#fBl2)"/>
<circle cx="11.9" cy="164.7" r="0.9" fill="#666" opacity="0.55" filter="url(#fBl2)"/>
<circle cx="77.4" cy="41.9" r="1.0" fill="#666" opacity="0.55" filter="url(#fBl2)"/>
<circle cx="154.5" cy="77.7" r="0.8" fill="#666" opacity="0.55" filter="url(#fBl2)"/>
<circle cx="13.2" cy="153.1" r="0.5" fill="#666" opacity="0.55" filter="url(#fBl2)"/>
<circle cx="93.5" cy="140.4" r="0.6" fill="#666" opacity="0.55" filter="url(#fBl2)"/>
<circle cx="137.2" cy="158.7" r="1.0" fill="#666" opacity="0.55" filter="url(#fBl2)"/>
<circle cx="147.5" cy="20.5" r="0.8" fill="#666" opacity="0.55" filter="url(#fBl2)"/>
<circle cx="30.4" cy="141.5" r="0.7" fill="#666" opacity="0.55" filter="url(#fBl2)"/>
<circle cx="86.1" cy="166.8" r="1.2" fill="#666" opacity="0.55" filter="url(#fBl2)"/>
<circle cx="182.0" cy="77.3" r="0.9" fill="#666" opacity="0.55" filter="url(#fBl2)"/>
<circle cx="136.8" cy="81.5" r="0.7" fill="#666" opacity="0.55" filter="url(#fBl2)"/>
<circle cx="77.1" cy="27.0" r="0.8" fill="#666" opacity="0.55" filter="url(#fBl2)"/>
<circle cx="184.3" cy="160.3" r="1.0" fill="#666" opacity="0.55" filter="url(#fBl2)"/>
<circle cx="94.6" cy="58.5" r="0.6" fill="#666" opacity="0.55" filter="url(#fBl2)"/>
<circle cx="52.9" cy="131.2" r="1.2" fill="#666" opacity="0.55" filter="url(#fBl2)"/>
<circle cx="69.3" cy="131.8" r="1.1" fill="#666" opacity="0.55" filter="url(#fBl2)"/>
<circle cx="130.4" cy="111.8" r="1.1" fill="#666" opacity="0.55" filter="url(#fBl2)"/>
<circle cx="69.7" cy="118.5" r="0.7" fill="#666" opacity="0.55" filter="url(#fBl2)"/>
<circle cx="92.1" cy="129.2" r="1.1" fill="#666" opacity="0.55" filter="url(#fBl2)"/>
<circle cx="56.9" cy="158.0" r="1.0" fill="#666" opacity="0.55" filter="url(#fBl2)"/>
<circle cx="109.5" cy="4.9" r="0.9" fill="#666" opacity="0.55" filter="url(#fBl2)"/>
<circle cx="49.0" cy="113.1" r="0.9" fill="#666" opacity="0.55" filter="url(#fBl2)"/>
<circle cx="152.8" cy="109.1" r="1.1" fill="#666" opacity="0.55" filter="url(#fBl2)"/>
<circle cx="66.8" cy="108.6" r="1.1" fill="#666" opacity="0.55" filter="url(#fBl2)"/>
<circle cx="154.9" cy="60.4" r="1.2" fill="#666" opacity="0.55" filter="url(#fBl2)"/>
<circle cx="162.5" cy="115.8" r="1.3" fill="#666" opacity="0.55" filter="url(#fBl2)"/>
<circle cx="178.4" cy="87.9" r="0.9" fill="#666" opacity="0.55" filter="url(#fBl2)"/>
<circle cx="33.5" cy="140.1" r="1.2" fill="#666" opacity="0.55" filter="url(#fBl2)"/>
<circle cx="90.5" cy="116.3" r="1.1" fill="#666" opacity="0.55" filter="url(#fBl2)"/>
<circle cx="136.9" cy="31.2" r="1.1" fill="#666" opacity="0.55" filter="url(#fBl2)"/>
<circle cx="109.5" cy="112.1" r="0.8" fill="#666" opacity="0.55" filter="url(#fBl2)"/>
<circle cx="117.4" cy="130.0" r="1.0" fill="#666" opacity="0.55" filter="url(#fBl2)"/>
<circle cx="135.1" cy="7.5" r="0.6" fill="#666" opacity="0.55" filter="url(#fBl2)"/>
<circle cx="83.9" cy="109.6" r="0.7" fill="#666" opacity="0.55" filter="url(#fBl2)"/>
<circle cx="128.8" cy="106.4" r="0.5" fill="#666" opacity="0.55" filter="url(#fBl2)"/>
<defs><g id="cg1"><path d="M-2.3 17.8C0.1 14.4 6.7 19.8 11.7 21.8C16.8 23.8 22.8 26.8 27.8 29.8C32.8 32.8 38.1 37.3 41.8 39.8C45.5 42.3 50.8 43.3 49.8 44.8C48.8 46.3 40.5 47.6 35.8 48.8C31.1 50.0 26.1 52.0 21.8 51.8C17.4 51.7 13.7 49.5 9.7 47.8C5.7 46.1 -0.3 46.8 -2.3 41.8C-4.3 36.8 -4.6 21.1 -2.3 17.8Z"/><path d="M-2.3 69.9C0.1 64.7 7.4 67.9 11.7 68.9C16.1 69.9 20.9 72.7 23.8 75.9C26.6 79.0 28.1 83.6 28.8 87.9C29.4 92.2 29.6 98.2 27.8 101.9C25.9 105.6 21.1 109.3 17.8 109.9C14.4 110.6 11.1 107.6 7.7 105.9C4.4 104.3 -0.6 105.9 -2.3 99.9C-4.0 93.9 -4.6 75.0 -2.3 69.9Z"/><path d="M77.9 52.8C79.2 52.8 80.2 54.0 79.9 57.8C79.5 61.7 76.9 70.2 75.9 75.9C74.9 81.5 74.5 88.4 73.9 91.9C73.2 95.4 73.9 94.2 71.9 96.9C69.9 99.6 65.2 104.1 61.8 107.9C58.5 111.8 54.5 118.0 51.8 120.0C49.1 122.0 46.3 122.3 45.8 120.0C45.3 117.6 47.5 111.6 48.8 105.9C50.2 100.3 51.7 91.6 53.8 85.9C56.0 80.2 58.8 76.5 61.8 71.9C64.8 67.2 69.2 61.0 71.9 57.8C74.5 54.7 76.5 52.8 77.9 52.8Z"/><path d="M74.9 95.9C75.9 94.6 81.7 92.9 85.9 92.9C90.1 92.9 95.6 94.1 99.9 95.9C104.3 97.7 108.3 100.6 111.9 103.9C115.6 107.3 119.0 112.4 122.0 115.9C125.0 119.5 129.0 122.6 130.0 125.0C131.0 127.3 130.3 129.6 128.0 130.0C125.6 130.3 120.6 128.6 115.9 127.0C111.3 125.3 104.6 122.8 99.9 120.0C95.2 117.1 91.2 113.1 87.9 109.9C84.6 106.8 82.0 103.3 79.9 100.9C77.7 98.6 73.9 97.2 74.9 95.9Z"/><path d="M159.0 67.9C159.7 67.2 163.2 73.9 166.0 77.9C168.9 81.9 171.9 87.9 176.1 91.9C180.2 95.9 188.6 95.9 191.1 101.9C193.6 107.9 194.3 123.0 191.1 128.0C187.9 133.0 178.2 130.5 172.1 132.0C165.9 133.5 156.7 138.7 154.0 137.0C151.4 135.3 154.9 128.1 156.0 122.0C157.2 115.8 160.0 106.6 161.0 99.9C162.0 93.2 162.4 87.2 162.0 81.9C161.7 76.5 158.4 68.5 159.0 67.9Z"/></g></defs>
<use href="#cg1" fill="#939393" stroke="none" filter="url(#fTex1)"/>
<use href="#cg1" fill="none" stroke="#d2d2d2" stroke-width="2.2" opacity="0.85" transform="translate(1.1,1.0)" filter="url(#fRough)"/>
<use href="#cg1" fill="none" stroke="#484848" stroke-width="1.1" opacity="0.9" transform="translate(-0.2,-0.2)" filter="url(#fRough)"/>
<ellipse cx="15.7" cy="35.8" rx="10.0" ry="7.0" fill="#c0c0c0" opacity="0.28" filter="url(#fBl)"/>
<ellipse cx="11.7" cy="89.9" rx="9.0" ry="10.0" fill="#c0c0c0" opacity="0.28" filter="url(#fBl)"/>
<ellipse cx="62.8" cy="87.9" rx="6.0" ry="12.0" fill="#c0c0c0" opacity="0.28" filter="url(#fBl)"/>
<ellipse cx="103.9" cy="109.9" rx="10.0" ry="7.0" fill="#c0c0c0" opacity="0.28" filter="url(#fBl)"/>
<ellipse cx="174.1" cy="113.9" rx="9.0" ry="12.0" fill="#c0c0c0" opacity="0.28" filter="url(#fBl)"/>
<circle cx="91.3" cy="30.8" r="3.2" fill="#808080" opacity="0.8" filter="url(#fBl)"/>
</svg>
<rect x="1172.8" y="223.3" width="189.9" height="169.9" fill="#000"/>
<path d="M1262.2 317.1L1361.9 358.0L1273.2 393.20000000000005L1172.8 352.4Z" fill="url(#pBlue)"/>
<path d="M1262.2 223.3V317.1M1172.8 352.4L1262.2 317.1L1361.9 358.0" fill="none" stroke="#b8101e" stroke-width="0.9"/>
<svg x="978.3" y="397.6" width="189.4" height="169.9" viewBox="0 0 189.4 169.9">
<g filter="url(#fGrain)"><rect x="-5" y="-5" width="199.4" height="179.9" fill="#636363"/>
<ellipse cx="150" cy="40" rx="80" ry="50" fill="#808080" opacity="0.7" transform="rotate(0 150 40)" filter="url(#fBlob)"/>
<ellipse cx="30" cy="130" rx="60" ry="60" fill="#585858" opacity="0.6" transform="rotate(0 30 130)" filter="url(#fBlob)"/>
<ellipse cx="110" cy="150" rx="60" ry="30" fill="#5c5c5c" opacity="0.5" transform="rotate(0 110 150)" filter="url(#fBlob)"/>
<ellipse cx="170" cy="90" rx="30" ry="50" fill="#7a7a7a" opacity="0.5" transform="rotate(0 170 90)" filter="url(#fBlob)"/>
</g>
<circle cx="89.5" cy="40.1" r="0.5" fill="#666" opacity="0.55" filter="url(#fBl2)"/>
<circle cx="27.5" cy="55.0" r="0.6" fill="#666" opacity="0.55" filter="url(#fBl2)"/>
<circle cx="38.5" cy="8.8" r="0.9" fill="#666" opacity="0.55" filter="url(#fBl2)"/>
<circle cx="72.7" cy="103.3" r="1.0" fill="#666" opacity="0.55" filter="url(#fBl2)"/>
<circle cx="46.6" cy="151.0" r="0.5" fill="#666" opacity="0.55" filter="url(#fBl2)"/>
<circle cx="77.3" cy="48.7" r="0.8" fill="#666" opacity="0.55" filter="url(#fBl2)"/>
<circle cx="24.1" cy="139.3" r="0.8" fill="#666" opacity="0.55" filter="url(#fBl2)"/>
<circle cx="9.6" cy="103.6" r="0.6" fill="#666" opacity="0.55" filter="url(#fBl2)"/>
<defs><g id="cg2"><path d="M-2.3 -1.6C2.4 -11.3 22.1 -4.6 25.8 -1.6C29.4 1.4 21.4 9.8 19.8 16.4C18.1 23.1 17.8 32.5 15.7 38.5C13.7 44.5 10.7 49.5 7.7 52.5C4.7 55.5 -0.6 65.5 -2.3 56.5C-4.0 47.5 -7.0 8.1 -2.3 -1.6Z"/><path d="M29.8 18.5C31.8 15.1 37.1 14.8 41.8 12.4C46.5 10.1 53.5 4.4 57.8 4.4C62.2 4.4 66.0 9.1 67.9 12.4C69.7 15.8 69.9 20.8 68.9 24.5C67.9 28.1 65.0 31.5 61.8 34.5C58.7 37.5 53.5 39.2 49.8 42.5C46.1 45.8 42.1 50.9 39.8 54.5C37.5 58.2 38.5 63.5 35.8 64.5C33.1 65.5 25.4 63.5 23.8 60.5C22.1 57.5 24.8 51.2 25.8 46.5C26.8 41.8 29.1 37.2 29.8 32.5C30.4 27.8 27.8 21.8 29.8 18.5Z"/><path d="M65.8 33.5C68.9 32.3 74.2 34.3 79.9 35.5C85.6 36.7 93.2 39.3 99.9 40.5C106.6 41.7 114.3 43.0 120.0 42.5C125.6 42.0 131.3 37.8 134.0 37.5C136.7 37.2 136.7 38.3 136.0 40.5C135.3 42.7 131.6 47.8 130.0 50.5C128.3 53.2 129.6 55.7 126.0 56.5C122.3 57.4 114.3 55.0 107.9 55.5C101.6 56.0 93.6 58.5 87.9 59.5C82.2 60.5 78.5 62.4 73.9 61.5C69.2 60.7 61.8 57.7 59.8 54.5C57.8 51.4 60.8 46.0 61.8 42.5C62.8 39.0 62.8 34.7 65.8 33.5Z"/><path d="M45.8 66.5C47.1 65.2 51.5 69.6 55.8 70.6C60.2 71.6 66.9 70.9 71.9 72.6C76.9 74.2 82.5 76.9 85.9 80.6C89.2 84.3 89.9 91.3 91.9 94.6C93.9 97.9 97.9 97.9 97.9 100.6C97.9 103.3 94.9 109.6 91.9 110.6C88.9 111.6 83.9 108.3 79.9 106.6C75.9 105.0 71.9 103.0 67.9 100.6C63.8 98.3 59.2 96.3 55.8 92.6C52.5 88.9 49.5 82.9 47.8 78.6C46.1 74.2 44.5 67.9 45.8 66.5Z"/><path d="M51.8 104.6C56.2 102.0 63.2 103.6 67.9 104.6C72.5 105.6 78.5 107.6 79.9 110.6C81.2 113.6 77.9 118.3 75.9 122.7C73.9 127.0 70.2 132.5 67.9 136.7C65.5 140.9 65.2 147.0 61.8 147.7C58.5 148.4 51.8 143.2 47.8 140.7C43.8 138.2 38.8 136.0 37.8 132.7C36.8 129.3 39.5 125.3 41.8 120.7C44.1 116.0 47.5 107.3 51.8 104.6Z"/><path d="M120.0 68.6C123.6 65.9 131.3 63.9 136.0 64.5C140.7 65.2 144.0 70.2 148.0 72.6C152.0 74.9 157.7 75.9 160.0 78.6C162.4 81.2 162.7 84.9 162.0 88.6C161.4 92.3 159.0 97.6 156.0 100.6C153.0 103.6 148.0 105.3 144.0 106.6C140.0 108.0 136.0 109.0 132.0 108.6C128.0 108.3 123.5 106.6 120.0 104.6C116.4 102.6 111.9 100.6 110.9 96.6C109.9 92.6 112.4 85.3 113.9 80.6C115.4 75.9 116.3 71.2 120.0 68.6Z"/><path d="M136.0 120.7C140.3 118.2 146.0 117.7 152.0 117.7C158.0 117.7 165.5 120.8 172.1 120.7C178.6 120.5 187.9 115.0 191.1 116.6C194.3 118.3 194.3 126.7 191.1 130.7C187.9 134.7 178.6 138.4 172.1 140.7C165.5 143.0 158.7 144.4 152.0 144.7C145.3 145.0 137.7 142.7 132.0 142.7C126.3 142.7 119.0 146.4 118.0 144.7C117.0 143.0 123.0 136.7 126.0 132.7C129.0 128.7 131.6 123.2 136.0 120.7Z"/><path d="M85.9 170.8C85.2 168.4 96.2 160.1 99.9 156.7C103.6 153.4 106.9 149.7 107.9 150.7C108.9 151.7 106.6 159.4 105.9 162.7C105.3 166.1 107.3 169.4 103.9 170.8C100.6 172.1 86.6 173.1 85.9 170.8Z"/></g></defs>
<use href="#cg2" fill="#6a6a6a" stroke="none" filter="url(#fTex2)"/>
<use href="#cg2" fill="none" stroke="#8a8a8a" stroke-width="2.2" opacity="0.35" transform="translate(1.1,1.0)" filter="url(#fRough)"/>
<use href="#cg2" fill="none" stroke="#484848" stroke-width="1.1" opacity="0.9" transform="translate(-0.2,-0.2)" filter="url(#fRough)"/>
<ellipse cx="51.8" cy="24.5" rx="8.0" ry="7.0" fill="#c0c0c0" opacity="0.28" filter="url(#fBl)"/>
<ellipse cx="81.9" cy="48.5" rx="8.0" ry="6.0" fill="#c0c0c0" opacity="0.28" filter="url(#fBl)"/>
<ellipse cx="71.9" cy="86.6" rx="12.0" ry="9.0" fill="#c0c0c0" opacity="0.28" filter="url(#fBl)"/>
<ellipse cx="60.8" cy="120.7" rx="10.0" ry="8.0" fill="#c0c0c0" opacity="0.28" filter="url(#fBl)"/>
<ellipse cx="140.0" cy="90.6" rx="10.0" ry="9.0" fill="#c0c0c0" opacity="0.28" filter="url(#fBl)"/>
<ellipse cx="150.0" cy="128.7" rx="11.0" ry="6.0" fill="#c0c0c0" opacity="0.28" filter="url(#fBl)"/>
<circle cx="79.9" cy="49.5" r="2.4" fill="#a8a8a8" opacity="0.55" filter="url(#fBl2)"/>
<circle cx="77.9" cy="85.6" r="2.8" fill="#a8a8a8" opacity="0.55" filter="url(#fBl2)"/>
<circle cx="144.0" cy="88.6" r="2.8" fill="#a8a8a8" opacity="0.55" filter="url(#fBl2)"/>
<circle cx="146.0" cy="127.7" r="2.4" fill="#a8a8a8" opacity="0.55" filter="url(#fBl2)"/>
<circle cx="63.8" cy="119.7" r="2.4" fill="#a8a8a8" opacity="0.55" filter="url(#fBl2)"/>
<circle cx="91.3" cy="29.5" r="3.2" fill="#444" opacity="0.8" filter="url(#fBl)"/>
<path d="M70.9 74.2C72.4 74.7 77.2 75.8 79.9 77.6C82.5 79.3 85.1 81.7 86.9 84.6C88.7 87.4 90.2 92.9 90.9 94.6" fill="none" stroke="#ff2020" stroke-width="3.2" stroke-linecap="round" opacity="1.0" filter="url(#fBl2)"/>
<path d="M55.8 86.6C56.8 87.9 59.2 92.3 61.8 94.6C64.5 96.9 70.2 99.6 71.9 100.6" fill="none" stroke="#ff2020" stroke-width="1.4" stroke-linecap="round" opacity="0.9" filter="url(#fBl2)"/>
<path d="M67.1 14.4C67.3 15.3 68.3 17.8 68.3 19.5C68.2 21.1 66.9 23.6 66.6 24.5" fill="none" stroke="#ff2020" stroke-width="1.8" stroke-linecap="round" opacity="0.9" filter="url(#fBl2)"/>
<path d="M66.2 34.5C66.1 35.8 66.0 39.8 65.4 42.5C64.9 45.2 63.3 49.2 62.8 50.5" fill="none" stroke="#ff2020" stroke-width="1.8" stroke-linecap="round" opacity="0.8" filter="url(#fBl2)"/>
<path d="M104.9 56.1C105.8 55.9 108.4 55.1 109.9 54.9C111.5 54.7 113.6 54.9 114.3 54.9" fill="none" stroke="#ff2020" stroke-width="1.6" stroke-linecap="round" opacity="0.8" filter="url(#fBl2)"/>
<path d="M130.0 101.6C130.3 102.5 131.1 105.1 132.0 106.6C132.8 108.1 134.5 110.0 135.0 110.6" fill="none" stroke="#ff2020" stroke-width="2.4" stroke-linecap="round" opacity="0.8" filter="url(#fBl2)"/>
<path d="M152.0 100.6C152.9 99.6 155.9 96.6 157.0 94.6C158.2 92.6 158.7 89.6 159.0 88.6" fill="none" stroke="#ff2020" stroke-width="1.6" stroke-linecap="round" opacity="0.8" filter="url(#fBl2)"/>
<path d="M65.8 131.7C66.5 131.2 69.2 129.2 69.9 128.7" fill="none" stroke="#ff2020" stroke-width="1.6" stroke-linecap="round" opacity="0.8" filter="url(#fBl2)"/>
<circle cx="74.9" cy="61.5" r="1.0" fill="#ff2a2a" opacity="0.85" filter="url(#fBl2)"/>
<circle cx="179.1" cy="113.6" r="1.2" fill="#ff2a2a" opacity="0.85" filter="url(#fBl2)"/>
<circle cx="99.9" cy="158.7" r="1.4" fill="#ff2a2a" opacity="0.85" filter="url(#fBl2)"/>
<circle cx="132.0" cy="88.6" r="1.8" fill="#ff2a2a" opacity="0.85" filter="url(#fBl2)"/>
<circle cx="136.0" cy="86.6" r="1.2" fill="#ff2a2a" opacity="0.85" filter="url(#fBl2)"/>
<circle cx="142.0" cy="115.0" r="1.4" fill="#ff2a2a" opacity="0.85" filter="url(#fBl2)"/>
<circle cx="130.0" cy="104.6" r="1.2" fill="#ff2a2a" opacity="0.85" filter="url(#fBl2)"/>
<circle cx="158.0" cy="88.6" r="1.0" fill="#ff2a2a" opacity="0.85" filter="url(#fBl2)"/>
<circle cx="57.8" cy="6.4" r="0.8" fill="#ff2a2a" opacity="0.85" filter="url(#fBl2)"/>
<circle cx="120.0" cy="45.5" r="0.8" fill="#ff2a2a" opacity="0.85" filter="url(#fBl2)"/>
<circle cx="91.9" cy="45.5" r="0.6" fill="#ff2a2a" opacity="0.85" filter="url(#fBl2)"/>
<circle cx="40.8" cy="35.5" r="0.6" fill="#ff2a2a" opacity="0.85" filter="url(#fBl2)"/>
<circle cx="47.8" cy="129.7" r="0.6" fill="#ff2a2a" opacity="0.85" filter="url(#fBl2)"/>
<circle cx="136.0" cy="123.7" r="0.8" fill="#ff2a2a" opacity="0.85" filter="url(#fBl2)"/>
<circle cx="164.0" cy="113.6" r="0.6" fill="#ff2a2a" opacity="0.85" filter="url(#fBl2)"/>
<circle cx="0.7" cy="50.5" r="0.8" fill="#ff2a2a" opacity="0.85" filter="url(#fBl2)"/>
</svg>
<rect x="1172.8" y="397.6" width="189.9" height="169.9" fill="#000"/>
<path d="M1262.2 491.40000000000003L1361.9 532.3L1273.2 567.5L1172.8 526.7Z" fill="url(#pBlue)"/>
<defs><linearGradient id="pk0" x1="0" y1="1" x2="0" y2="0"><stop offset="0.00" stop-color="#1b54a0"/><stop offset="0.54" stop-color="#1896aa"/><stop offset="1.00" stop-color="#24bb5f"/></linearGradient><linearGradient id="pk1" x1="0" y1="1" x2="0" y2="0"><stop offset="0.00" stop-color="#1b54a0"/><stop offset="0.88" stop-color="#1896aa"/><stop offset="1.00" stop-color="#1a9c9d"/></linearGradient><linearGradient id="pk2" x1="0" y1="1" x2="0" y2="0"><stop offset="0.00" stop-color="#1b54a0"/><stop offset="0.37" stop-color="#1896aa"/><stop offset="0.79" stop-color="#28c846"/><stop offset="1.00" stop-color="#7ad334"/></linearGradient><linearGradient id="pk3" x1="0" y1="1" x2="0" y2="0"><stop offset="0.00" stop-color="#1b54a0"/><stop offset="0.78" stop-color="#1896aa"/><stop offset="1.00" stop-color="#1ca291"/></linearGradient><linearGradient id="pk4" x1="0" y1="1" x2="0" y2="0"><stop offset="0.00" stop-color="#1b54a0"/><stop offset="1.00" stop-color="#1896aa"/></linearGradient><linearGradient id="pk5" x1="0" y1="1" x2="0" y2="0"><stop offset="0.00" stop-color="#1b54a0"/><stop offset="0.19" stop-color="#1896aa"/><stop offset="0.41" stop-color="#28c846"/><stop offset="0.65" stop-color="#e1e11e"/><stop offset="0.86" stop-color="#ff8200"/><stop offset="1.00" stop-color="#ff300b"/></linearGradient><linearGradient id="pk6" x1="0" y1="1" x2="0" y2="0"><stop offset="0.00" stop-color="#1b54a0"/><stop offset="0.29" stop-color="#1896aa"/><stop offset="0.62" stop-color="#28c846"/><stop offset="1.00" stop-color="#e1e11e"/></linearGradient><linearGradient id="pk7" x1="0" y1="1" x2="0" y2="0"><stop offset="0.00" stop-color="#1b54a0"/><stop offset="0.54" stop-color="#1896aa"/><stop offset="1.00" stop-color="#24bb5f"/></linearGradient><linearGradient id="pk8" x1="0" y1="1" x2="0" y2="0"><stop offset="0.00" stop-color="#1b54a0"/><stop offset="0.44" stop-color="#1896aa"/><stop offset="0.94" stop-color="#28c846"/><stop offset="1.00" stop-color="#3cca41"/></linearGradient><linearGradient id="pk9" x1="0" y1="1" x2="0" y2="0"><stop offset="0.00" stop-color="#1b54a0"/><stop offset="0.58" stop-color="#1896aa"/><stop offset="1.00" stop-color="#22b56b"/></linearGradient><linearGradient id="pk10" x1="0" y1="1" x2="0" y2="0"><stop offset="0.00" stop-color="#1b54a0"/><stop offset="0.58" stop-color="#1896aa"/><stop offset="1.00" stop-color="#22b56b"/></linearGradient><linearGradient id="pk11" x1="0" y1="1" x2="0" y2="0"><stop offset="0.00" stop-color="#1b54a0"/><stop offset="0.70" stop-color="#1896aa"/><stop offset="1.00" stop-color="#1ea884"/></linearGradient><linearGradient id="pk12" x1="0" y1="1" x2="0" y2="0"><stop offset="0.00" stop-color="#1b54a0"/><stop offset="0.70" stop-color="#1896aa"/><stop offset="1.00" stop-color="#1ea884"/></linearGradient><linearGradient id="pk13" x1="0" y1="1" x2="0" y2="0"><stop offset="0.00" stop-color="#1b54a0"/><stop offset="0.54" stop-color="#1896aa"/><stop offset="1.00" stop-color="#24bb5f"/></linearGradient><linearGradient id="pk14" x1="0" y1="1" x2="0" y2="0"><stop offset="0.00" stop-color="#1b54a0"/><stop offset="0.70" stop-color="#1896aa"/><stop offset="1.00" stop-color="#1ea884"/></linearGradient><linearGradient id="pk15" x1="0" y1="1" x2="0" y2="0"><stop offset="0.00" stop-color="#1b54a0"/><stop offset="0.21" stop-color="#1896aa"/><stop offset="0.45" stop-color="#28c846"/><stop offset="0.73" stop-color="#e1e11e"/><stop offset="0.97" stop-color="#ff8200"/><stop offset="1.00" stop-color="#ff7102"/></linearGradient><linearGradient id="pk16" x1="0" y1="1" x2="0" y2="0"><stop offset="0.00" stop-color="#1b54a0"/><stop offset="0.50" stop-color="#1896aa"/><stop offset="1.00" stop-color="#26c152"/></linearGradient><linearGradient id="pk17" x1="0" y1="1" x2="0" y2="0"><stop offset="0.00" stop-color="#1b54a0"/><stop offset="0.58" stop-color="#1896aa"/><stop offset="1.00" stop-color="#22b56b"/></linearGradient><linearGradient id="pk18" x1="0" y1="1" x2="0" y2="0"><stop offset="0.00" stop-color="#1b54a0"/><stop offset="0.39" stop-color="#1896aa"/><stop offset="0.83" stop-color="#28c846"/><stop offset="1.00" stop-color="#65d038"/></linearGradient><linearGradient id="pk19" x1="0" y1="1" x2="0" y2="0"><stop offset="0.00" stop-color="#1b54a0"/><stop offset="0.32" stop-color="#1896aa"/><stop offset="0.68" stop-color="#28c846"/><stop offset="1.00" stop-color="#b7db26"/></linearGradient><linearGradient id="pk20" x1="0" y1="1" x2="0" y2="0"><stop offset="0.00" stop-color="#1b54a0"/><stop offset="0.22" stop-color="#1896aa"/><stop offset="0.47" stop-color="#28c846"/><stop offset="0.75" stop-color="#e1e11e"/><stop offset="1.00" stop-color="#ff8200"/></linearGradient><linearGradient id="pk21" x1="0" y1="1" x2="0" y2="0"><stop offset="0.00" stop-color="#1b54a0"/><stop offset="0.33" stop-color="#1896aa"/><stop offset="0.71" stop-color="#28c846"/><stop offset="1.00" stop-color="#a3d82b"/></linearGradient><linearGradient id="pk22" x1="0" y1="1" x2="0" y2="0"><stop offset="0.00" stop-color="#1b54a0"/><stop offset="0.58" stop-color="#1896aa"/><stop offset="1.00" stop-color="#22b56b"/></linearGradient><linearGradient id="pk23" x1="0" y1="1" x2="0" y2="0"><stop offset="0.00" stop-color="#1b54a0"/><stop offset="0.44" stop-color="#1896aa"/><stop offset="0.94" stop-color="#28c846"/><stop offset="1.00" stop-color="#3cca41"/></linearGradient><linearGradient id="pk24" x1="0" y1="1" x2="0" y2="0"><stop offset="0.00" stop-color="#1b54a0"/><stop offset="0.17" stop-color="#1896aa"/><stop offset="0.38" stop-color="#28c846"/><stop offset="0.60" stop-color="#e1e11e"/><stop offset="0.80" stop-color="#ff8200"/><stop offset="0.97" stop-color="#ff1010"/><stop offset="1.00" stop-color="#ff1010"/></linearGradient><linearGradient id="pk25" x1="0" y1="1" x2="0" y2="0"><stop offset="0.00" stop-color="#1b54a0"/><stop offset="0.58" stop-color="#1896aa"/><stop offset="1.00" stop-color="#22b56b"/></linearGradient><linearGradient id="pk26" x1="0" y1="1" x2="0" y2="0"><stop offset="0.00" stop-color="#1b54a0"/><stop offset="0.70" stop-color="#1896aa"/><stop offset="1.00" stop-color="#1ea884"/></linearGradient><linearGradient id="pk27" x1="0" y1="1" x2="0" y2="0"><stop offset="0.00" stop-color="#1b54a0"/><stop offset="0.58" stop-color="#1896aa"/><stop offset="1.00" stop-color="#22b56b"/></linearGradient><linearGradient id="pk28" x1="0" y1="1" x2="0" y2="0"><stop offset="0.00" stop-color="#1b54a0"/><stop offset="0.88" stop-color="#1896aa"/><stop offset="1.00" stop-color="#1a9c9d"/></linearGradient><linearGradient id="pk29" x1="0" y1="1" x2="0" y2="0"><stop offset="0.00" stop-color="#1b54a0"/><stop offset="0.88" stop-color="#1896aa"/><stop offset="1.00" stop-color="#1a9c9d"/></linearGradient><linearGradient id="pk30" x1="0" y1="1" x2="0" y2="0"><stop offset="0.00" stop-color="#1b54a0"/><stop offset="0.47" stop-color="#1896aa"/><stop offset="1.00" stop-color="#28c846"/></linearGradient><linearGradient id="pk31" x1="0" y1="1" x2="0" y2="0"><stop offset="0.00" stop-color="#1b54a0"/><stop offset="0.58" stop-color="#1896aa"/><stop offset="1.00" stop-color="#22b56b"/></linearGradient><linearGradient id="pk32" x1="0" y1="1" x2="0" y2="0"><stop offset="0.00" stop-color="#1b54a0"/><stop offset="0.32" stop-color="#1896aa"/><stop offset="0.68" stop-color="#28c846"/><stop offset="1.00" stop-color="#b7db26"/></linearGradient><linearGradient id="pk33" x1="0" y1="1" x2="0" y2="0"><stop offset="0.00" stop-color="#1b54a0"/><stop offset="0.58" stop-color="#1896aa"/><stop offset="1.00" stop-color="#22b56b"/></linearGradient><linearGradient id="pk34" x1="0" y1="1" x2="0" y2="0"><stop offset="0.00" stop-color="#1b54a0"/><stop offset="0.88" stop-color="#1896aa"/><stop offset="1.00" stop-color="#1a9c9d"/></linearGradient><linearGradient id="pk35" x1="0" y1="1" x2="0" y2="0"><stop offset="0.00" stop-color="#1b54a0"/><stop offset="0.58" stop-color="#1896aa"/><stop offset="1.00" stop-color="#22b56b"/></linearGradient><linearGradient id="pk36" x1="0" y1="1" x2="0" y2="0"><stop offset="0.00" stop-color="#1b54a0"/><stop offset="0.39" stop-color="#1896aa"/><stop offset="0.83" stop-color="#28c846"/><stop offset="1.00" stop-color="#65d038"/></linearGradient><linearGradient id="pk37" x1="0" y1="1" x2="0" y2="0"><stop offset="0.00" stop-color="#1b54a0"/><stop offset="0.58" stop-color="#1896aa"/><stop offset="1.00" stop-color="#22b56b"/></linearGradient><linearGradient id="pk38" x1="0" y1="1" x2="0" y2="0"><stop offset="0.00" stop-color="#1b54a0"/><stop offset="0.23" stop-color="#1896aa"/><stop offset="0.50" stop-color="#28c846"/><stop offset="0.80" stop-color="#e1e11e"/><stop offset="1.00" stop-color="#f79907"/></linearGradient><linearGradient id="pk39" x1="0" y1="1" x2="0" y2="0"><stop offset="0.00" stop-color="#1b54a0"/><stop offset="0.44" stop-color="#1896aa"/><stop offset="0.94" stop-color="#28c846"/><stop offset="1.00" stop-color="#3cca41"/></linearGradient><linearGradient id="pk40" x1="0" y1="1" x2="0" y2="0"><stop offset="0.00" stop-color="#1b54a0"/><stop offset="0.70" stop-color="#1896aa"/><stop offset="1.00" stop-color="#1ea884"/></linearGradient><linearGradient id="pk41" x1="0" y1="1" x2="0" y2="0"><stop offset="0.00" stop-color="#1b54a0"/><stop offset="1.00" stop-color="#188ca8"/></linearGradient></defs><g filter="url(#fBl3)"><path d="M1240.5 497.6Q1241.1 494.4 1241.1 488.3L1241.5 488.3Q1241.6 494.4 1242.2 497.6Z" fill="url(#pk0)"/><path d="M1236.6 499.1Q1237.4 497.1 1237.5 493.3L1238.0 493.3Q1238.0 497.1 1238.9 499.1Z" fill="url(#pk1)"/><path d="M1287.5 500.5Q1288.5 495.7 1288.6 486.8L1289.2 486.8Q1289.3 495.7 1290.3 500.5Z" fill="url(#pk2)"/><path d="M1282.4 500.5Q1283.5 498.3 1283.5 494.0L1284.2 494.0Q1284.2 498.3 1285.3 500.5Z" fill="url(#pk3)"/><path d="M1232.3 500.5Q1233.1 498.8 1233.2 495.5L1233.7 495.5Q1233.7 498.8 1234.6 500.5Z" fill="url(#pk4)"/><path d="M1290.0 502.0Q1291.3 492.6 1291.4 475.3L1292.2 475.3Q1292.2 492.6 1293.5 502.0Z" fill="url(#pk5)"/><path d="M1274.2 503.4Q1275.5 497.4 1275.5 486.1L1276.3 486.1Q1276.4 497.4 1277.7 503.4Z" fill="url(#pk6)"/><path d="M1269.9 503.4Q1271.2 500.1 1271.2 494.0L1272.0 494.0Q1272.0 500.1 1273.3 503.4Z" fill="url(#pk7)"/><path d="M1275.6 509.2Q1276.9 505.1 1277.0 497.6L1277.7 497.6Q1277.8 505.1 1279.1 509.2Z" fill="url(#pk8)"/><path d="M1266.3 512.1Q1267.6 509.0 1267.6 503.4L1268.4 503.4Q1268.4 509.0 1269.7 512.1Z" fill="url(#pk9)"/><path d="M1285.3 512.1Q1286.4 509.0 1286.4 503.4L1287.0 503.4Q1287.1 509.0 1288.2 512.1Z" fill="url(#pk10)"/><path d="M1249.3 512.1Q1250.3 509.5 1250.4 504.9L1251.0 504.9Q1251.1 509.5 1252.1 512.1Z" fill="url(#pk11)"/><path d="M1279.5 514.9Q1280.6 512.4 1280.6 507.7L1281.3 507.7Q1281.3 512.4 1282.4 514.9Z" fill="url(#pk12)"/><path d="M1254.7 514.9Q1256.0 511.7 1256.1 505.6L1256.8 505.6Q1256.9 511.7 1258.2 514.9Z" fill="url(#pk13)"/><path d="M1290.8 514.9Q1292.1 512.4 1292.1 507.7L1292.9 507.7Q1292.9 512.4 1294.2 514.9Z" fill="url(#pk14)"/><path d="M1247.8 520.7Q1248.9 512.4 1248.9 496.9L1249.6 496.9Q1249.6 512.4 1250.7 520.7Z" fill="url(#pk15)"/><path d="M1297.5 520.7Q1298.6 517.2 1298.7 510.6L1299.3 510.6Q1299.3 517.2 1300.4 520.7Z" fill="url(#pk16)"/><path d="M1287.2 520.7Q1288.5 517.7 1288.5 512.1L1289.3 512.1Q1289.3 517.7 1290.6 520.7Z" fill="url(#pk17)"/><path d="M1256.8 520.7Q1258.7 516.2 1258.8 507.7L1259.9 507.7Q1260.0 516.2 1261.9 520.7Z" fill="url(#pk18)"/><path d="M1262.5 520.7Q1264.5 515.2 1264.5 504.9L1265.7 504.9Q1265.8 515.2 1267.7 520.7Z" fill="url(#pk19)"/><path d="M1241.9 523.6Q1243.6 515.5 1243.7 500.5L1244.7 500.5Q1244.8 515.5 1246.5 523.6Z" fill="url(#pk20)"/><path d="M1245.8 523.6Q1247.3 518.3 1247.4 508.5L1248.3 508.5Q1248.3 518.3 1249.8 523.6Z" fill="url(#pk21)"/><path d="M1299.7 523.6Q1300.8 520.6 1300.8 514.9L1301.5 514.9Q1301.5 520.6 1302.6 523.6Z" fill="url(#pk22)"/><path d="M1267.4 523.6Q1268.9 519.6 1269.0 512.1L1269.9 512.1Q1269.9 519.6 1271.5 523.6Z" fill="url(#pk23)"/><path d="M1257.6 525.0Q1261.1 514.9 1261.2 496.2L1263.2 496.2Q1263.4 514.9 1266.8 525.0Z" fill="url(#pk24)"/><path d="M1215.4 526.5Q1216.5 523.4 1216.5 517.8L1217.2 517.8Q1217.2 523.4 1218.3 526.5Z" fill="url(#pk25)"/><path d="M1222.6 526.5Q1223.7 523.9 1223.7 519.3L1224.4 519.3Q1224.4 523.9 1225.5 526.5Z" fill="url(#pk26)"/><path d="M1277.8 526.5Q1279.1 523.4 1279.1 517.8L1279.9 517.8Q1280.0 523.4 1281.3 526.5Z" fill="url(#pk27)"/><path d="M1283.6 526.5Q1284.9 524.5 1284.9 520.7L1285.7 520.7Q1285.7 524.5 1287.0 526.5Z" fill="url(#pk28)"/><path d="M1292.5 526.5Q1293.6 524.5 1293.6 520.7L1294.3 520.7Q1294.3 524.5 1295.4 526.5Z" fill="url(#pk29)"/><path d="M1226.6 529.4Q1227.9 525.6 1228.0 518.5L1228.7 518.5Q1228.8 525.6 1230.1 529.4Z" fill="url(#pk30)"/><path d="M1269.1 529.4Q1270.4 526.3 1270.5 520.7L1271.3 520.7Q1271.3 526.3 1272.6 529.4Z" fill="url(#pk31)"/><path d="M1288.3 532.2Q1289.8 526.7 1289.9 516.4L1290.8 516.4Q1290.8 526.7 1292.4 532.2Z" fill="url(#pk32)"/><path d="M1262.4 532.2Q1263.9 529.2 1264.0 523.6L1264.8 523.6Q1264.9 529.2 1266.4 532.2Z" fill="url(#pk33)"/><path d="M1253.3 532.2Q1254.6 530.2 1254.6 526.5L1255.4 526.5Q1255.5 530.2 1256.8 532.2Z" fill="url(#pk34)"/><path d="M1227.4 538.0Q1228.7 535.0 1228.7 529.4L1229.5 529.4Q1229.5 535.0 1230.8 538.0Z" fill="url(#pk35)"/><path d="M1295.5 538.0Q1297.0 533.5 1297.1 525.0L1298.0 525.0Q1298.0 533.5 1299.6 538.0Z" fill="url(#pk36)"/><path d="M1280.4 538.0Q1281.9 535.0 1282.0 529.4L1282.9 529.4Q1282.9 535.0 1284.4 538.0Z" fill="url(#pk37)"/><path d="M1270.7 539.4Q1272.5 531.9 1272.5 517.8L1273.5 517.8Q1273.6 531.9 1275.3 539.4Z" fill="url(#pk38)"/><path d="M1274.6 540.9Q1276.1 536.8 1276.2 529.4L1277.1 529.4Q1277.1 536.8 1278.7 540.9Z" fill="url(#pk39)"/><path d="M1293.2 546.6Q1294.3 544.1 1294.3 539.4L1295.0 539.4Q1295.0 544.1 1296.1 546.6Z" fill="url(#pk40)"/><path d="M1260.8 546.6Q1261.9 545.1 1261.9 542.3L1262.5 542.3Q1262.6 545.1 1263.7 546.6Z" fill="url(#pk41)"/></g>
<path d="M1262.2 397.6V491.40000000000003M1172.8 526.7L1262.2 491.40000000000003L1361.9 532.3" fill="none" stroke="#b8101e" stroke-width="0.9"/>
<svg x="978.3" y="572.0" width="189.4" height="169.9" viewBox="0 0 189.4 169.9">
<g filter="url(#fGrain)"><rect x="-5" y="-5" width="199.4" height="179.9" fill="#a5a5a5"/>
<ellipse cx="40" cy="50" rx="60" ry="50" fill="#b4b4b4" opacity="0.6" transform="rotate(0 40 50)" filter="url(#fBlob)"/>
<ellipse cx="120" cy="90" rx="50" ry="30" fill="#b6b6b6" opacity="0.5" transform="rotate(0 120 90)" filter="url(#fBlob)"/>
<ellipse cx="150" cy="140" rx="50" ry="30" fill="#b8b8b8" opacity="0.5" transform="rotate(0 150 140)" filter="url(#fBlob)"/>
<ellipse cx="20" cy="150" rx="40" ry="30" fill="#a0a0a0" opacity="0.5" transform="rotate(0 20 150)" filter="url(#fBlob)"/>
</g>
<circle cx="103.0" cy="58.6" r="1.0" fill="#666" opacity="0.55" filter="url(#fBl2)"/>
<circle cx="178.8" cy="137.2" r="0.8" fill="#666" opacity="0.55" filter="url(#fBl2)"/>
<circle cx="152.1" cy="108.3" r="0.8" fill="#666" opacity="0.55" filter="url(#fBl2)"/>
<circle cx="29.1" cy="100.7" r="1.0" fill="#666" opacity="0.55" filter="url(#fBl2)"/>
<circle cx="178.6" cy="161.7" r="1.0" fill="#666" opacity="0.55" filter="url(#fBl2)"/>
<circle cx="67.4" cy="149.4" r="0.5" fill="#666" opacity="0.55" filter="url(#fBl2)"/>
<circle cx="22.8" cy="95.7" r="1.0" fill="#666" opacity="0.55" filter="url(#fBl2)"/>
<circle cx="28.8" cy="106.2" r="1.2" fill="#666" opacity="0.55" filter="url(#fBl2)"/>
<circle cx="71.9" cy="73.8" r="0.7" fill="#666" opacity="0.55" filter="url(#fBl2)"/>
<circle cx="56.5" cy="162.4" r="0.8" fill="#666" opacity="0.55" filter="url(#fBl2)"/>
<circle cx="179.3" cy="152.8" r="1.0" fill="#666" opacity="0.55" filter="url(#fBl2)"/>
<circle cx="50.7" cy="163.8" r="0.9" fill="#666" opacity="0.55" filter="url(#fBl2)"/>
<defs><g id="cg3"><path d="M45.8 5.0C46.8 3.5 56.8 0.0 67.9 -1.0C78.9 -2.0 97.2 -1.3 111.9 -1.0C126.6 -0.7 149.3 -0.3 156.0 1.0C162.7 2.4 157.7 6.2 152.0 7.0C146.3 7.9 132.0 6.2 122.0 6.0C111.9 5.9 101.9 5.7 91.9 6.0C81.9 6.4 69.5 8.2 61.8 8.0C54.2 7.9 44.8 6.5 45.8 5.0Z"/><path d="M111.9 8.0C114.1 7.7 117.6 7.9 120.0 11.0C122.3 14.2 124.3 21.7 126.0 27.1C127.6 32.4 129.6 39.3 130.0 43.1C130.3 46.9 130.3 49.8 128.0 50.1C125.6 50.4 119.6 47.3 115.9 45.1C112.3 42.9 108.1 40.8 105.9 37.1C103.8 33.4 102.8 27.1 102.9 23.1C103.1 19.1 105.4 15.5 106.9 13.0C108.4 10.5 109.8 8.4 111.9 8.0Z"/><path d="M62.8 46.1C63.8 44.9 70.4 42.9 75.9 43.1C81.4 43.3 91.2 44.8 95.9 47.1C100.6 49.4 101.3 53.1 103.9 57.1C106.6 61.1 109.3 67.5 111.9 71.2C114.6 74.8 120.0 78.2 120.0 79.2C120.0 80.2 115.9 78.8 111.9 77.2C107.9 75.5 101.3 72.5 95.9 69.2C90.6 65.8 84.2 60.3 79.9 57.1C75.5 54.0 72.7 52.0 69.9 50.1C67.0 48.3 61.8 47.3 62.8 46.1Z"/><path d="M130.0 67.1C131.3 64.8 135.3 61.8 140.0 59.1C144.7 56.5 153.4 52.1 158.0 51.1C162.7 50.1 166.7 50.8 168.1 53.1C169.4 55.5 167.7 62.0 166.0 65.1C164.4 68.3 161.7 70.7 158.0 72.2C154.4 73.7 148.3 74.0 144.0 74.2C139.7 74.3 134.3 74.3 132.0 73.2C129.6 72.0 128.6 69.5 130.0 67.1Z"/><path d="M177.1 61.1C178.6 58.3 188.8 53.0 191.1 56.1C193.4 59.3 192.6 77.3 191.1 80.2C189.6 83.0 184.4 76.3 182.1 73.2C179.7 70.0 175.6 64.0 177.1 61.1Z"/><path d="M11.7 89.2C13.1 85.9 21.1 83.5 27.8 81.2C34.5 78.8 43.8 75.5 51.8 75.2C59.8 74.8 70.4 76.8 75.9 79.2C81.4 81.5 84.2 86.2 84.9 89.2C85.6 92.2 82.7 95.2 79.9 97.2C77.0 99.2 70.2 97.9 67.9 101.2C65.5 104.6 65.5 111.9 65.8 117.2C66.2 122.6 70.5 127.9 69.9 133.3C69.2 138.6 64.8 147.3 61.8 149.3C58.8 151.3 55.8 148.0 51.8 145.3C47.8 142.6 41.8 138.0 37.8 133.3C33.8 128.6 30.8 122.6 27.8 117.2C24.8 111.9 22.4 105.9 19.8 101.2C17.1 96.5 10.4 92.5 11.7 89.2Z"/><path d="M79.9 117.2C82.0 114.7 88.2 117.2 91.9 118.3C95.6 119.3 100.4 120.1 101.9 123.3C103.4 126.4 101.9 131.6 100.9 137.3C99.9 143.0 98.1 153.0 95.9 157.3C93.7 161.7 90.2 164.3 87.9 163.3C85.6 162.3 83.4 156.3 81.9 151.3C80.4 146.3 79.2 139.0 78.9 133.3C78.5 127.6 77.7 119.8 79.9 117.2Z"/><path d="M113.9 115.2C116.8 112.4 125.6 110.1 132.0 108.2C138.3 106.4 145.3 105.1 152.0 104.2C158.7 103.4 167.4 103.7 172.1 103.2C176.7 102.7 180.7 100.2 180.1 101.2C179.4 102.2 172.7 105.9 168.1 109.2C163.4 112.6 157.4 117.6 152.0 121.3C146.7 124.9 141.0 129.3 136.0 131.3C131.0 133.3 125.5 134.3 122.0 133.3C118.5 132.3 116.3 128.3 114.9 125.3C113.6 122.3 111.1 118.1 113.9 115.2Z"/><path d="M-2.3 159.3C1.1 156.3 11.1 154.0 17.8 153.3C24.4 152.7 33.8 152.3 37.8 155.3C41.8 158.3 48.5 168.7 41.8 171.4C35.1 174.0 5.1 173.4 -2.3 171.4C-9.6 169.4 -5.6 162.3 -2.3 159.3Z"/><path d="M162.0 171.4C159.5 169.0 171.2 160.7 176.1 157.3C180.9 154.0 188.6 149.0 191.1 151.3C193.6 153.7 195.9 168.0 191.1 171.4C186.3 174.7 164.5 173.7 162.0 171.4Z"/></g></defs>
<use href="#cg3" fill="#909090" stroke="none" filter="url(#fTex3)"/>
<use href="#cg3" fill="none" stroke="#d4d4d4" stroke-width="2.2" opacity="0.8" transform="translate(1.1,1.0)" filter="url(#fRough)"/>
<use href="#cg3" fill="none" stroke="#4a4a4a" stroke-width="1.1" opacity="0.9" transform="translate(-0.2,-0.2)" filter="url(#fRough)"/>
<ellipse cx="55.8" cy="91.2" rx="14.0" ry="8.0" fill="#c0c0c0" opacity="0.28" filter="url(#fBl)"/>
<ellipse cx="41.8" cy="129.3" rx="8.0" ry="8.0" fill="#c0c0c0" opacity="0.28" filter="url(#fBl)"/>
<ellipse cx="89.9" cy="139.3" rx="6.0" ry="10.0" fill="#c0c0c0" opacity="0.28" filter="url(#fBl)"/>
<ellipse cx="136.0" cy="119.3" rx="10.0" ry="6.0" fill="#c0c0c0" opacity="0.28" filter="url(#fBl)"/>
<ellipse cx="148.0" cy="64.1" rx="9.0" ry="5.6" fill="#c0c0c0" opacity="0.28" filter="url(#fBl)"/>
<ellipse cx="114.9" cy="27.1" rx="6.0" ry="9.0" fill="#c0c0c0" opacity="0.28" filter="url(#fBl)"/>
<ellipse cx="91.9" cy="57.1" rx="10.0" ry="6.0" fill="#c0c0c0" opacity="0.28" filter="url(#fBl)"/>
<ellipse cx="117.0" cy="61.1" rx="4.6" ry="5.2" fill="#e8e8e8" filter="url(#fBl2)"/><ellipse cx="117.0" cy="61.1" rx="2.2" ry="3" fill="#111"/>
<circle cx="91.9" cy="30.1" r="3" fill="#808080" opacity="0.7" filter="url(#fBl)"/>
</svg>
<rect x="1172.8" y="572.0" width="189.9" height="169.9" fill="#000"/>
<path d="M1262.2 665.8L1361.9 706.7L1273.2 741.9L1172.8 701.1Z" fill="url(#pBlue)"/>
<path d="M1262.2 572.0V665.8M1172.8 701.1L1262.2 665.8L1361.9 706.7" fill="none" stroke="#b8101e" stroke-width="0.9"/>
<svg x="978.3" y="747.2" width="189.4" height="169.9" viewBox="0 0 189.4 169.9">
<g filter="url(#fGrain)"><rect x="-5" y="-5" width="199.4" height="179.9" fill="#9d9d9d"/>
<ellipse cx="30" cy="60" rx="50" ry="60" fill="#a8a8a8" opacity="0.6" transform="rotate(0 30 60)" filter="url(#fBlob)"/>
<ellipse cx="160" cy="40" rx="40" ry="40" fill="#b0b0b0" opacity="0.6" transform="rotate(0 160 40)" filter="url(#fBlob)"/>
<ellipse cx="150" cy="140" rx="50" ry="40" fill="#a9a9a9" opacity="0.6" transform="rotate(0 150 140)" filter="url(#fBlob)"/>
<ellipse cx="100" cy="160" rx="60" ry="20" fill="#9e9e9e" opacity="0.5" transform="rotate(0 100 160)" filter="url(#fBlob)"/>
</g>
<circle cx="79.2" cy="55.3" r="1.3" fill="#666" opacity="0.55" filter="url(#fBl2)"/>
<circle cx="93.2" cy="49.9" r="0.9" fill="#666" opacity="0.55" filter="url(#fBl2)"/>
<circle cx="25.4" cy="104.9" r="0.9" fill="#666" opacity="0.55" filter="url(#fBl2)"/>
<circle cx="56.8" cy="131.1" r="1.2" fill="#666" opacity="0.55" filter="url(#fBl2)"/>
<circle cx="5.4" cy="90.3" r="0.7" fill="#666" opacity="0.55" filter="url(#fBl2)"/>
<circle cx="174.5" cy="131.2" r="0.7" fill="#666" opacity="0.55" filter="url(#fBl2)"/>
<circle cx="52.1" cy="28.4" r="1.3" fill="#666" opacity="0.55" filter="url(#fBl2)"/>
<circle cx="56.8" cy="102.7" r="0.9" fill="#666" opacity="0.55" filter="url(#fBl2)"/>
<circle cx="121.3" cy="102.0" r="1.1" fill="#666" opacity="0.55" filter="url(#fBl2)"/>
<circle cx="24.7" cy="127.6" r="0.7" fill="#666" opacity="0.55" filter="url(#fBl2)"/>
<circle cx="100.8" cy="58.1" r="0.7" fill="#666" opacity="0.55" filter="url(#fBl2)"/>
<circle cx="100.2" cy="79.1" r="0.8" fill="#666" opacity="0.55" filter="url(#fBl2)"/>
<circle cx="139.6" cy="99.8" r="0.5" fill="#666" opacity="0.55" filter="url(#fBl2)"/>
<circle cx="49.3" cy="77.7" r="1.2" fill="#666" opacity="0.55" filter="url(#fBl2)"/>
<defs><g id="cg4"><path d="M77.9 0.8C81.0 -0.2 81.2 -1.2 80.9 2.8C80.5 6.8 77.5 18.2 75.9 24.9C74.2 31.5 72.2 38.9 70.9 42.9C69.5 46.9 70.0 49.3 67.9 48.9C65.7 48.6 60.8 43.9 57.8 40.9C54.8 37.9 51.0 34.2 49.8 30.9C48.6 27.5 48.8 24.5 50.8 20.9C52.8 17.2 57.3 12.2 61.8 8.8C66.3 5.5 74.7 1.8 77.9 0.8Z"/><path d="M109.9 -1.2C113.9 -4.5 127.3 -4.9 132.0 -1.2C136.7 2.5 135.3 14.8 138.0 20.9C140.7 26.9 147.0 30.9 148.0 34.9C149.0 38.9 147.3 43.1 144.0 44.9C140.7 46.7 133.3 46.1 128.0 45.9C122.6 45.7 115.6 45.4 111.9 43.9C108.3 42.4 106.6 41.1 105.9 36.9C105.3 32.7 107.3 25.2 107.9 18.9C108.6 12.5 105.9 2.2 109.9 -1.2Z"/><path d="M79.9 58.9C82.9 59.3 85.2 63.3 85.9 67.0C86.6 70.6 85.6 75.6 83.9 81.0C82.2 86.3 79.5 94.0 75.9 99.0C72.2 104.0 66.5 108.4 61.8 111.0C57.2 113.7 51.8 115.7 47.8 115.0C43.8 114.4 38.8 111.7 37.8 107.0C36.8 102.4 39.5 92.7 41.8 87.0C44.1 81.3 47.5 76.6 51.8 73.0C56.2 69.3 63.2 67.3 67.9 64.9C72.5 62.6 76.9 58.6 79.9 58.9Z"/><path d="M91.9 64.9C94.6 63.6 105.3 68.0 111.9 69.0C118.6 70.0 126.0 70.0 132.0 71.0C138.0 72.0 146.0 72.3 148.0 75.0C150.0 77.6 146.0 83.0 144.0 87.0C142.0 91.0 138.7 95.0 136.0 99.0C133.3 103.0 130.0 106.7 128.0 111.0C126.0 115.4 125.8 122.7 124.0 125.1C122.1 127.4 118.6 127.4 117.0 125.1C115.3 122.7 115.8 116.4 113.9 111.0C112.1 105.7 108.9 98.7 105.9 93.0C102.9 87.3 98.2 81.6 95.9 77.0C93.6 72.3 89.2 66.3 91.9 64.9Z"/><path d="M158.0 71.0C160.4 68.3 166.5 65.6 172.1 62.9C177.6 60.3 187.9 50.9 191.1 54.9C194.3 58.9 194.3 82.3 191.1 87.0C187.9 91.7 177.6 84.3 172.1 83.0C166.5 81.6 160.4 81.0 158.0 79.0C155.7 77.0 155.7 73.6 158.0 71.0Z"/><path d="M51.8 123.1C56.3 120.4 61.5 121.7 67.9 121.1C74.2 120.4 88.6 116.7 89.9 119.1C91.2 121.4 79.5 130.4 75.9 135.1C72.2 139.8 71.9 143.4 67.9 147.1C63.8 150.8 55.8 156.8 51.8 157.1C47.8 157.5 45.6 152.5 43.8 149.1C42.0 145.8 39.5 141.4 40.8 137.1C42.1 132.8 47.3 125.7 51.8 123.1Z"/><path d="M-2.3 99.0C-0.6 92.2 3.7 116.1 7.7 123.1C11.7 130.1 18.4 136.4 21.8 141.1C25.1 145.8 28.1 147.8 27.8 151.1C27.4 154.5 24.8 159.0 19.8 161.1C14.7 163.3 1.4 174.5 -2.3 164.1C-6.0 153.8 -4.0 105.9 -2.3 99.0Z"/><path d="M176.1 170.2C174.6 166.3 180.2 151.6 182.1 147.1C183.9 142.6 185.6 139.3 187.1 143.1C188.6 146.9 192.9 165.6 191.1 170.2C189.3 174.7 177.6 174.0 176.1 170.2Z"/><path d="M67.9 47.9C68.5 48.7 76.5 55.8 79.9 57.9C83.2 60.1 83.9 62.8 87.9 60.9C91.9 59.1 101.9 49.8 103.9 46.9C105.9 44.1 102.9 42.6 99.9 43.9C96.9 45.2 89.9 53.4 85.9 54.9C81.9 56.4 78.9 54.1 75.9 52.9C72.9 51.8 67.2 47.1 67.9 47.9Z"/><path d="M144.0 44.9C144.3 47.2 149.0 52.9 152.0 56.9C155.0 60.9 159.4 67.6 162.0 69.0C164.7 70.3 168.7 67.3 168.1 64.9C167.4 62.6 161.0 58.6 158.0 54.9C155.0 51.3 152.4 44.6 150.0 42.9C147.7 41.2 143.7 42.6 144.0 44.9Z"/></g></defs>
<use href="#cg4" fill="#8e8e8e" stroke="none" filter="url(#fTex4)"/>
<use href="#cg4" fill="none" stroke="#cccccc" stroke-width="2.2" opacity="0.7" transform="translate(1.1,1.0)" filter="url(#fRough)"/>
<use href="#cg4" fill="none" stroke="#505050" stroke-width="1.1" opacity="0.9" transform="translate(-0.2,-0.2)" filter="url(#fRough)"/>
<ellipse cx="63.8" cy="26.9" rx="7.0" ry="8.0" fill="#c0c0c0" opacity="0.28" filter="url(#fBl)"/>
<ellipse cx="122.0" cy="26.9" rx="10.0" ry="12.0" fill="#c0c0c0" opacity="0.28" filter="url(#fBl)"/>
<ellipse cx="59.8" cy="87.0" rx="12.0" ry="12.0" fill="#c0c0c0" opacity="0.28" filter="url(#fBl)"/>
<ellipse cx="122.0" cy="87.0" rx="12.0" ry="10.0" fill="#c0c0c0" opacity="0.28" filter="url(#fBl)"/>
<ellipse cx="61.8" cy="134.1" rx="9.0" ry="8.0" fill="#c0c0c0" opacity="0.28" filter="url(#fBl)"/>
<ellipse cx="13.7" cy="151.1" rx="8.0" ry="7.0" fill="#c0c0c0" opacity="0.28" filter="url(#fBl)"/>
<ellipse cx="176.1" cy="75.0" rx="10.0" ry="8.0" fill="#c0c0c0" opacity="0.28" filter="url(#fBl)"/>
<circle cx="63.8" cy="26.5" r="2.0" fill="#d8d8d8" opacity="0.8" filter="url(#fBl2)"/>
<circle cx="61.8" cy="133.5" r="1.8" fill="#d8d8d8" opacity="0.8" filter="url(#fBl2)"/>
<circle cx="64.8" cy="85.0" r="1.4" fill="#d8d8d8" opacity="0.8" filter="url(#fBl2)"/>
<circle cx="91.3" cy="29.9" r="3.2" fill="#7c7c7c" opacity="0.8" filter="url(#fBl)"/>
</svg>
<rect x="1172.8" y="747.2" width="189.9" height="169.9" fill="#000"/>
<path d="M1262.2 841.0L1361.9 881.9000000000001L1273.2 917.1L1172.8 876.3000000000001Z" fill="url(#pBlue)"/>
<path d="M1262.2 747.2V841.0M1172.8 876.3000000000001L1262.2 841.0L1361.9 881.9000000000001" fill="none" stroke="#b8101e" stroke-width="0.9"/>
<rect x="1310.9" y="52" width="16" height="84.2" fill="url(#gBar)"/>
<text x="1334.5" y="66.8" font-size="11.8" style="fill:#fff">255</text>
<text x="1334.5" y="126.7" font-size="11.8" style="fill:#fff">0</text>
<text x="999.4" y="35.7" font-size="27.2">HSA-(ABC)<tspan font-size="17.5" dy="5.5">5</tspan></text>
<text x="1263.5" y="35.7" font-size="27" text-anchor="middle">3D models</text>
<text x="945.2" y="29" font-size="36.3">D</text>
<text x="961.3" y="139.8" font-size="27.4" text-anchor="middle">I</text>
<text x="961.3" y="302.2" font-size="27.4" text-anchor="middle">II</text>
<text x="961.3" y="497" font-size="27.4" text-anchor="middle">III</text>
<text x="961.3" y="659.7" font-size="27.4" text-anchor="middle">IV</text>
<text x="961.3" y="854" font-size="27.4" text-anchor="middle">V</text>
</svg>
</body></html>
